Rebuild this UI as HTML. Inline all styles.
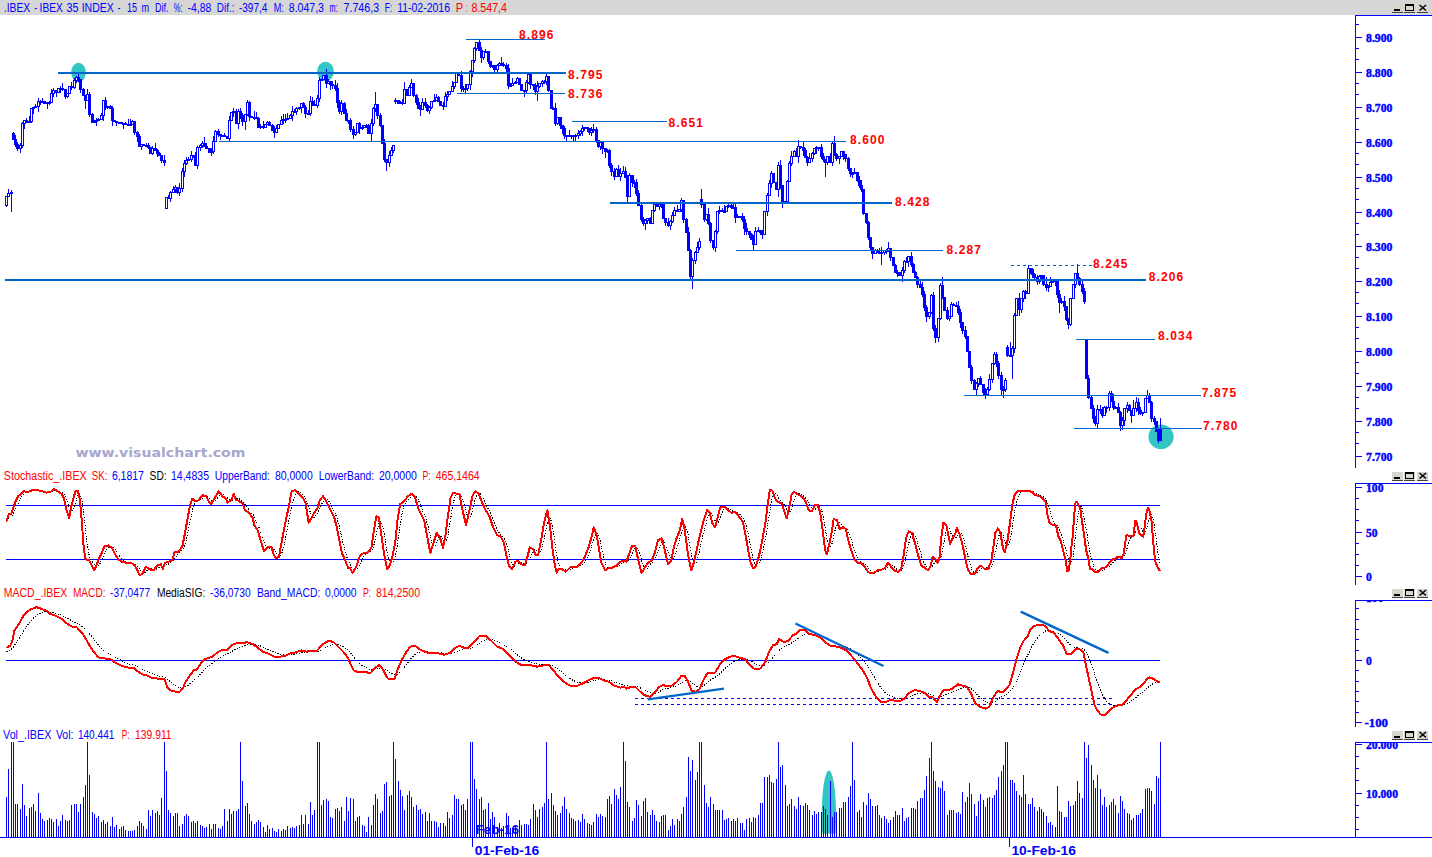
<!DOCTYPE html>
<html><head><meta charset="utf-8"><title>IBEX 35 chart</title><style>html,body{margin:0;padding:0;background:#fff;overflow:hidden}svg{display:block}</style></head><body>
<svg width="1432" height="857" viewBox="0 0 1432 857" shape-rendering="crispEdges">
<rect x="0" y="0" width="1432" height="857" fill="#ffffff"/>
<rect x="0" y="0" width="1432" height="15" fill="#d6d6d6"/>
<g shape-rendering="auto">
<ellipse cx="78.5" cy="72.5" rx="7.3" ry="9.8" fill="#33c4c4"/>
<ellipse cx="325.5" cy="71.5" rx="8.3" ry="9.8" fill="#33c4c4"/>
<ellipse cx="1161" cy="436.8" rx="12.6" ry="12.4" fill="#33c4c4"/>
<clipPath id="ce"><rect x="820" y="760" width="20" height="73.5"/></clipPath><ellipse cx="828.9" cy="815.7" rx="7.2" ry="45.2" fill="#33c4c4" clip-path="url(#ce)"/>
</g>
<rect x="6" y="196" width="1" height="11" fill="#0000ff"/>
<rect x="5" y="196" width="3" height="10" fill="#0000ff"/>
<rect x="6" y="197" width="1" height="8" fill="#fff"/>
<rect x="8" y="189" width="1" height="8" fill="#0000ff"/>
<rect x="7" y="193" width="3" height="4" fill="#0000ff"/>
<rect x="8" y="194" width="1" height="2" fill="#fff"/>
<rect x="11" y="190" width="1" height="22" fill="#0000ff"/>
<rect x="10" y="192" width="3" height="2" fill="#0000ff"/>
<rect x="13" y="132" width="1" height="8" fill="#0000ff"/>
<rect x="12" y="133" width="3" height="7" fill="#0000ff"/>
<rect x="15" y="135" width="1" height="12" fill="#0000ff"/>
<rect x="14" y="139" width="3" height="6" fill="#0000ff"/>
<rect x="17" y="142" width="1" height="9" fill="#0000ff"/>
<rect x="16" y="144" width="3" height="5" fill="#0000ff"/>
<rect x="20" y="143" width="1" height="10" fill="#0000ff"/>
<rect x="19" y="145" width="3" height="4" fill="#0000ff"/>
<rect x="20" y="146" width="1" height="2" fill="#fff"/>
<rect x="22" y="122" width="1" height="26" fill="#0000ff"/>
<rect x="21" y="123" width="3" height="23" fill="#0000ff"/>
<rect x="22" y="124" width="1" height="21" fill="#fff"/>
<rect x="24" y="120" width="1" height="9" fill="#0000ff"/>
<rect x="23" y="120" width="3" height="4" fill="#0000ff"/>
<rect x="24" y="121" width="1" height="2" fill="#fff"/>
<rect x="26" y="118" width="1" height="5" fill="#0000ff"/>
<rect x="25" y="120" width="3" height="3" fill="#0000ff"/>
<rect x="29" y="116" width="1" height="7" fill="#0000ff"/>
<rect x="28" y="121" width="3" height="2" fill="#0000ff"/>
<rect x="31" y="108" width="1" height="15" fill="#0000ff"/>
<rect x="30" y="108" width="3" height="14" fill="#0000ff"/>
<rect x="31" y="109" width="1" height="12" fill="#fff"/>
<rect x="33" y="107" width="1" height="7" fill="#0000ff"/>
<rect x="32" y="107" width="3" height="2" fill="#0000ff"/>
<rect x="35" y="104" width="1" height="4" fill="#0000ff"/>
<rect x="34" y="106" width="3" height="2" fill="#0000ff"/>
<rect x="38" y="98" width="1" height="14" fill="#0000ff"/>
<rect x="37" y="101" width="3" height="6" fill="#0000ff"/>
<rect x="38" y="102" width="1" height="4" fill="#fff"/>
<rect x="40" y="100" width="1" height="5" fill="#0000ff"/>
<rect x="39" y="101" width="3" height="2" fill="#0000ff"/>
<rect x="42" y="98" width="1" height="5" fill="#0000ff"/>
<rect x="41" y="101" width="3" height="2" fill="#0000ff"/>
<rect x="44" y="101" width="1" height="3" fill="#0000ff"/>
<rect x="43" y="101" width="3" height="3" fill="#0000ff"/>
<rect x="47" y="102" width="1" height="7" fill="#0000ff"/>
<rect x="46" y="102" width="3" height="2" fill="#0000ff"/>
<rect x="49" y="101" width="1" height="4" fill="#0000ff"/>
<rect x="48" y="102" width="3" height="2" fill="#0000ff"/>
<rect x="51" y="89" width="1" height="14" fill="#0000ff"/>
<rect x="50" y="93" width="3" height="10" fill="#0000ff"/>
<rect x="51" y="94" width="1" height="8" fill="#fff"/>
<rect x="53" y="88" width="1" height="9" fill="#0000ff"/>
<rect x="52" y="90" width="3" height="4" fill="#0000ff"/>
<rect x="53" y="91" width="1" height="2" fill="#fff"/>
<rect x="56" y="90" width="1" height="7" fill="#0000ff"/>
<rect x="55" y="90" width="3" height="3" fill="#0000ff"/>
<rect x="58" y="88" width="1" height="5" fill="#0000ff"/>
<rect x="57" y="88" width="3" height="5" fill="#0000ff"/>
<rect x="58" y="89" width="1" height="3" fill="#fff"/>
<rect x="60" y="86" width="1" height="7" fill="#0000ff"/>
<rect x="59" y="88" width="3" height="2" fill="#0000ff"/>
<rect x="62" y="83" width="1" height="8" fill="#0000ff"/>
<rect x="61" y="88" width="3" height="2" fill="#0000ff"/>
<rect x="65" y="89" width="1" height="10" fill="#0000ff"/>
<rect x="64" y="89" width="3" height="8" fill="#0000ff"/>
<rect x="67" y="93" width="1" height="5" fill="#0000ff"/>
<rect x="66" y="93" width="3" height="4" fill="#0000ff"/>
<rect x="67" y="94" width="1" height="2" fill="#fff"/>
<rect x="69" y="86" width="1" height="8" fill="#0000ff"/>
<rect x="68" y="86" width="3" height="8" fill="#0000ff"/>
<rect x="69" y="87" width="1" height="6" fill="#fff"/>
<rect x="71" y="82" width="1" height="8" fill="#0000ff"/>
<rect x="70" y="86" width="3" height="2" fill="#0000ff"/>
<rect x="74" y="78" width="1" height="11" fill="#0000ff"/>
<rect x="73" y="80" width="3" height="8" fill="#0000ff"/>
<rect x="74" y="81" width="1" height="6" fill="#fff"/>
<rect x="76" y="76" width="1" height="7" fill="#0000ff"/>
<rect x="75" y="77" width="3" height="4" fill="#0000ff"/>
<rect x="76" y="78" width="1" height="2" fill="#fff"/>
<rect x="78" y="72" width="1" height="10" fill="#0000ff"/>
<rect x="77" y="77" width="3" height="3" fill="#0000ff"/>
<rect x="80" y="79" width="1" height="14" fill="#0000ff"/>
<rect x="79" y="79" width="3" height="11" fill="#0000ff"/>
<rect x="83" y="88" width="1" height="8" fill="#0000ff"/>
<rect x="82" y="89" width="3" height="7" fill="#0000ff"/>
<rect x="85" y="95" width="1" height="14" fill="#0000ff"/>
<rect x="84" y="95" width="3" height="6" fill="#0000ff"/>
<rect x="87" y="89" width="1" height="12" fill="#0000ff"/>
<rect x="86" y="94" width="3" height="7" fill="#0000ff"/>
<rect x="87" y="95" width="1" height="5" fill="#fff"/>
<rect x="89" y="92" width="1" height="25" fill="#0000ff"/>
<rect x="88" y="94" width="3" height="21" fill="#0000ff"/>
<rect x="92" y="113" width="1" height="10" fill="#0000ff"/>
<rect x="91" y="114" width="3" height="9" fill="#0000ff"/>
<rect x="94" y="120" width="1" height="3" fill="#0000ff"/>
<rect x="93" y="121" width="3" height="2" fill="#0000ff"/>
<rect x="96" y="118" width="1" height="8" fill="#0000ff"/>
<rect x="95" y="120" width="3" height="2" fill="#0000ff"/>
<rect x="98" y="118" width="1" height="3" fill="#0000ff"/>
<rect x="97" y="119" width="3" height="2" fill="#0000ff"/>
<rect x="101" y="113" width="1" height="7" fill="#0000ff"/>
<rect x="100" y="115" width="3" height="5" fill="#0000ff"/>
<rect x="101" y="116" width="1" height="3" fill="#fff"/>
<rect x="103" y="100" width="1" height="21" fill="#0000ff"/>
<rect x="102" y="100" width="3" height="16" fill="#0000ff"/>
<rect x="103" y="101" width="1" height="14" fill="#fff"/>
<rect x="105" y="97" width="1" height="13" fill="#0000ff"/>
<rect x="104" y="100" width="3" height="8" fill="#0000ff"/>
<rect x="107" y="106" width="1" height="3" fill="#0000ff"/>
<rect x="106" y="106" width="3" height="2" fill="#0000ff"/>
<rect x="110" y="105" width="1" height="4" fill="#0000ff"/>
<rect x="109" y="106" width="3" height="3" fill="#0000ff"/>
<rect x="112" y="106" width="1" height="20" fill="#0000ff"/>
<rect x="111" y="108" width="3" height="13" fill="#0000ff"/>
<rect x="114" y="120" width="1" height="2" fill="#0000ff"/>
<rect x="113" y="120" width="3" height="2" fill="#0000ff"/>
<rect x="116" y="121" width="1" height="5" fill="#0000ff"/>
<rect x="115" y="121" width="3" height="2" fill="#0000ff"/>
<rect x="118" y="122" width="3" height="2" fill="#0000ff"/>
<rect x="121" y="122" width="1" height="2" fill="#0000ff"/>
<rect x="120" y="122" width="3" height="2" fill="#0000ff"/>
<rect x="123" y="123" width="1" height="6" fill="#0000ff"/>
<rect x="122" y="123" width="3" height="2" fill="#0000ff"/>
<rect x="125" y="122" width="1" height="3" fill="#0000ff"/>
<rect x="124" y="123" width="3" height="2" fill="#0000ff"/>
<rect x="128" y="119" width="1" height="6" fill="#0000ff"/>
<rect x="127" y="124" width="3" height="2" fill="#0000ff"/>
<rect x="130" y="119" width="1" height="6" fill="#0000ff"/>
<rect x="129" y="124" width="3" height="2" fill="#0000ff"/>
<rect x="132" y="120" width="1" height="5" fill="#0000ff"/>
<rect x="131" y="121" width="3" height="4" fill="#0000ff"/>
<rect x="132" y="122" width="1" height="2" fill="#fff"/>
<rect x="134" y="121" width="1" height="14" fill="#0000ff"/>
<rect x="133" y="121" width="3" height="12" fill="#0000ff"/>
<rect x="137" y="131" width="1" height="11" fill="#0000ff"/>
<rect x="136" y="132" width="3" height="5" fill="#0000ff"/>
<rect x="139" y="134" width="1" height="13" fill="#0000ff"/>
<rect x="138" y="136" width="3" height="11" fill="#0000ff"/>
<rect x="141" y="144" width="1" height="6" fill="#0000ff"/>
<rect x="140" y="144" width="3" height="3" fill="#0000ff"/>
<rect x="141" y="145" width="1" height="1" fill="#fff"/>
<rect x="143" y="144" width="1" height="2" fill="#0000ff"/>
<rect x="142" y="144" width="3" height="2" fill="#0000ff"/>
<rect x="146" y="143" width="1" height="3" fill="#0000ff"/>
<rect x="145" y="145" width="3" height="2" fill="#0000ff"/>
<rect x="148" y="143" width="1" height="6" fill="#0000ff"/>
<rect x="147" y="145" width="3" height="3" fill="#0000ff"/>
<rect x="150" y="147" width="1" height="7" fill="#0000ff"/>
<rect x="149" y="147" width="3" height="7" fill="#0000ff"/>
<rect x="152" y="146" width="1" height="9" fill="#0000ff"/>
<rect x="151" y="148" width="3" height="6" fill="#0000ff"/>
<rect x="152" y="149" width="1" height="4" fill="#fff"/>
<rect x="155" y="143" width="1" height="8" fill="#0000ff"/>
<rect x="154" y="148" width="3" height="3" fill="#0000ff"/>
<rect x="157" y="149" width="1" height="8" fill="#0000ff"/>
<rect x="156" y="150" width="3" height="4" fill="#0000ff"/>
<rect x="159" y="152" width="1" height="4" fill="#0000ff"/>
<rect x="158" y="153" width="3" height="3" fill="#0000ff"/>
<rect x="161" y="155" width="1" height="8" fill="#0000ff"/>
<rect x="160" y="155" width="3" height="6" fill="#0000ff"/>
<rect x="164" y="155" width="1" height="11" fill="#0000ff"/>
<rect x="163" y="160" width="3" height="3" fill="#0000ff"/>
<rect x="166" y="197" width="1" height="12" fill="#0000ff"/>
<rect x="165" y="197" width="3" height="12" fill="#0000ff"/>
<rect x="166" y="198" width="1" height="10" fill="#fff"/>
<rect x="168" y="195" width="1" height="4" fill="#0000ff"/>
<rect x="167" y="197" width="3" height="2" fill="#0000ff"/>
<rect x="170" y="191" width="1" height="11" fill="#0000ff"/>
<rect x="169" y="192" width="3" height="7" fill="#0000ff"/>
<rect x="170" y="193" width="1" height="5" fill="#fff"/>
<rect x="173" y="186" width="1" height="7" fill="#0000ff"/>
<rect x="172" y="189" width="3" height="4" fill="#0000ff"/>
<rect x="173" y="190" width="1" height="2" fill="#fff"/>
<rect x="175" y="185" width="1" height="8" fill="#0000ff"/>
<rect x="174" y="187" width="3" height="3" fill="#0000ff"/>
<rect x="175" y="188" width="1" height="1" fill="#fff"/>
<rect x="177" y="187" width="1" height="7" fill="#0000ff"/>
<rect x="176" y="187" width="3" height="6" fill="#0000ff"/>
<rect x="179" y="183" width="1" height="13" fill="#0000ff"/>
<rect x="178" y="188" width="3" height="5" fill="#0000ff"/>
<rect x="179" y="189" width="1" height="3" fill="#fff"/>
<rect x="182" y="168" width="1" height="24" fill="#0000ff"/>
<rect x="181" y="171" width="3" height="18" fill="#0000ff"/>
<rect x="182" y="172" width="1" height="16" fill="#fff"/>
<rect x="184" y="160" width="1" height="17" fill="#0000ff"/>
<rect x="183" y="163" width="3" height="9" fill="#0000ff"/>
<rect x="184" y="164" width="1" height="7" fill="#fff"/>
<rect x="186" y="157" width="1" height="8" fill="#0000ff"/>
<rect x="185" y="160" width="3" height="4" fill="#0000ff"/>
<rect x="186" y="161" width="1" height="2" fill="#fff"/>
<rect x="188" y="157" width="1" height="4" fill="#0000ff"/>
<rect x="187" y="159" width="3" height="2" fill="#0000ff"/>
<rect x="191" y="151" width="1" height="11" fill="#0000ff"/>
<rect x="190" y="155" width="3" height="5" fill="#0000ff"/>
<rect x="191" y="156" width="1" height="3" fill="#fff"/>
<rect x="193" y="155" width="1" height="3" fill="#0000ff"/>
<rect x="192" y="155" width="3" height="3" fill="#0000ff"/>
<rect x="195" y="152" width="1" height="14" fill="#0000ff"/>
<rect x="194" y="157" width="3" height="9" fill="#0000ff"/>
<rect x="197" y="146" width="1" height="23" fill="#0000ff"/>
<rect x="196" y="147" width="3" height="19" fill="#0000ff"/>
<rect x="197" y="148" width="1" height="17" fill="#fff"/>
<rect x="200" y="144" width="1" height="7" fill="#0000ff"/>
<rect x="199" y="145" width="3" height="3" fill="#0000ff"/>
<rect x="200" y="146" width="1" height="1" fill="#fff"/>
<rect x="202" y="141" width="1" height="7" fill="#0000ff"/>
<rect x="201" y="143" width="3" height="3" fill="#0000ff"/>
<rect x="202" y="144" width="1" height="1" fill="#fff"/>
<rect x="204" y="137" width="1" height="10" fill="#0000ff"/>
<rect x="203" y="143" width="3" height="4" fill="#0000ff"/>
<rect x="206" y="143" width="1" height="6" fill="#0000ff"/>
<rect x="205" y="146" width="3" height="3" fill="#0000ff"/>
<rect x="209" y="148" width="1" height="5" fill="#0000ff"/>
<rect x="208" y="148" width="3" height="5" fill="#0000ff"/>
<rect x="211" y="148" width="1" height="8" fill="#0000ff"/>
<rect x="210" y="151" width="3" height="2" fill="#0000ff"/>
<rect x="213" y="136" width="1" height="18" fill="#0000ff"/>
<rect x="212" y="141" width="3" height="11" fill="#0000ff"/>
<rect x="213" y="142" width="1" height="9" fill="#fff"/>
<rect x="215" y="130" width="1" height="12" fill="#0000ff"/>
<rect x="214" y="131" width="3" height="11" fill="#0000ff"/>
<rect x="215" y="132" width="1" height="9" fill="#fff"/>
<rect x="218" y="129" width="1" height="8" fill="#0000ff"/>
<rect x="217" y="131" width="3" height="4" fill="#0000ff"/>
<rect x="220" y="134" width="1" height="6" fill="#0000ff"/>
<rect x="219" y="134" width="3" height="2" fill="#0000ff"/>
<rect x="222" y="135" width="1" height="2" fill="#0000ff"/>
<rect x="221" y="135" width="3" height="2" fill="#0000ff"/>
<rect x="224" y="133" width="1" height="4" fill="#0000ff"/>
<rect x="223" y="135" width="3" height="2" fill="#0000ff"/>
<rect x="227" y="136" width="1" height="3" fill="#0000ff"/>
<rect x="226" y="136" width="3" height="3" fill="#0000ff"/>
<rect x="229" y="116" width="1" height="25" fill="#0000ff"/>
<rect x="228" y="120" width="3" height="19" fill="#0000ff"/>
<rect x="229" y="121" width="1" height="17" fill="#fff"/>
<rect x="231" y="112" width="1" height="9" fill="#0000ff"/>
<rect x="230" y="112" width="3" height="9" fill="#0000ff"/>
<rect x="231" y="113" width="1" height="7" fill="#fff"/>
<rect x="233" y="108" width="1" height="9" fill="#0000ff"/>
<rect x="232" y="111" width="3" height="2" fill="#0000ff"/>
<rect x="236" y="109" width="1" height="15" fill="#0000ff"/>
<rect x="235" y="111" width="3" height="13" fill="#0000ff"/>
<rect x="238" y="109" width="1" height="20" fill="#0000ff"/>
<rect x="237" y="111" width="3" height="13" fill="#0000ff"/>
<rect x="238" y="112" width="1" height="11" fill="#fff"/>
<rect x="240" y="108" width="1" height="11" fill="#0000ff"/>
<rect x="239" y="111" width="3" height="5" fill="#0000ff"/>
<rect x="242" y="113" width="1" height="13" fill="#0000ff"/>
<rect x="241" y="115" width="3" height="7" fill="#0000ff"/>
<rect x="245" y="114" width="1" height="16" fill="#0000ff"/>
<rect x="244" y="114" width="3" height="8" fill="#0000ff"/>
<rect x="245" y="115" width="1" height="6" fill="#fff"/>
<rect x="247" y="100" width="1" height="16" fill="#0000ff"/>
<rect x="246" y="102" width="3" height="13" fill="#0000ff"/>
<rect x="247" y="103" width="1" height="11" fill="#fff"/>
<rect x="249" y="101" width="1" height="20" fill="#0000ff"/>
<rect x="248" y="102" width="3" height="15" fill="#0000ff"/>
<rect x="251" y="116" width="1" height="2" fill="#0000ff"/>
<rect x="250" y="116" width="3" height="2" fill="#0000ff"/>
<rect x="254" y="111" width="1" height="9" fill="#0000ff"/>
<rect x="253" y="117" width="3" height="2" fill="#0000ff"/>
<rect x="256" y="112" width="1" height="7" fill="#0000ff"/>
<rect x="255" y="117" width="3" height="2" fill="#0000ff"/>
<rect x="258" y="117" width="1" height="11" fill="#0000ff"/>
<rect x="257" y="118" width="3" height="10" fill="#0000ff"/>
<rect x="260" y="124" width="1" height="5" fill="#0000ff"/>
<rect x="259" y="126" width="3" height="2" fill="#0000ff"/>
<rect x="263" y="121" width="1" height="8" fill="#0000ff"/>
<rect x="262" y="126" width="3" height="2" fill="#0000ff"/>
<rect x="265" y="124" width="1" height="4" fill="#0000ff"/>
<rect x="264" y="124" width="3" height="4" fill="#0000ff"/>
<rect x="265" y="125" width="1" height="2" fill="#fff"/>
<rect x="267" y="121" width="1" height="4" fill="#0000ff"/>
<rect x="266" y="122" width="3" height="3" fill="#0000ff"/>
<rect x="267" y="123" width="1" height="1" fill="#fff"/>
<rect x="269" y="121" width="1" height="5" fill="#0000ff"/>
<rect x="268" y="122" width="3" height="4" fill="#0000ff"/>
<rect x="272" y="124" width="1" height="7" fill="#0000ff"/>
<rect x="271" y="125" width="3" height="6" fill="#0000ff"/>
<rect x="274" y="126" width="1" height="12" fill="#0000ff"/>
<rect x="273" y="130" width="3" height="3" fill="#0000ff"/>
<rect x="276" y="125" width="1" height="8" fill="#0000ff"/>
<rect x="275" y="128" width="3" height="5" fill="#0000ff"/>
<rect x="276" y="129" width="1" height="3" fill="#fff"/>
<rect x="278" y="124" width="1" height="5" fill="#0000ff"/>
<rect x="277" y="124" width="3" height="5" fill="#0000ff"/>
<rect x="278" y="125" width="1" height="3" fill="#fff"/>
<rect x="281" y="116" width="1" height="9" fill="#0000ff"/>
<rect x="280" y="120" width="3" height="5" fill="#0000ff"/>
<rect x="281" y="121" width="1" height="3" fill="#fff"/>
<rect x="283" y="114" width="1" height="10" fill="#0000ff"/>
<rect x="282" y="119" width="3" height="2" fill="#0000ff"/>
<rect x="285" y="114" width="1" height="9" fill="#0000ff"/>
<rect x="284" y="119" width="3" height="2" fill="#0000ff"/>
<rect x="287" y="113" width="1" height="7" fill="#0000ff"/>
<rect x="286" y="118" width="3" height="2" fill="#0000ff"/>
<rect x="290" y="114" width="1" height="5" fill="#0000ff"/>
<rect x="289" y="115" width="3" height="4" fill="#0000ff"/>
<rect x="290" y="116" width="1" height="2" fill="#fff"/>
<rect x="292" y="106" width="1" height="15" fill="#0000ff"/>
<rect x="291" y="111" width="3" height="5" fill="#0000ff"/>
<rect x="292" y="112" width="1" height="3" fill="#fff"/>
<rect x="294" y="109" width="1" height="3" fill="#0000ff"/>
<rect x="293" y="111" width="3" height="2" fill="#0000ff"/>
<rect x="296" y="107" width="1" height="8" fill="#0000ff"/>
<rect x="295" y="108" width="3" height="4" fill="#0000ff"/>
<rect x="296" y="109" width="1" height="2" fill="#fff"/>
<rect x="299" y="107" width="1" height="3" fill="#0000ff"/>
<rect x="298" y="107" width="3" height="2" fill="#0000ff"/>
<rect x="301" y="103" width="1" height="10" fill="#0000ff"/>
<rect x="300" y="103" width="3" height="5" fill="#0000ff"/>
<rect x="301" y="104" width="1" height="3" fill="#fff"/>
<rect x="303" y="102" width="1" height="6" fill="#0000ff"/>
<rect x="302" y="103" width="3" height="5" fill="#0000ff"/>
<rect x="305" y="105" width="1" height="13" fill="#0000ff"/>
<rect x="304" y="107" width="3" height="7" fill="#0000ff"/>
<rect x="308" y="110" width="1" height="4" fill="#0000ff"/>
<rect x="307" y="113" width="3" height="2" fill="#0000ff"/>
<rect x="310" y="96" width="1" height="20" fill="#0000ff"/>
<rect x="309" y="101" width="3" height="13" fill="#0000ff"/>
<rect x="310" y="102" width="1" height="11" fill="#fff"/>
<rect x="312" y="97" width="1" height="9" fill="#0000ff"/>
<rect x="311" y="101" width="3" height="4" fill="#0000ff"/>
<rect x="314" y="100" width="1" height="6" fill="#0000ff"/>
<rect x="313" y="104" width="3" height="2" fill="#0000ff"/>
<rect x="317" y="95" width="1" height="13" fill="#0000ff"/>
<rect x="316" y="98" width="3" height="8" fill="#0000ff"/>
<rect x="317" y="99" width="1" height="6" fill="#fff"/>
<rect x="319" y="77" width="1" height="25" fill="#0000ff"/>
<rect x="318" y="80" width="3" height="19" fill="#0000ff"/>
<rect x="319" y="81" width="1" height="17" fill="#fff"/>
<rect x="321" y="79" width="1" height="2" fill="#0000ff"/>
<rect x="320" y="79" width="3" height="2" fill="#0000ff"/>
<rect x="323" y="75" width="1" height="5" fill="#0000ff"/>
<rect x="322" y="75" width="3" height="5" fill="#0000ff"/>
<rect x="323" y="76" width="1" height="3" fill="#fff"/>
<rect x="326" y="69" width="1" height="19" fill="#0000ff"/>
<rect x="325" y="75" width="3" height="9" fill="#0000ff"/>
<rect x="328" y="79" width="1" height="5" fill="#0000ff"/>
<rect x="327" y="81" width="3" height="3" fill="#0000ff"/>
<rect x="328" y="82" width="1" height="1" fill="#fff"/>
<rect x="330" y="81" width="1" height="9" fill="#0000ff"/>
<rect x="329" y="81" width="3" height="4" fill="#0000ff"/>
<rect x="332" y="81" width="1" height="8" fill="#0000ff"/>
<rect x="331" y="84" width="3" height="2" fill="#0000ff"/>
<rect x="335" y="80" width="1" height="11" fill="#0000ff"/>
<rect x="334" y="85" width="3" height="4" fill="#0000ff"/>
<rect x="337" y="83" width="1" height="25" fill="#0000ff"/>
<rect x="336" y="88" width="3" height="15" fill="#0000ff"/>
<rect x="339" y="100" width="1" height="14" fill="#0000ff"/>
<rect x="338" y="102" width="3" height="10" fill="#0000ff"/>
<rect x="341" y="100" width="1" height="15" fill="#0000ff"/>
<rect x="340" y="103" width="3" height="9" fill="#0000ff"/>
<rect x="341" y="104" width="1" height="7" fill="#fff"/>
<rect x="344" y="102" width="1" height="12" fill="#0000ff"/>
<rect x="343" y="103" width="3" height="11" fill="#0000ff"/>
<rect x="346" y="109" width="1" height="12" fill="#0000ff"/>
<rect x="345" y="113" width="3" height="8" fill="#0000ff"/>
<rect x="348" y="120" width="1" height="4" fill="#0000ff"/>
<rect x="347" y="120" width="3" height="2" fill="#0000ff"/>
<rect x="350" y="118" width="1" height="14" fill="#0000ff"/>
<rect x="349" y="120" width="3" height="10" fill="#0000ff"/>
<rect x="353" y="126" width="1" height="13" fill="#0000ff"/>
<rect x="352" y="129" width="3" height="6" fill="#0000ff"/>
<rect x="355" y="132" width="1" height="4" fill="#0000ff"/>
<rect x="354" y="132" width="3" height="3" fill="#0000ff"/>
<rect x="355" y="133" width="1" height="1" fill="#fff"/>
<rect x="357" y="123" width="1" height="10" fill="#0000ff"/>
<rect x="356" y="123" width="3" height="10" fill="#0000ff"/>
<rect x="357" y="124" width="1" height="8" fill="#fff"/>
<rect x="359" y="122" width="1" height="12" fill="#0000ff"/>
<rect x="358" y="123" width="3" height="6" fill="#0000ff"/>
<rect x="362" y="125" width="1" height="5" fill="#0000ff"/>
<rect x="361" y="127" width="3" height="2" fill="#0000ff"/>
<rect x="364" y="125" width="1" height="3" fill="#0000ff"/>
<rect x="363" y="125" width="3" height="3" fill="#0000ff"/>
<rect x="364" y="126" width="1" height="1" fill="#fff"/>
<rect x="366" y="124" width="1" height="4" fill="#0000ff"/>
<rect x="365" y="125" width="3" height="2" fill="#0000ff"/>
<rect x="368" y="124" width="1" height="10" fill="#0000ff"/>
<rect x="367" y="125" width="3" height="9" fill="#0000ff"/>
<rect x="371" y="119" width="1" height="22" fill="#0000ff"/>
<rect x="370" y="123" width="3" height="11" fill="#0000ff"/>
<rect x="371" y="124" width="1" height="9" fill="#fff"/>
<rect x="373" y="107" width="1" height="19" fill="#0000ff"/>
<rect x="372" y="108" width="3" height="16" fill="#0000ff"/>
<rect x="373" y="109" width="1" height="14" fill="#fff"/>
<rect x="375" y="92" width="1" height="20" fill="#0000ff"/>
<rect x="374" y="104" width="3" height="5" fill="#0000ff"/>
<rect x="375" y="105" width="1" height="3" fill="#fff"/>
<rect x="377" y="104" width="1" height="15" fill="#0000ff"/>
<rect x="376" y="104" width="3" height="12" fill="#0000ff"/>
<rect x="380" y="113" width="1" height="14" fill="#0000ff"/>
<rect x="379" y="115" width="3" height="11" fill="#0000ff"/>
<rect x="382" y="125" width="1" height="19" fill="#0000ff"/>
<rect x="381" y="125" width="3" height="19" fill="#0000ff"/>
<rect x="384" y="139" width="1" height="23" fill="#0000ff"/>
<rect x="383" y="143" width="3" height="17" fill="#0000ff"/>
<rect x="386" y="159" width="1" height="12" fill="#0000ff"/>
<rect x="385" y="159" width="3" height="4" fill="#0000ff"/>
<rect x="389" y="151" width="1" height="16" fill="#0000ff"/>
<rect x="388" y="155" width="3" height="8" fill="#0000ff"/>
<rect x="389" y="156" width="1" height="6" fill="#fff"/>
<rect x="391" y="147" width="1" height="9" fill="#0000ff"/>
<rect x="390" y="150" width="3" height="6" fill="#0000ff"/>
<rect x="391" y="151" width="1" height="4" fill="#fff"/>
<rect x="393" y="145" width="1" height="8" fill="#0000ff"/>
<rect x="392" y="145" width="3" height="6" fill="#0000ff"/>
<rect x="393" y="146" width="1" height="4" fill="#fff"/>
<rect x="395" y="98" width="1" height="6" fill="#0000ff"/>
<rect x="394" y="100" width="3" height="2" fill="#0000ff"/>
<rect x="398" y="100" width="1" height="4" fill="#0000ff"/>
<rect x="397" y="100" width="3" height="4" fill="#0000ff"/>
<rect x="400" y="101" width="1" height="3" fill="#0000ff"/>
<rect x="399" y="102" width="3" height="2" fill="#0000ff"/>
<rect x="402" y="99" width="1" height="6" fill="#0000ff"/>
<rect x="401" y="102" width="3" height="2" fill="#0000ff"/>
<rect x="404" y="82" width="1" height="22" fill="#0000ff"/>
<rect x="403" y="89" width="3" height="15" fill="#0000ff"/>
<rect x="404" y="90" width="1" height="13" fill="#fff"/>
<rect x="407" y="89" width="1" height="7" fill="#0000ff"/>
<rect x="406" y="89" width="3" height="7" fill="#0000ff"/>
<rect x="409" y="85" width="1" height="11" fill="#0000ff"/>
<rect x="408" y="87" width="3" height="9" fill="#0000ff"/>
<rect x="409" y="88" width="1" height="7" fill="#fff"/>
<rect x="411" y="79" width="1" height="9" fill="#0000ff"/>
<rect x="410" y="83" width="3" height="5" fill="#0000ff"/>
<rect x="411" y="84" width="1" height="3" fill="#fff"/>
<rect x="413" y="83" width="1" height="14" fill="#0000ff"/>
<rect x="412" y="83" width="3" height="13" fill="#0000ff"/>
<rect x="416" y="94" width="1" height="11" fill="#0000ff"/>
<rect x="415" y="95" width="3" height="8" fill="#0000ff"/>
<rect x="418" y="98" width="1" height="11" fill="#0000ff"/>
<rect x="417" y="102" width="3" height="7" fill="#0000ff"/>
<rect x="420" y="105" width="1" height="11" fill="#0000ff"/>
<rect x="419" y="108" width="3" height="2" fill="#0000ff"/>
<rect x="422" y="98" width="1" height="12" fill="#0000ff"/>
<rect x="421" y="102" width="3" height="8" fill="#0000ff"/>
<rect x="422" y="103" width="1" height="6" fill="#fff"/>
<rect x="425" y="98" width="1" height="10" fill="#0000ff"/>
<rect x="424" y="102" width="3" height="4" fill="#0000ff"/>
<rect x="427" y="104" width="1" height="8" fill="#0000ff"/>
<rect x="426" y="105" width="3" height="6" fill="#0000ff"/>
<rect x="429" y="106" width="1" height="8" fill="#0000ff"/>
<rect x="428" y="107" width="3" height="4" fill="#0000ff"/>
<rect x="429" y="108" width="1" height="2" fill="#fff"/>
<rect x="431" y="101" width="1" height="8" fill="#0000ff"/>
<rect x="430" y="101" width="3" height="7" fill="#0000ff"/>
<rect x="431" y="102" width="1" height="5" fill="#fff"/>
<rect x="434" y="94" width="1" height="8" fill="#0000ff"/>
<rect x="433" y="100" width="3" height="2" fill="#0000ff"/>
<rect x="436" y="94" width="1" height="7" fill="#0000ff"/>
<rect x="435" y="97" width="3" height="4" fill="#0000ff"/>
<rect x="436" y="98" width="1" height="2" fill="#fff"/>
<rect x="438" y="96" width="1" height="6" fill="#0000ff"/>
<rect x="437" y="97" width="3" height="5" fill="#0000ff"/>
<rect x="440" y="101" width="1" height="5" fill="#0000ff"/>
<rect x="439" y="101" width="3" height="5" fill="#0000ff"/>
<rect x="443" y="102" width="1" height="8" fill="#0000ff"/>
<rect x="442" y="105" width="3" height="2" fill="#0000ff"/>
<rect x="445" y="92" width="1" height="15" fill="#0000ff"/>
<rect x="444" y="96" width="3" height="11" fill="#0000ff"/>
<rect x="445" y="97" width="1" height="9" fill="#fff"/>
<rect x="447" y="91" width="1" height="10" fill="#0000ff"/>
<rect x="446" y="94" width="3" height="3" fill="#0000ff"/>
<rect x="447" y="95" width="1" height="1" fill="#fff"/>
<rect x="449" y="91" width="1" height="4" fill="#0000ff"/>
<rect x="448" y="91" width="3" height="4" fill="#0000ff"/>
<rect x="449" y="92" width="1" height="2" fill="#fff"/>
<rect x="452" y="81" width="1" height="11" fill="#0000ff"/>
<rect x="451" y="86" width="3" height="6" fill="#0000ff"/>
<rect x="452" y="87" width="1" height="4" fill="#fff"/>
<rect x="454" y="82" width="1" height="7" fill="#0000ff"/>
<rect x="453" y="82" width="3" height="5" fill="#0000ff"/>
<rect x="454" y="83" width="1" height="3" fill="#fff"/>
<rect x="456" y="73" width="1" height="10" fill="#0000ff"/>
<rect x="455" y="73" width="3" height="10" fill="#0000ff"/>
<rect x="456" y="74" width="1" height="8" fill="#fff"/>
<rect x="458" y="73" width="1" height="3" fill="#0000ff"/>
<rect x="457" y="73" width="3" height="3" fill="#0000ff"/>
<rect x="461" y="71" width="1" height="21" fill="#0000ff"/>
<rect x="460" y="75" width="3" height="14" fill="#0000ff"/>
<rect x="463" y="86" width="1" height="6" fill="#0000ff"/>
<rect x="462" y="88" width="3" height="2" fill="#0000ff"/>
<rect x="465" y="84" width="1" height="9" fill="#0000ff"/>
<rect x="464" y="88" width="3" height="2" fill="#0000ff"/>
<rect x="467" y="84" width="1" height="7" fill="#0000ff"/>
<rect x="466" y="84" width="3" height="5" fill="#0000ff"/>
<rect x="467" y="85" width="1" height="3" fill="#fff"/>
<rect x="470" y="70" width="1" height="20" fill="#0000ff"/>
<rect x="469" y="71" width="3" height="14" fill="#0000ff"/>
<rect x="470" y="72" width="1" height="12" fill="#fff"/>
<rect x="472" y="60" width="1" height="17" fill="#0000ff"/>
<rect x="471" y="60" width="3" height="12" fill="#0000ff"/>
<rect x="472" y="61" width="1" height="10" fill="#fff"/>
<rect x="474" y="47" width="1" height="16" fill="#0000ff"/>
<rect x="473" y="48" width="3" height="13" fill="#0000ff"/>
<rect x="474" y="49" width="1" height="11" fill="#fff"/>
<rect x="476" y="42" width="1" height="9" fill="#0000ff"/>
<rect x="475" y="42" width="3" height="7" fill="#0000ff"/>
<rect x="476" y="43" width="1" height="5" fill="#fff"/>
<rect x="479" y="39" width="1" height="12" fill="#0000ff"/>
<rect x="478" y="42" width="3" height="9" fill="#0000ff"/>
<rect x="481" y="47" width="1" height="16" fill="#0000ff"/>
<rect x="480" y="50" width="3" height="8" fill="#0000ff"/>
<rect x="483" y="51" width="1" height="9" fill="#0000ff"/>
<rect x="482" y="51" width="3" height="7" fill="#0000ff"/>
<rect x="483" y="52" width="1" height="5" fill="#fff"/>
<rect x="485" y="49" width="1" height="3" fill="#0000ff"/>
<rect x="484" y="51" width="3" height="2" fill="#0000ff"/>
<rect x="488" y="51" width="1" height="13" fill="#0000ff"/>
<rect x="487" y="51" width="3" height="11" fill="#0000ff"/>
<rect x="490" y="61" width="1" height="7" fill="#0000ff"/>
<rect x="489" y="61" width="3" height="6" fill="#0000ff"/>
<rect x="492" y="65" width="1" height="3" fill="#0000ff"/>
<rect x="491" y="65" width="3" height="2" fill="#0000ff"/>
<rect x="494" y="65" width="1" height="8" fill="#0000ff"/>
<rect x="493" y="65" width="3" height="5" fill="#0000ff"/>
<rect x="497" y="64" width="1" height="9" fill="#0000ff"/>
<rect x="496" y="65" width="3" height="5" fill="#0000ff"/>
<rect x="497" y="66" width="1" height="3" fill="#fff"/>
<rect x="499" y="62" width="1" height="4" fill="#0000ff"/>
<rect x="498" y="63" width="3" height="3" fill="#0000ff"/>
<rect x="499" y="64" width="1" height="1" fill="#fff"/>
<rect x="501" y="57" width="1" height="9" fill="#0000ff"/>
<rect x="500" y="63" width="3" height="2" fill="#0000ff"/>
<rect x="503" y="62" width="1" height="5" fill="#0000ff"/>
<rect x="502" y="64" width="3" height="2" fill="#0000ff"/>
<rect x="506" y="63" width="1" height="9" fill="#0000ff"/>
<rect x="505" y="65" width="3" height="4" fill="#0000ff"/>
<rect x="508" y="64" width="1" height="25" fill="#0000ff"/>
<rect x="507" y="68" width="3" height="18" fill="#0000ff"/>
<rect x="510" y="83" width="1" height="4" fill="#0000ff"/>
<rect x="509" y="85" width="3" height="2" fill="#0000ff"/>
<rect x="512" y="78" width="1" height="8" fill="#0000ff"/>
<rect x="511" y="83" width="3" height="3" fill="#0000ff"/>
<rect x="512" y="84" width="1" height="1" fill="#fff"/>
<rect x="515" y="81" width="1" height="3" fill="#0000ff"/>
<rect x="514" y="82" width="3" height="2" fill="#0000ff"/>
<rect x="517" y="77" width="1" height="6" fill="#0000ff"/>
<rect x="516" y="78" width="3" height="5" fill="#0000ff"/>
<rect x="517" y="79" width="1" height="3" fill="#fff"/>
<rect x="519" y="78" width="1" height="7" fill="#0000ff"/>
<rect x="518" y="78" width="3" height="7" fill="#0000ff"/>
<rect x="521" y="84" width="1" height="7" fill="#0000ff"/>
<rect x="520" y="84" width="3" height="7" fill="#0000ff"/>
<rect x="524" y="90" width="1" height="7" fill="#0000ff"/>
<rect x="523" y="90" width="3" height="2" fill="#0000ff"/>
<rect x="526" y="80" width="1" height="13" fill="#0000ff"/>
<rect x="525" y="82" width="3" height="9" fill="#0000ff"/>
<rect x="526" y="83" width="1" height="7" fill="#fff"/>
<rect x="528" y="72" width="1" height="12" fill="#0000ff"/>
<rect x="527" y="74" width="3" height="9" fill="#0000ff"/>
<rect x="528" y="75" width="1" height="7" fill="#fff"/>
<rect x="530" y="74" width="1" height="15" fill="#0000ff"/>
<rect x="529" y="74" width="3" height="11" fill="#0000ff"/>
<rect x="533" y="84" width="1" height="6" fill="#0000ff"/>
<rect x="532" y="84" width="3" height="2" fill="#0000ff"/>
<rect x="535" y="83" width="1" height="12" fill="#0000ff"/>
<rect x="534" y="85" width="3" height="7" fill="#0000ff"/>
<rect x="537" y="81" width="1" height="20" fill="#0000ff"/>
<rect x="536" y="86" width="3" height="6" fill="#0000ff"/>
<rect x="537" y="87" width="1" height="4" fill="#fff"/>
<rect x="539" y="83" width="1" height="5" fill="#0000ff"/>
<rect x="538" y="83" width="3" height="4" fill="#0000ff"/>
<rect x="539" y="84" width="1" height="2" fill="#fff"/>
<rect x="542" y="80" width="1" height="7" fill="#0000ff"/>
<rect x="541" y="81" width="3" height="3" fill="#0000ff"/>
<rect x="542" y="82" width="1" height="1" fill="#fff"/>
<rect x="544" y="80" width="1" height="4" fill="#0000ff"/>
<rect x="543" y="81" width="3" height="2" fill="#0000ff"/>
<rect x="546" y="74" width="1" height="11" fill="#0000ff"/>
<rect x="545" y="76" width="3" height="6" fill="#0000ff"/>
<rect x="546" y="77" width="1" height="4" fill="#fff"/>
<rect x="548" y="76" width="1" height="16" fill="#0000ff"/>
<rect x="547" y="76" width="3" height="15" fill="#0000ff"/>
<rect x="551" y="90" width="1" height="19" fill="#0000ff"/>
<rect x="550" y="90" width="3" height="19" fill="#0000ff"/>
<rect x="553" y="107" width="1" height="2" fill="#0000ff"/>
<rect x="552" y="108" width="3" height="2" fill="#0000ff"/>
<rect x="555" y="103" width="1" height="23" fill="#0000ff"/>
<rect x="554" y="108" width="3" height="16" fill="#0000ff"/>
<rect x="557" y="117" width="1" height="8" fill="#0000ff"/>
<rect x="556" y="117" width="3" height="7" fill="#0000ff"/>
<rect x="557" y="118" width="1" height="5" fill="#fff"/>
<rect x="560" y="117" width="1" height="12" fill="#0000ff"/>
<rect x="559" y="117" width="3" height="9" fill="#0000ff"/>
<rect x="562" y="125" width="1" height="9" fill="#0000ff"/>
<rect x="561" y="125" width="3" height="4" fill="#0000ff"/>
<rect x="564" y="126" width="1" height="13" fill="#0000ff"/>
<rect x="563" y="128" width="3" height="8" fill="#0000ff"/>
<rect x="566" y="135" width="1" height="7" fill="#0000ff"/>
<rect x="565" y="135" width="3" height="2" fill="#0000ff"/>
<rect x="569" y="130" width="1" height="7" fill="#0000ff"/>
<rect x="568" y="135" width="3" height="2" fill="#0000ff"/>
<rect x="571" y="135" width="1" height="4" fill="#0000ff"/>
<rect x="570" y="135" width="3" height="2" fill="#0000ff"/>
<rect x="573" y="135" width="1" height="7" fill="#0000ff"/>
<rect x="572" y="135" width="3" height="2" fill="#0000ff"/>
<rect x="575" y="134" width="1" height="7" fill="#0000ff"/>
<rect x="574" y="135" width="3" height="2" fill="#0000ff"/>
<rect x="578" y="130" width="1" height="9" fill="#0000ff"/>
<rect x="577" y="133" width="3" height="3" fill="#0000ff"/>
<rect x="578" y="134" width="1" height="1" fill="#fff"/>
<rect x="580" y="130" width="1" height="6" fill="#0000ff"/>
<rect x="579" y="131" width="3" height="3" fill="#0000ff"/>
<rect x="580" y="132" width="1" height="1" fill="#fff"/>
<rect x="582" y="125" width="1" height="11" fill="#0000ff"/>
<rect x="581" y="128" width="3" height="4" fill="#0000ff"/>
<rect x="582" y="129" width="1" height="2" fill="#fff"/>
<rect x="584" y="127" width="1" height="4" fill="#0000ff"/>
<rect x="583" y="127" width="3" height="2" fill="#0000ff"/>
<rect x="587" y="127" width="1" height="5" fill="#0000ff"/>
<rect x="586" y="127" width="3" height="2" fill="#0000ff"/>
<rect x="589" y="128" width="1" height="7" fill="#0000ff"/>
<rect x="588" y="128" width="3" height="5" fill="#0000ff"/>
<rect x="591" y="127" width="1" height="9" fill="#0000ff"/>
<rect x="590" y="130" width="3" height="3" fill="#0000ff"/>
<rect x="591" y="131" width="1" height="1" fill="#fff"/>
<rect x="593" y="124" width="1" height="9" fill="#0000ff"/>
<rect x="592" y="129" width="3" height="2" fill="#0000ff"/>
<rect x="596" y="127" width="1" height="16" fill="#0000ff"/>
<rect x="595" y="129" width="3" height="12" fill="#0000ff"/>
<rect x="598" y="140" width="1" height="8" fill="#0000ff"/>
<rect x="597" y="140" width="3" height="7" fill="#0000ff"/>
<rect x="600" y="142" width="1" height="8" fill="#0000ff"/>
<rect x="599" y="142" width="3" height="5" fill="#0000ff"/>
<rect x="600" y="143" width="1" height="3" fill="#fff"/>
<rect x="602" y="142" width="1" height="12" fill="#0000ff"/>
<rect x="601" y="142" width="3" height="7" fill="#0000ff"/>
<rect x="605" y="148" width="1" height="10" fill="#0000ff"/>
<rect x="604" y="148" width="3" height="4" fill="#0000ff"/>
<rect x="607" y="149" width="1" height="4" fill="#0000ff"/>
<rect x="606" y="150" width="3" height="2" fill="#0000ff"/>
<rect x="609" y="149" width="1" height="19" fill="#0000ff"/>
<rect x="608" y="150" width="3" height="16" fill="#0000ff"/>
<rect x="611" y="163" width="1" height="13" fill="#0000ff"/>
<rect x="610" y="165" width="3" height="7" fill="#0000ff"/>
<rect x="614" y="168" width="1" height="12" fill="#0000ff"/>
<rect x="613" y="171" width="3" height="6" fill="#0000ff"/>
<rect x="616" y="168" width="1" height="9" fill="#0000ff"/>
<rect x="615" y="169" width="3" height="8" fill="#0000ff"/>
<rect x="616" y="170" width="1" height="6" fill="#fff"/>
<rect x="618" y="165" width="1" height="12" fill="#0000ff"/>
<rect x="617" y="169" width="3" height="8" fill="#0000ff"/>
<rect x="620" y="168" width="1" height="13" fill="#0000ff"/>
<rect x="619" y="173" width="3" height="4" fill="#0000ff"/>
<rect x="620" y="174" width="1" height="2" fill="#fff"/>
<rect x="623" y="166" width="1" height="8" fill="#0000ff"/>
<rect x="622" y="171" width="3" height="3" fill="#0000ff"/>
<rect x="623" y="172" width="1" height="1" fill="#fff"/>
<rect x="625" y="167" width="1" height="11" fill="#0000ff"/>
<rect x="624" y="171" width="3" height="7" fill="#0000ff"/>
<rect x="627" y="175" width="1" height="27" fill="#0000ff"/>
<rect x="626" y="177" width="3" height="20" fill="#0000ff"/>
<rect x="629" y="173" width="1" height="24" fill="#0000ff"/>
<rect x="628" y="175" width="3" height="22" fill="#0000ff"/>
<rect x="629" y="176" width="1" height="20" fill="#fff"/>
<rect x="632" y="175" width="1" height="12" fill="#0000ff"/>
<rect x="631" y="175" width="3" height="8" fill="#0000ff"/>
<rect x="634" y="180" width="1" height="8" fill="#0000ff"/>
<rect x="633" y="182" width="3" height="2" fill="#0000ff"/>
<rect x="636" y="179" width="1" height="17" fill="#0000ff"/>
<rect x="635" y="182" width="3" height="12" fill="#0000ff"/>
<rect x="638" y="190" width="1" height="16" fill="#0000ff"/>
<rect x="637" y="193" width="3" height="13" fill="#0000ff"/>
<rect x="641" y="203" width="1" height="19" fill="#0000ff"/>
<rect x="640" y="205" width="3" height="15" fill="#0000ff"/>
<rect x="643" y="217" width="1" height="9" fill="#0000ff"/>
<rect x="642" y="219" width="3" height="5" fill="#0000ff"/>
<rect x="645" y="219" width="1" height="11" fill="#0000ff"/>
<rect x="644" y="220" width="3" height="4" fill="#0000ff"/>
<rect x="645" y="221" width="1" height="2" fill="#fff"/>
<rect x="647" y="218" width="1" height="6" fill="#0000ff"/>
<rect x="646" y="218" width="3" height="3" fill="#0000ff"/>
<rect x="647" y="219" width="1" height="1" fill="#fff"/>
<rect x="650" y="217" width="1" height="7" fill="#0000ff"/>
<rect x="649" y="218" width="3" height="6" fill="#0000ff"/>
<rect x="652" y="210" width="1" height="14" fill="#0000ff"/>
<rect x="651" y="210" width="3" height="14" fill="#0000ff"/>
<rect x="652" y="211" width="1" height="12" fill="#fff"/>
<rect x="654" y="203" width="1" height="9" fill="#0000ff"/>
<rect x="653" y="204" width="3" height="7" fill="#0000ff"/>
<rect x="654" y="205" width="1" height="5" fill="#fff"/>
<rect x="656" y="204" width="1" height="3" fill="#0000ff"/>
<rect x="655" y="204" width="3" height="3" fill="#0000ff"/>
<rect x="659" y="202" width="1" height="8" fill="#0000ff"/>
<rect x="658" y="204" width="3" height="3" fill="#0000ff"/>
<rect x="659" y="205" width="1" height="1" fill="#fff"/>
<rect x="661" y="202" width="1" height="6" fill="#0000ff"/>
<rect x="660" y="203" width="3" height="2" fill="#0000ff"/>
<rect x="663" y="202" width="1" height="17" fill="#0000ff"/>
<rect x="662" y="203" width="3" height="16" fill="#0000ff"/>
<rect x="665" y="218" width="1" height="8" fill="#0000ff"/>
<rect x="664" y="218" width="3" height="5" fill="#0000ff"/>
<rect x="668" y="218" width="1" height="9" fill="#0000ff"/>
<rect x="667" y="222" width="3" height="4" fill="#0000ff"/>
<rect x="670" y="220" width="1" height="10" fill="#0000ff"/>
<rect x="669" y="221" width="3" height="5" fill="#0000ff"/>
<rect x="670" y="222" width="1" height="3" fill="#fff"/>
<rect x="672" y="212" width="1" height="11" fill="#0000ff"/>
<rect x="671" y="215" width="3" height="7" fill="#0000ff"/>
<rect x="672" y="216" width="1" height="5" fill="#fff"/>
<rect x="674" y="207" width="1" height="9" fill="#0000ff"/>
<rect x="673" y="210" width="3" height="6" fill="#0000ff"/>
<rect x="674" y="211" width="1" height="4" fill="#fff"/>
<rect x="677" y="205" width="1" height="7" fill="#0000ff"/>
<rect x="676" y="210" width="3" height="2" fill="#0000ff"/>
<rect x="679" y="209" width="1" height="3" fill="#0000ff"/>
<rect x="678" y="209" width="3" height="3" fill="#0000ff"/>
<rect x="679" y="210" width="1" height="1" fill="#fff"/>
<rect x="681" y="198" width="1" height="14" fill="#0000ff"/>
<rect x="680" y="200" width="3" height="10" fill="#0000ff"/>
<rect x="681" y="201" width="1" height="8" fill="#fff"/>
<rect x="683" y="200" width="1" height="23" fill="#0000ff"/>
<rect x="682" y="200" width="3" height="20" fill="#0000ff"/>
<rect x="686" y="218" width="1" height="15" fill="#0000ff"/>
<rect x="685" y="219" width="3" height="14" fill="#0000ff"/>
<rect x="688" y="227" width="1" height="24" fill="#0000ff"/>
<rect x="687" y="232" width="3" height="19" fill="#0000ff"/>
<rect x="690" y="249" width="1" height="31" fill="#0000ff"/>
<rect x="689" y="250" width="3" height="27" fill="#0000ff"/>
<rect x="692" y="258" width="1" height="31" fill="#0000ff"/>
<rect x="691" y="260" width="3" height="17" fill="#0000ff"/>
<rect x="692" y="261" width="1" height="15" fill="#fff"/>
<rect x="695" y="251" width="1" height="13" fill="#0000ff"/>
<rect x="694" y="252" width="3" height="9" fill="#0000ff"/>
<rect x="695" y="253" width="1" height="7" fill="#fff"/>
<rect x="697" y="242" width="1" height="11" fill="#0000ff"/>
<rect x="696" y="247" width="3" height="6" fill="#0000ff"/>
<rect x="697" y="248" width="1" height="4" fill="#fff"/>
<rect x="699" y="238" width="1" height="12" fill="#0000ff"/>
<rect x="698" y="241" width="3" height="7" fill="#0000ff"/>
<rect x="699" y="242" width="1" height="5" fill="#fff"/>
<rect x="701" y="189" width="1" height="19" fill="#0000ff"/>
<rect x="700" y="199" width="3" height="6" fill="#0000ff"/>
<rect x="704" y="204" width="1" height="18" fill="#0000ff"/>
<rect x="703" y="204" width="3" height="16" fill="#0000ff"/>
<rect x="706" y="214" width="1" height="7" fill="#0000ff"/>
<rect x="705" y="214" width="3" height="6" fill="#0000ff"/>
<rect x="706" y="215" width="1" height="4" fill="#fff"/>
<rect x="708" y="208" width="1" height="17" fill="#0000ff"/>
<rect x="707" y="214" width="3" height="10" fill="#0000ff"/>
<rect x="710" y="222" width="1" height="21" fill="#0000ff"/>
<rect x="709" y="223" width="3" height="18" fill="#0000ff"/>
<rect x="713" y="240" width="1" height="10" fill="#0000ff"/>
<rect x="712" y="240" width="3" height="8" fill="#0000ff"/>
<rect x="715" y="230" width="1" height="22" fill="#0000ff"/>
<rect x="714" y="231" width="3" height="17" fill="#0000ff"/>
<rect x="715" y="232" width="1" height="15" fill="#fff"/>
<rect x="717" y="211" width="1" height="23" fill="#0000ff"/>
<rect x="716" y="211" width="3" height="21" fill="#0000ff"/>
<rect x="717" y="212" width="1" height="19" fill="#fff"/>
<rect x="719" y="206" width="1" height="8" fill="#0000ff"/>
<rect x="718" y="210" width="3" height="2" fill="#0000ff"/>
<rect x="722" y="208" width="1" height="4" fill="#0000ff"/>
<rect x="721" y="210" width="3" height="2" fill="#0000ff"/>
<rect x="724" y="205" width="1" height="7" fill="#0000ff"/>
<rect x="723" y="211" width="3" height="2" fill="#0000ff"/>
<rect x="726" y="206" width="1" height="6" fill="#0000ff"/>
<rect x="725" y="206" width="3" height="6" fill="#0000ff"/>
<rect x="726" y="207" width="1" height="4" fill="#fff"/>
<rect x="728" y="203" width="1" height="5" fill="#0000ff"/>
<rect x="727" y="205" width="3" height="2" fill="#0000ff"/>
<rect x="731" y="204" width="1" height="5" fill="#0000ff"/>
<rect x="730" y="205" width="3" height="3" fill="#0000ff"/>
<rect x="733" y="203" width="1" height="5" fill="#0000ff"/>
<rect x="732" y="207" width="3" height="2" fill="#0000ff"/>
<rect x="735" y="202" width="1" height="21" fill="#0000ff"/>
<rect x="734" y="207" width="3" height="11" fill="#0000ff"/>
<rect x="737" y="214" width="1" height="4" fill="#0000ff"/>
<rect x="736" y="216" width="3" height="2" fill="#0000ff"/>
<rect x="739" y="216" width="3" height="2" fill="#0000ff"/>
<rect x="742" y="213" width="1" height="9" fill="#0000ff"/>
<rect x="741" y="216" width="3" height="4" fill="#0000ff"/>
<rect x="744" y="216" width="1" height="19" fill="#0000ff"/>
<rect x="743" y="219" width="3" height="10" fill="#0000ff"/>
<rect x="746" y="223" width="1" height="12" fill="#0000ff"/>
<rect x="745" y="228" width="3" height="4" fill="#0000ff"/>
<rect x="749" y="231" width="1" height="7" fill="#0000ff"/>
<rect x="748" y="231" width="3" height="4" fill="#0000ff"/>
<rect x="751" y="233" width="1" height="7" fill="#0000ff"/>
<rect x="750" y="234" width="3" height="6" fill="#0000ff"/>
<rect x="753" y="235" width="1" height="16" fill="#0000ff"/>
<rect x="752" y="239" width="3" height="6" fill="#0000ff"/>
<rect x="755" y="227" width="1" height="18" fill="#0000ff"/>
<rect x="754" y="231" width="3" height="14" fill="#0000ff"/>
<rect x="755" y="232" width="1" height="12" fill="#fff"/>
<rect x="758" y="227" width="1" height="5" fill="#0000ff"/>
<rect x="757" y="230" width="3" height="2" fill="#0000ff"/>
<rect x="760" y="230" width="1" height="5" fill="#0000ff"/>
<rect x="759" y="230" width="3" height="3" fill="#0000ff"/>
<rect x="762" y="230" width="1" height="9" fill="#0000ff"/>
<rect x="761" y="232" width="3" height="3" fill="#0000ff"/>
<rect x="764" y="211" width="1" height="24" fill="#0000ff"/>
<rect x="763" y="211" width="3" height="24" fill="#0000ff"/>
<rect x="764" y="212" width="1" height="22" fill="#fff"/>
<rect x="767" y="193" width="1" height="23" fill="#0000ff"/>
<rect x="766" y="195" width="3" height="17" fill="#0000ff"/>
<rect x="767" y="196" width="1" height="15" fill="#fff"/>
<rect x="769" y="180" width="1" height="16" fill="#0000ff"/>
<rect x="768" y="183" width="3" height="13" fill="#0000ff"/>
<rect x="769" y="184" width="1" height="11" fill="#fff"/>
<rect x="771" y="171" width="1" height="17" fill="#0000ff"/>
<rect x="770" y="173" width="3" height="11" fill="#0000ff"/>
<rect x="771" y="174" width="1" height="9" fill="#fff"/>
<rect x="773" y="173" width="1" height="10" fill="#0000ff"/>
<rect x="772" y="173" width="3" height="10" fill="#0000ff"/>
<rect x="776" y="182" width="1" height="8" fill="#0000ff"/>
<rect x="775" y="182" width="3" height="8" fill="#0000ff"/>
<rect x="778" y="162" width="1" height="35" fill="#0000ff"/>
<rect x="777" y="165" width="3" height="25" fill="#0000ff"/>
<rect x="778" y="166" width="1" height="23" fill="#fff"/>
<rect x="780" y="160" width="1" height="29" fill="#0000ff"/>
<rect x="779" y="165" width="3" height="21" fill="#0000ff"/>
<rect x="782" y="185" width="1" height="23" fill="#0000ff"/>
<rect x="781" y="185" width="3" height="18" fill="#0000ff"/>
<rect x="785" y="201" width="1" height="2" fill="#0000ff"/>
<rect x="784" y="201" width="3" height="2" fill="#0000ff"/>
<rect x="787" y="180" width="1" height="23" fill="#0000ff"/>
<rect x="786" y="181" width="3" height="21" fill="#0000ff"/>
<rect x="787" y="182" width="1" height="19" fill="#fff"/>
<rect x="789" y="161" width="1" height="21" fill="#0000ff"/>
<rect x="788" y="163" width="3" height="19" fill="#0000ff"/>
<rect x="789" y="164" width="1" height="17" fill="#fff"/>
<rect x="791" y="151" width="1" height="15" fill="#0000ff"/>
<rect x="790" y="156" width="3" height="8" fill="#0000ff"/>
<rect x="791" y="157" width="1" height="6" fill="#fff"/>
<rect x="794" y="150" width="1" height="7" fill="#0000ff"/>
<rect x="793" y="151" width="3" height="6" fill="#0000ff"/>
<rect x="794" y="152" width="1" height="4" fill="#fff"/>
<rect x="796" y="148" width="1" height="9" fill="#0000ff"/>
<rect x="795" y="151" width="3" height="6" fill="#0000ff"/>
<rect x="798" y="140" width="1" height="23" fill="#0000ff"/>
<rect x="797" y="146" width="3" height="11" fill="#0000ff"/>
<rect x="798" y="147" width="1" height="9" fill="#fff"/>
<rect x="800" y="146" width="1" height="3" fill="#0000ff"/>
<rect x="799" y="146" width="3" height="2" fill="#0000ff"/>
<rect x="803" y="142" width="1" height="14" fill="#0000ff"/>
<rect x="802" y="147" width="3" height="4" fill="#0000ff"/>
<rect x="805" y="148" width="1" height="10" fill="#0000ff"/>
<rect x="804" y="150" width="3" height="8" fill="#0000ff"/>
<rect x="807" y="156" width="1" height="10" fill="#0000ff"/>
<rect x="806" y="157" width="3" height="6" fill="#0000ff"/>
<rect x="809" y="153" width="1" height="10" fill="#0000ff"/>
<rect x="808" y="158" width="3" height="5" fill="#0000ff"/>
<rect x="809" y="159" width="1" height="3" fill="#fff"/>
<rect x="812" y="152" width="1" height="10" fill="#0000ff"/>
<rect x="811" y="153" width="3" height="6" fill="#0000ff"/>
<rect x="812" y="154" width="1" height="4" fill="#fff"/>
<rect x="814" y="148" width="1" height="7" fill="#0000ff"/>
<rect x="813" y="148" width="3" height="6" fill="#0000ff"/>
<rect x="814" y="149" width="1" height="4" fill="#fff"/>
<rect x="816" y="146" width="1" height="8" fill="#0000ff"/>
<rect x="815" y="147" width="3" height="2" fill="#0000ff"/>
<rect x="818" y="147" width="1" height="4" fill="#0000ff"/>
<rect x="817" y="147" width="3" height="2" fill="#0000ff"/>
<rect x="821" y="144" width="1" height="15" fill="#0000ff"/>
<rect x="820" y="147" width="3" height="10" fill="#0000ff"/>
<rect x="823" y="153" width="1" height="9" fill="#0000ff"/>
<rect x="822" y="156" width="3" height="4" fill="#0000ff"/>
<rect x="825" y="159" width="1" height="18" fill="#0000ff"/>
<rect x="824" y="159" width="3" height="4" fill="#0000ff"/>
<rect x="827" y="156" width="1" height="9" fill="#0000ff"/>
<rect x="826" y="156" width="3" height="7" fill="#0000ff"/>
<rect x="827" y="157" width="1" height="5" fill="#fff"/>
<rect x="830" y="153" width="1" height="10" fill="#0000ff"/>
<rect x="829" y="156" width="3" height="7" fill="#0000ff"/>
<rect x="832" y="142" width="1" height="24" fill="#0000ff"/>
<rect x="831" y="143" width="3" height="20" fill="#0000ff"/>
<rect x="832" y="144" width="1" height="18" fill="#fff"/>
<rect x="834" y="136" width="1" height="20" fill="#0000ff"/>
<rect x="833" y="143" width="3" height="12" fill="#0000ff"/>
<rect x="836" y="153" width="1" height="8" fill="#0000ff"/>
<rect x="835" y="154" width="3" height="5" fill="#0000ff"/>
<rect x="839" y="156" width="1" height="8" fill="#0000ff"/>
<rect x="838" y="156" width="3" height="3" fill="#0000ff"/>
<rect x="839" y="157" width="1" height="1" fill="#fff"/>
<rect x="841" y="151" width="1" height="6" fill="#0000ff"/>
<rect x="840" y="151" width="3" height="6" fill="#0000ff"/>
<rect x="841" y="152" width="1" height="4" fill="#fff"/>
<rect x="843" y="151" width="1" height="9" fill="#0000ff"/>
<rect x="842" y="151" width="3" height="4" fill="#0000ff"/>
<rect x="845" y="154" width="1" height="8" fill="#0000ff"/>
<rect x="844" y="154" width="3" height="5" fill="#0000ff"/>
<rect x="848" y="157" width="1" height="14" fill="#0000ff"/>
<rect x="847" y="158" width="3" height="11" fill="#0000ff"/>
<rect x="850" y="168" width="1" height="9" fill="#0000ff"/>
<rect x="849" y="168" width="3" height="6" fill="#0000ff"/>
<rect x="852" y="172" width="1" height="6" fill="#0000ff"/>
<rect x="851" y="173" width="3" height="2" fill="#0000ff"/>
<rect x="854" y="168" width="1" height="6" fill="#0000ff"/>
<rect x="853" y="172" width="3" height="2" fill="#0000ff"/>
<rect x="857" y="172" width="1" height="10" fill="#0000ff"/>
<rect x="856" y="172" width="3" height="9" fill="#0000ff"/>
<rect x="859" y="176" width="1" height="12" fill="#0000ff"/>
<rect x="858" y="180" width="3" height="6" fill="#0000ff"/>
<rect x="861" y="180" width="1" height="12" fill="#0000ff"/>
<rect x="860" y="185" width="3" height="5" fill="#0000ff"/>
<rect x="863" y="189" width="1" height="26" fill="#0000ff"/>
<rect x="862" y="189" width="3" height="25" fill="#0000ff"/>
<rect x="866" y="213" width="1" height="11" fill="#0000ff"/>
<rect x="865" y="213" width="3" height="10" fill="#0000ff"/>
<rect x="868" y="221" width="1" height="19" fill="#0000ff"/>
<rect x="867" y="222" width="3" height="16" fill="#0000ff"/>
<rect x="870" y="237" width="1" height="13" fill="#0000ff"/>
<rect x="869" y="237" width="3" height="11" fill="#0000ff"/>
<rect x="872" y="247" width="1" height="12" fill="#0000ff"/>
<rect x="871" y="247" width="3" height="7" fill="#0000ff"/>
<rect x="875" y="249" width="1" height="5" fill="#0000ff"/>
<rect x="874" y="250" width="3" height="4" fill="#0000ff"/>
<rect x="875" y="251" width="1" height="2" fill="#fff"/>
<rect x="877" y="249" width="1" height="4" fill="#0000ff"/>
<rect x="876" y="250" width="3" height="3" fill="#0000ff"/>
<rect x="879" y="248" width="1" height="5" fill="#0000ff"/>
<rect x="878" y="252" width="3" height="2" fill="#0000ff"/>
<rect x="881" y="247" width="1" height="18" fill="#0000ff"/>
<rect x="880" y="252" width="3" height="2" fill="#0000ff"/>
<rect x="884" y="250" width="1" height="5" fill="#0000ff"/>
<rect x="883" y="250" width="3" height="3" fill="#0000ff"/>
<rect x="884" y="251" width="1" height="1" fill="#fff"/>
<rect x="886" y="249" width="1" height="5" fill="#0000ff"/>
<rect x="885" y="250" width="3" height="2" fill="#0000ff"/>
<rect x="888" y="242" width="1" height="10" fill="#0000ff"/>
<rect x="887" y="248" width="3" height="4" fill="#0000ff"/>
<rect x="888" y="249" width="1" height="2" fill="#fff"/>
<rect x="890" y="248" width="1" height="13" fill="#0000ff"/>
<rect x="889" y="248" width="3" height="10" fill="#0000ff"/>
<rect x="893" y="257" width="1" height="9" fill="#0000ff"/>
<rect x="892" y="257" width="3" height="9" fill="#0000ff"/>
<rect x="895" y="264" width="1" height="9" fill="#0000ff"/>
<rect x="894" y="265" width="3" height="8" fill="#0000ff"/>
<rect x="897" y="270" width="1" height="7" fill="#0000ff"/>
<rect x="896" y="272" width="3" height="2" fill="#0000ff"/>
<rect x="899" y="272" width="1" height="4" fill="#0000ff"/>
<rect x="898" y="272" width="3" height="4" fill="#0000ff"/>
<rect x="902" y="267" width="1" height="15" fill="#0000ff"/>
<rect x="901" y="270" width="3" height="6" fill="#0000ff"/>
<rect x="902" y="271" width="1" height="4" fill="#fff"/>
<rect x="904" y="260" width="1" height="13" fill="#0000ff"/>
<rect x="903" y="261" width="3" height="10" fill="#0000ff"/>
<rect x="904" y="262" width="1" height="8" fill="#fff"/>
<rect x="906" y="257" width="1" height="5" fill="#0000ff"/>
<rect x="905" y="261" width="3" height="2" fill="#0000ff"/>
<rect x="908" y="256" width="1" height="11" fill="#0000ff"/>
<rect x="907" y="256" width="3" height="6" fill="#0000ff"/>
<rect x="908" y="257" width="1" height="4" fill="#fff"/>
<rect x="911" y="252" width="1" height="15" fill="#0000ff"/>
<rect x="910" y="256" width="3" height="9" fill="#0000ff"/>
<rect x="913" y="263" width="1" height="10" fill="#0000ff"/>
<rect x="912" y="264" width="3" height="9" fill="#0000ff"/>
<rect x="915" y="271" width="1" height="7" fill="#0000ff"/>
<rect x="914" y="272" width="3" height="6" fill="#0000ff"/>
<rect x="917" y="276" width="1" height="12" fill="#0000ff"/>
<rect x="916" y="277" width="3" height="8" fill="#0000ff"/>
<rect x="920" y="281" width="1" height="7" fill="#0000ff"/>
<rect x="919" y="284" width="3" height="4" fill="#0000ff"/>
<rect x="922" y="282" width="1" height="15" fill="#0000ff"/>
<rect x="921" y="287" width="3" height="8" fill="#0000ff"/>
<rect x="924" y="291" width="1" height="20" fill="#0000ff"/>
<rect x="923" y="294" width="3" height="14" fill="#0000ff"/>
<rect x="926" y="305" width="1" height="17" fill="#0000ff"/>
<rect x="925" y="307" width="3" height="10" fill="#0000ff"/>
<rect x="929" y="312" width="1" height="7" fill="#0000ff"/>
<rect x="928" y="312" width="3" height="5" fill="#0000ff"/>
<rect x="929" y="313" width="1" height="3" fill="#fff"/>
<rect x="931" y="294" width="1" height="20" fill="#0000ff"/>
<rect x="930" y="295" width="3" height="18" fill="#0000ff"/>
<rect x="931" y="296" width="1" height="16" fill="#fff"/>
<rect x="933" y="292" width="1" height="39" fill="#0000ff"/>
<rect x="932" y="295" width="3" height="34" fill="#0000ff"/>
<rect x="935" y="325" width="1" height="18" fill="#0000ff"/>
<rect x="934" y="328" width="3" height="10" fill="#0000ff"/>
<rect x="938" y="318" width="1" height="24" fill="#0000ff"/>
<rect x="937" y="318" width="3" height="20" fill="#0000ff"/>
<rect x="938" y="319" width="1" height="18" fill="#fff"/>
<rect x="940" y="283" width="1" height="37" fill="#0000ff"/>
<rect x="939" y="285" width="3" height="34" fill="#0000ff"/>
<rect x="940" y="286" width="1" height="32" fill="#fff"/>
<rect x="942" y="277" width="1" height="22" fill="#0000ff"/>
<rect x="941" y="285" width="3" height="13" fill="#0000ff"/>
<rect x="944" y="297" width="1" height="14" fill="#0000ff"/>
<rect x="943" y="297" width="3" height="14" fill="#0000ff"/>
<rect x="947" y="307" width="1" height="13" fill="#0000ff"/>
<rect x="946" y="310" width="3" height="9" fill="#0000ff"/>
<rect x="949" y="316" width="1" height="5" fill="#0000ff"/>
<rect x="948" y="316" width="3" height="3" fill="#0000ff"/>
<rect x="949" y="317" width="1" height="1" fill="#fff"/>
<rect x="951" y="302" width="1" height="15" fill="#0000ff"/>
<rect x="950" y="304" width="3" height="13" fill="#0000ff"/>
<rect x="951" y="305" width="1" height="11" fill="#fff"/>
<rect x="953" y="303" width="1" height="3" fill="#0000ff"/>
<rect x="952" y="304" width="3" height="2" fill="#0000ff"/>
<rect x="956" y="302" width="1" height="5" fill="#0000ff"/>
<rect x="955" y="305" width="3" height="2" fill="#0000ff"/>
<rect x="958" y="301" width="1" height="14" fill="#0000ff"/>
<rect x="957" y="306" width="3" height="7" fill="#0000ff"/>
<rect x="960" y="309" width="1" height="19" fill="#0000ff"/>
<rect x="959" y="312" width="3" height="11" fill="#0000ff"/>
<rect x="962" y="322" width="1" height="12" fill="#0000ff"/>
<rect x="961" y="322" width="3" height="9" fill="#0000ff"/>
<rect x="965" y="326" width="1" height="13" fill="#0000ff"/>
<rect x="964" y="330" width="3" height="7" fill="#0000ff"/>
<rect x="967" y="336" width="1" height="16" fill="#0000ff"/>
<rect x="966" y="336" width="3" height="16" fill="#0000ff"/>
<rect x="969" y="351" width="1" height="17" fill="#0000ff"/>
<rect x="968" y="351" width="3" height="17" fill="#0000ff"/>
<rect x="971" y="365" width="1" height="19" fill="#0000ff"/>
<rect x="970" y="367" width="3" height="14" fill="#0000ff"/>
<rect x="974" y="379" width="1" height="11" fill="#0000ff"/>
<rect x="973" y="380" width="3" height="10" fill="#0000ff"/>
<rect x="976" y="382" width="1" height="13" fill="#0000ff"/>
<rect x="975" y="383" width="3" height="7" fill="#0000ff"/>
<rect x="976" y="384" width="1" height="5" fill="#fff"/>
<rect x="978" y="378" width="1" height="9" fill="#0000ff"/>
<rect x="977" y="378" width="3" height="6" fill="#0000ff"/>
<rect x="978" y="379" width="1" height="4" fill="#fff"/>
<rect x="980" y="376" width="1" height="9" fill="#0000ff"/>
<rect x="979" y="378" width="3" height="7" fill="#0000ff"/>
<rect x="983" y="384" width="1" height="11" fill="#0000ff"/>
<rect x="982" y="384" width="3" height="9" fill="#0000ff"/>
<rect x="985" y="388" width="1" height="11" fill="#0000ff"/>
<rect x="984" y="392" width="3" height="3" fill="#0000ff"/>
<rect x="987" y="387" width="1" height="9" fill="#0000ff"/>
<rect x="986" y="389" width="3" height="6" fill="#0000ff"/>
<rect x="987" y="390" width="1" height="4" fill="#fff"/>
<rect x="989" y="374" width="1" height="17" fill="#0000ff"/>
<rect x="988" y="379" width="3" height="11" fill="#0000ff"/>
<rect x="989" y="380" width="1" height="9" fill="#fff"/>
<rect x="992" y="363" width="1" height="20" fill="#0000ff"/>
<rect x="991" y="363" width="3" height="17" fill="#0000ff"/>
<rect x="992" y="364" width="1" height="15" fill="#fff"/>
<rect x="994" y="352" width="1" height="13" fill="#0000ff"/>
<rect x="993" y="354" width="3" height="10" fill="#0000ff"/>
<rect x="994" y="355" width="1" height="8" fill="#fff"/>
<rect x="996" y="352" width="1" height="15" fill="#0000ff"/>
<rect x="995" y="354" width="3" height="10" fill="#0000ff"/>
<rect x="998" y="361" width="1" height="18" fill="#0000ff"/>
<rect x="997" y="363" width="3" height="13" fill="#0000ff"/>
<rect x="1001" y="372" width="1" height="23" fill="#0000ff"/>
<rect x="1000" y="375" width="3" height="15" fill="#0000ff"/>
<rect x="1003" y="386" width="1" height="12" fill="#0000ff"/>
<rect x="1002" y="389" width="3" height="2" fill="#0000ff"/>
<rect x="1005" y="378" width="1" height="14" fill="#0000ff"/>
<rect x="1004" y="380" width="3" height="10" fill="#0000ff"/>
<rect x="1005" y="381" width="1" height="8" fill="#fff"/>
<rect x="1007" y="345" width="1" height="12" fill="#0000ff"/>
<rect x="1006" y="347" width="3" height="9" fill="#0000ff"/>
<rect x="1010" y="342" width="1" height="14" fill="#0000ff"/>
<rect x="1009" y="355" width="3" height="2" fill="#0000ff"/>
<rect x="1012" y="346" width="1" height="33" fill="#0000ff"/>
<rect x="1011" y="348" width="3" height="8" fill="#0000ff"/>
<rect x="1012" y="349" width="1" height="6" fill="#fff"/>
<rect x="1014" y="313" width="1" height="40" fill="#0000ff"/>
<rect x="1013" y="315" width="3" height="34" fill="#0000ff"/>
<rect x="1014" y="316" width="1" height="32" fill="#fff"/>
<rect x="1016" y="298" width="1" height="18" fill="#0000ff"/>
<rect x="1015" y="298" width="3" height="18" fill="#0000ff"/>
<rect x="1016" y="299" width="1" height="16" fill="#fff"/>
<rect x="1019" y="293" width="1" height="23" fill="#0000ff"/>
<rect x="1018" y="298" width="3" height="12" fill="#0000ff"/>
<rect x="1021" y="298" width="1" height="15" fill="#0000ff"/>
<rect x="1020" y="298" width="3" height="12" fill="#0000ff"/>
<rect x="1021" y="299" width="1" height="10" fill="#fff"/>
<rect x="1023" y="290" width="1" height="12" fill="#0000ff"/>
<rect x="1022" y="291" width="3" height="8" fill="#0000ff"/>
<rect x="1023" y="292" width="1" height="6" fill="#fff"/>
<rect x="1025" y="290" width="1" height="9" fill="#0000ff"/>
<rect x="1024" y="291" width="3" height="3" fill="#0000ff"/>
<rect x="1028" y="265" width="1" height="29" fill="#0000ff"/>
<rect x="1027" y="268" width="3" height="26" fill="#0000ff"/>
<rect x="1028" y="269" width="1" height="24" fill="#fff"/>
<rect x="1030" y="268" width="1" height="6" fill="#0000ff"/>
<rect x="1029" y="268" width="3" height="2" fill="#0000ff"/>
<rect x="1032" y="268" width="1" height="10" fill="#0000ff"/>
<rect x="1031" y="269" width="3" height="6" fill="#0000ff"/>
<rect x="1034" y="273" width="1" height="7" fill="#0000ff"/>
<rect x="1033" y="274" width="3" height="4" fill="#0000ff"/>
<rect x="1037" y="275" width="1" height="10" fill="#0000ff"/>
<rect x="1036" y="277" width="3" height="5" fill="#0000ff"/>
<rect x="1039" y="275" width="1" height="9" fill="#0000ff"/>
<rect x="1038" y="276" width="3" height="6" fill="#0000ff"/>
<rect x="1039" y="277" width="1" height="4" fill="#fff"/>
<rect x="1041" y="275" width="1" height="4" fill="#0000ff"/>
<rect x="1040" y="275" width="3" height="2" fill="#0000ff"/>
<rect x="1043" y="275" width="1" height="11" fill="#0000ff"/>
<rect x="1042" y="275" width="3" height="10" fill="#0000ff"/>
<rect x="1046" y="277" width="1" height="14" fill="#0000ff"/>
<rect x="1045" y="284" width="3" height="4" fill="#0000ff"/>
<rect x="1048" y="285" width="1" height="7" fill="#0000ff"/>
<rect x="1047" y="286" width="3" height="2" fill="#0000ff"/>
<rect x="1050" y="277" width="1" height="10" fill="#0000ff"/>
<rect x="1049" y="282" width="3" height="5" fill="#0000ff"/>
<rect x="1050" y="283" width="1" height="3" fill="#fff"/>
<rect x="1052" y="280" width="1" height="3" fill="#0000ff"/>
<rect x="1051" y="281" width="3" height="2" fill="#0000ff"/>
<rect x="1055" y="280" width="1" height="6" fill="#0000ff"/>
<rect x="1054" y="280" width="3" height="2" fill="#0000ff"/>
<rect x="1057" y="280" width="1" height="18" fill="#0000ff"/>
<rect x="1056" y="280" width="3" height="15" fill="#0000ff"/>
<rect x="1059" y="290" width="1" height="23" fill="#0000ff"/>
<rect x="1058" y="294" width="3" height="9" fill="#0000ff"/>
<rect x="1061" y="298" width="1" height="6" fill="#0000ff"/>
<rect x="1060" y="301" width="3" height="2" fill="#0000ff"/>
<rect x="1064" y="296" width="1" height="15" fill="#0000ff"/>
<rect x="1063" y="301" width="3" height="6" fill="#0000ff"/>
<rect x="1066" y="306" width="1" height="15" fill="#0000ff"/>
<rect x="1065" y="306" width="3" height="14" fill="#0000ff"/>
<rect x="1068" y="318" width="1" height="11" fill="#0000ff"/>
<rect x="1067" y="319" width="3" height="6" fill="#0000ff"/>
<rect x="1070" y="298" width="1" height="28" fill="#0000ff"/>
<rect x="1069" y="298" width="3" height="27" fill="#0000ff"/>
<rect x="1070" y="299" width="1" height="25" fill="#fff"/>
<rect x="1073" y="284" width="1" height="15" fill="#0000ff"/>
<rect x="1072" y="284" width="3" height="15" fill="#0000ff"/>
<rect x="1073" y="285" width="1" height="13" fill="#fff"/>
<rect x="1075" y="273" width="1" height="15" fill="#0000ff"/>
<rect x="1074" y="273" width="3" height="12" fill="#0000ff"/>
<rect x="1075" y="274" width="1" height="10" fill="#fff"/>
<rect x="1077" y="264" width="1" height="15" fill="#0000ff"/>
<rect x="1076" y="273" width="3" height="6" fill="#0000ff"/>
<rect x="1079" y="277" width="1" height="9" fill="#0000ff"/>
<rect x="1078" y="278" width="3" height="7" fill="#0000ff"/>
<rect x="1082" y="281" width="1" height="13" fill="#0000ff"/>
<rect x="1081" y="284" width="3" height="8" fill="#0000ff"/>
<rect x="1084" y="288" width="1" height="16" fill="#0000ff"/>
<rect x="1083" y="291" width="3" height="11" fill="#0000ff"/>
<rect x="1086" y="340" width="1" height="39" fill="#0000ff"/>
<rect x="1085" y="340" width="3" height="39" fill="#0000ff"/>
<rect x="1088" y="375" width="1" height="24" fill="#0000ff"/>
<rect x="1087" y="378" width="3" height="20" fill="#0000ff"/>
<rect x="1091" y="395" width="1" height="14" fill="#0000ff"/>
<rect x="1090" y="397" width="3" height="12" fill="#0000ff"/>
<rect x="1093" y="405" width="1" height="18" fill="#0000ff"/>
<rect x="1092" y="408" width="3" height="11" fill="#0000ff"/>
<rect x="1095" y="416" width="1" height="10" fill="#0000ff"/>
<rect x="1094" y="418" width="3" height="6" fill="#0000ff"/>
<rect x="1097" y="405" width="1" height="24" fill="#0000ff"/>
<rect x="1096" y="409" width="3" height="15" fill="#0000ff"/>
<rect x="1097" y="410" width="1" height="13" fill="#fff"/>
<rect x="1100" y="405" width="1" height="9" fill="#0000ff"/>
<rect x="1099" y="409" width="3" height="2" fill="#0000ff"/>
<rect x="1102" y="407" width="1" height="11" fill="#0000ff"/>
<rect x="1101" y="410" width="3" height="6" fill="#0000ff"/>
<rect x="1104" y="406" width="1" height="10" fill="#0000ff"/>
<rect x="1103" y="407" width="3" height="9" fill="#0000ff"/>
<rect x="1104" y="408" width="1" height="7" fill="#fff"/>
<rect x="1106" y="406" width="1" height="7" fill="#0000ff"/>
<rect x="1105" y="407" width="3" height="2" fill="#0000ff"/>
<rect x="1109" y="391" width="1" height="20" fill="#0000ff"/>
<rect x="1108" y="393" width="3" height="15" fill="#0000ff"/>
<rect x="1109" y="394" width="1" height="13" fill="#fff"/>
<rect x="1111" y="391" width="1" height="11" fill="#0000ff"/>
<rect x="1110" y="393" width="3" height="9" fill="#0000ff"/>
<rect x="1113" y="394" width="1" height="16" fill="#0000ff"/>
<rect x="1112" y="401" width="3" height="7" fill="#0000ff"/>
<rect x="1115" y="406" width="1" height="3" fill="#0000ff"/>
<rect x="1114" y="407" width="3" height="2" fill="#0000ff"/>
<rect x="1118" y="403" width="1" height="10" fill="#0000ff"/>
<rect x="1117" y="407" width="3" height="6" fill="#0000ff"/>
<rect x="1120" y="411" width="1" height="20" fill="#0000ff"/>
<rect x="1119" y="412" width="3" height="14" fill="#0000ff"/>
<rect x="1122" y="417" width="1" height="13" fill="#0000ff"/>
<rect x="1121" y="420" width="3" height="6" fill="#0000ff"/>
<rect x="1122" y="421" width="1" height="4" fill="#fff"/>
<rect x="1124" y="408" width="1" height="18" fill="#0000ff"/>
<rect x="1123" y="408" width="3" height="13" fill="#0000ff"/>
<rect x="1124" y="409" width="1" height="11" fill="#fff"/>
<rect x="1127" y="402" width="1" height="11" fill="#0000ff"/>
<rect x="1126" y="405" width="3" height="4" fill="#0000ff"/>
<rect x="1127" y="406" width="1" height="2" fill="#fff"/>
<rect x="1129" y="404" width="1" height="7" fill="#0000ff"/>
<rect x="1128" y="405" width="3" height="6" fill="#0000ff"/>
<rect x="1131" y="410" width="1" height="13" fill="#0000ff"/>
<rect x="1130" y="410" width="3" height="6" fill="#0000ff"/>
<rect x="1133" y="400" width="1" height="16" fill="#0000ff"/>
<rect x="1132" y="408" width="3" height="8" fill="#0000ff"/>
<rect x="1133" y="409" width="1" height="6" fill="#fff"/>
<rect x="1136" y="397" width="1" height="15" fill="#0000ff"/>
<rect x="1135" y="402" width="3" height="7" fill="#0000ff"/>
<rect x="1136" y="403" width="1" height="5" fill="#fff"/>
<rect x="1138" y="398" width="1" height="17" fill="#0000ff"/>
<rect x="1137" y="402" width="3" height="9" fill="#0000ff"/>
<rect x="1140" y="407" width="1" height="8" fill="#0000ff"/>
<rect x="1139" y="410" width="3" height="4" fill="#0000ff"/>
<rect x="1142" y="412" width="1" height="4" fill="#0000ff"/>
<rect x="1141" y="412" width="3" height="2" fill="#0000ff"/>
<rect x="1145" y="398" width="1" height="15" fill="#0000ff"/>
<rect x="1144" y="398" width="3" height="15" fill="#0000ff"/>
<rect x="1145" y="399" width="1" height="13" fill="#fff"/>
<rect x="1147" y="390" width="1" height="9" fill="#0000ff"/>
<rect x="1146" y="395" width="3" height="4" fill="#0000ff"/>
<rect x="1147" y="396" width="1" height="2" fill="#fff"/>
<rect x="1149" y="393" width="1" height="10" fill="#0000ff"/>
<rect x="1148" y="395" width="3" height="8" fill="#0000ff"/>
<rect x="1151" y="401" width="1" height="21" fill="#0000ff"/>
<rect x="1150" y="402" width="3" height="17" fill="#0000ff"/>
<rect x="1154" y="416" width="1" height="9" fill="#0000ff"/>
<rect x="1153" y="418" width="3" height="4" fill="#0000ff"/>
<rect x="1156" y="421" width="1" height="11" fill="#0000ff"/>
<rect x="1155" y="421" width="3" height="11" fill="#0000ff"/>
<rect x="1158" y="429" width="1" height="14" fill="#0000ff"/>
<rect x="1157" y="431" width="3" height="10" fill="#0000ff"/>
<rect x="1160" y="418" width="1" height="23" fill="#0000ff"/>
<rect x="1159" y="428" width="3" height="13" fill="#0000ff"/>
<rect x="466" y="39" width="79" height="1" fill="#0066cc"/>
<rect x="58" y="72" width="508" height="2" fill="#0066cc"/>
<rect x="457" y="93" width="108" height="1" fill="#0066cc"/>
<rect x="572" y="121" width="95" height="1" fill="#0066cc"/>
<rect x="219" y="141" width="627" height="1" fill="#0066cc"/>
<rect x="610" y="202" width="282" height="2" fill="#0066cc"/>
<rect x="736" y="250" width="207" height="1" fill="#0066cc"/>
<rect x="1011" y="265" width="3" height="1" fill="#0066cc"/>
<rect x="1017" y="265" width="3" height="1" fill="#0066cc"/>
<rect x="1023" y="265" width="3" height="1" fill="#0066cc"/>
<rect x="1029" y="265" width="3" height="1" fill="#0066cc"/>
<rect x="1035" y="265" width="3" height="1" fill="#0066cc"/>
<rect x="1041" y="265" width="3" height="1" fill="#0066cc"/>
<rect x="1047" y="265" width="3" height="1" fill="#0066cc"/>
<rect x="1053" y="265" width="3" height="1" fill="#0066cc"/>
<rect x="1059" y="265" width="3" height="1" fill="#0066cc"/>
<rect x="1065" y="265" width="3" height="1" fill="#0066cc"/>
<rect x="1071" y="265" width="3" height="1" fill="#0066cc"/>
<rect x="1077" y="265" width="3" height="1" fill="#0066cc"/>
<rect x="1083" y="265" width="3" height="1" fill="#0066cc"/>
<rect x="1089" y="265" width="3" height="1" fill="#0066cc"/>
<rect x="5" y="279" width="1141" height="2" fill="#0066cc"/>
<rect x="1076" y="339" width="79" height="1" fill="#0066cc"/>
<rect x="964" y="395" width="237" height="1" fill="#0066cc"/>
<rect x="1074" y="428" width="128" height="1" fill="#0066cc"/>
<text x="519" y="39" font-family="Liberation Sans, Arial, sans-serif" font-weight="bold" font-size="12" fill="#ff0000" textLength="34.4" lengthAdjust="spacing">8.896</text>
<text x="568" y="79" font-family="Liberation Sans, Arial, sans-serif" font-weight="bold" font-size="12" fill="#ff0000" textLength="34.4" lengthAdjust="spacing">8.795</text>
<text x="568" y="98" font-family="Liberation Sans, Arial, sans-serif" font-weight="bold" font-size="12" fill="#ff0000" textLength="34.4" lengthAdjust="spacing">8.736</text>
<text x="668.6" y="127" font-family="Liberation Sans, Arial, sans-serif" font-weight="bold" font-size="12" fill="#ff0000" textLength="34.4" lengthAdjust="spacing">8.651</text>
<text x="850" y="144" font-family="Liberation Sans, Arial, sans-serif" font-weight="bold" font-size="12" fill="#ff0000" textLength="34.4" lengthAdjust="spacing">8.600</text>
<text x="895" y="206" font-family="Liberation Sans, Arial, sans-serif" font-weight="bold" font-size="12" fill="#ff0000" textLength="34.4" lengthAdjust="spacing">8.428</text>
<text x="946.6" y="254" font-family="Liberation Sans, Arial, sans-serif" font-weight="bold" font-size="12" fill="#ff0000" textLength="34.4" lengthAdjust="spacing">8.287</text>
<text x="1093" y="267.5" font-family="Liberation Sans, Arial, sans-serif" font-weight="bold" font-size="12" fill="#ff0000" textLength="34.4" lengthAdjust="spacing">8.245</text>
<text x="1148.7" y="281" font-family="Liberation Sans, Arial, sans-serif" font-weight="bold" font-size="12" fill="#ff0000" textLength="34.4" lengthAdjust="spacing">8.206</text>
<text x="1158" y="340.3" font-family="Liberation Sans, Arial, sans-serif" font-weight="bold" font-size="12" fill="#ff0000" textLength="34.4" lengthAdjust="spacing">8.034</text>
<text x="1201.7" y="397" font-family="Liberation Sans, Arial, sans-serif" font-weight="bold" font-size="12" fill="#ff0000" textLength="34.4" lengthAdjust="spacing">7.875</text>
<text x="1203" y="430" font-family="Liberation Sans, Arial, sans-serif" font-weight="bold" font-size="12" fill="#ff0000" textLength="34.4" lengthAdjust="spacing">7.780</text>
<text x="75.5" y="456.5" font-family="DejaVu Sans, Verdana, sans-serif" font-weight="bold" font-size="13" fill="#a6a6cf" textLength="170" lengthAdjust="spacingAndGlyphs">www.visualchart.com</text>
<defs><clipPath id="c1"><rect x="1356" y="484" width="76" height="110"/></clipPath><clipPath id="c2"><rect x="1356" y="601" width="76" height="130"/></clipPath><clipPath id="c3"><rect x="1356" y="743" width="76" height="94"/></clipPath></defs>
<rect x="1355" y="15" width="77" height="1" fill="#0000ff"/>
<rect x="1355" y="15" width="1" height="453" fill="#0000ff"/>
<rect x="1356" y="37" width="6" height="1" fill="#0000ff"/>
<text x="1366" y="41.6" font-family="Liberation Serif, Times New Roman, serif" font-weight="bold" font-size="13.4" stroke="#0000ff" stroke-width="0.45" fill="#0000ff" textLength="26.5" lengthAdjust="spacingAndGlyphs">8.900</text>
<rect x="1356" y="48" width="3" height="1" fill="#0000ff"/>
<rect x="1356" y="59" width="3" height="1" fill="#0000ff"/>
<rect x="1356" y="72" width="6" height="1" fill="#0000ff"/>
<text x="1366" y="76.6" font-family="Liberation Serif, Times New Roman, serif" font-weight="bold" font-size="13.4" stroke="#0000ff" stroke-width="0.45" fill="#0000ff" textLength="26.5" lengthAdjust="spacingAndGlyphs">8.800</text>
<rect x="1356" y="83" width="3" height="1" fill="#0000ff"/>
<rect x="1356" y="94" width="3" height="1" fill="#0000ff"/>
<rect x="1356" y="107" width="6" height="1" fill="#0000ff"/>
<text x="1366" y="111.6" font-family="Liberation Serif, Times New Roman, serif" font-weight="bold" font-size="13.4" stroke="#0000ff" stroke-width="0.45" fill="#0000ff" textLength="26.5" lengthAdjust="spacingAndGlyphs">8.700</text>
<rect x="1356" y="118" width="3" height="1" fill="#0000ff"/>
<rect x="1356" y="129" width="3" height="1" fill="#0000ff"/>
<rect x="1356" y="142" width="6" height="1" fill="#0000ff"/>
<text x="1366" y="146.6" font-family="Liberation Serif, Times New Roman, serif" font-weight="bold" font-size="13.4" stroke="#0000ff" stroke-width="0.45" fill="#0000ff" textLength="26.5" lengthAdjust="spacingAndGlyphs">8.600</text>
<rect x="1356" y="153" width="3" height="1" fill="#0000ff"/>
<rect x="1356" y="164" width="3" height="1" fill="#0000ff"/>
<rect x="1356" y="177" width="6" height="1" fill="#0000ff"/>
<text x="1366" y="181.6" font-family="Liberation Serif, Times New Roman, serif" font-weight="bold" font-size="13.4" stroke="#0000ff" stroke-width="0.45" fill="#0000ff" textLength="26.5" lengthAdjust="spacingAndGlyphs">8.500</text>
<rect x="1356" y="188" width="3" height="1" fill="#0000ff"/>
<rect x="1356" y="199" width="3" height="1" fill="#0000ff"/>
<rect x="1356" y="212" width="6" height="1" fill="#0000ff"/>
<text x="1366" y="216.6" font-family="Liberation Serif, Times New Roman, serif" font-weight="bold" font-size="13.4" stroke="#0000ff" stroke-width="0.45" fill="#0000ff" textLength="26.5" lengthAdjust="spacingAndGlyphs">8.400</text>
<rect x="1356" y="223" width="3" height="1" fill="#0000ff"/>
<rect x="1356" y="234" width="3" height="1" fill="#0000ff"/>
<rect x="1356" y="246" width="6" height="1" fill="#0000ff"/>
<text x="1366" y="250.6" font-family="Liberation Serif, Times New Roman, serif" font-weight="bold" font-size="13.4" stroke="#0000ff" stroke-width="0.45" fill="#0000ff" textLength="26.5" lengthAdjust="spacingAndGlyphs">8.300</text>
<rect x="1356" y="257" width="3" height="1" fill="#0000ff"/>
<rect x="1356" y="268" width="3" height="1" fill="#0000ff"/>
<rect x="1356" y="281" width="6" height="1" fill="#0000ff"/>
<text x="1366" y="285.6" font-family="Liberation Serif, Times New Roman, serif" font-weight="bold" font-size="13.4" stroke="#0000ff" stroke-width="0.45" fill="#0000ff" textLength="26.5" lengthAdjust="spacingAndGlyphs">8.200</text>
<rect x="1356" y="292" width="3" height="1" fill="#0000ff"/>
<rect x="1356" y="303" width="3" height="1" fill="#0000ff"/>
<rect x="1356" y="316" width="6" height="1" fill="#0000ff"/>
<text x="1366" y="320.6" font-family="Liberation Serif, Times New Roman, serif" font-weight="bold" font-size="13.4" stroke="#0000ff" stroke-width="0.45" fill="#0000ff" textLength="26.5" lengthAdjust="spacingAndGlyphs">8.100</text>
<rect x="1356" y="327" width="3" height="1" fill="#0000ff"/>
<rect x="1356" y="338" width="3" height="1" fill="#0000ff"/>
<rect x="1356" y="351" width="6" height="1" fill="#0000ff"/>
<text x="1366" y="355.6" font-family="Liberation Serif, Times New Roman, serif" font-weight="bold" font-size="13.4" stroke="#0000ff" stroke-width="0.45" fill="#0000ff" textLength="26.5" lengthAdjust="spacingAndGlyphs">8.000</text>
<rect x="1356" y="362" width="3" height="1" fill="#0000ff"/>
<rect x="1356" y="373" width="3" height="1" fill="#0000ff"/>
<rect x="1356" y="386" width="6" height="1" fill="#0000ff"/>
<text x="1366" y="390.6" font-family="Liberation Serif, Times New Roman, serif" font-weight="bold" font-size="13.4" stroke="#0000ff" stroke-width="0.45" fill="#0000ff" textLength="26.5" lengthAdjust="spacingAndGlyphs">7.900</text>
<rect x="1356" y="397" width="3" height="1" fill="#0000ff"/>
<rect x="1356" y="408" width="3" height="1" fill="#0000ff"/>
<rect x="1356" y="421" width="6" height="1" fill="#0000ff"/>
<text x="1366" y="425.6" font-family="Liberation Serif, Times New Roman, serif" font-weight="bold" font-size="13.4" stroke="#0000ff" stroke-width="0.45" fill="#0000ff" textLength="26.5" lengthAdjust="spacingAndGlyphs">7.800</text>
<rect x="1356" y="432" width="3" height="1" fill="#0000ff"/>
<rect x="1356" y="443" width="3" height="1" fill="#0000ff"/>
<rect x="1356" y="456" width="6" height="1" fill="#0000ff"/>
<text x="1366" y="460.6" font-family="Liberation Serif, Times New Roman, serif" font-weight="bold" font-size="13.4" stroke="#0000ff" stroke-width="0.45" fill="#0000ff" textLength="26.5" lengthAdjust="spacingAndGlyphs">7.700</text>
<rect x="1356" y="24" width="3" height="1" fill="#0000ff"/>
<rect x="1355" y="483" width="77" height="1" fill="#0000ff"/>
<rect x="1355" y="483" width="1" height="102" fill="#0000ff"/>
<rect x="1356" y="487" width="6" height="1" fill="#0000ff"/>
<rect x="1356" y="532" width="6" height="1" fill="#0000ff"/>
<rect x="1356" y="576" width="6" height="1" fill="#0000ff"/>
<rect x="1356" y="498" width="3" height="1" fill="#0000ff"/>
<rect x="1356" y="509" width="3" height="1" fill="#0000ff"/>
<rect x="1356" y="520" width="3" height="1" fill="#0000ff"/>
<rect x="1356" y="543" width="3" height="1" fill="#0000ff"/>
<rect x="1356" y="554" width="3" height="1" fill="#0000ff"/>
<rect x="1356" y="565" width="3" height="1" fill="#0000ff"/>
<text x="1366" y="491.6" font-family="Liberation Serif, Times New Roman, serif" font-weight="bold" font-size="13.4" stroke="#0000ff" stroke-width="0.45" fill="#0000ff" textLength="17.5" lengthAdjust="spacingAndGlyphs" clip-path="url(#c1)">100</text>
<text x="1366" y="536.6" font-family="Liberation Serif, Times New Roman, serif" font-weight="bold" font-size="13.4" stroke="#0000ff" stroke-width="0.45" fill="#0000ff" textLength="11.5" lengthAdjust="spacingAndGlyphs">50</text>
<text x="1366" y="580.6" font-family="Liberation Serif, Times New Roman, serif" font-weight="bold" font-size="13.4" stroke="#0000ff" stroke-width="0.45" fill="#0000ff" textLength="5.8" lengthAdjust="spacingAndGlyphs">0</text>
<rect x="1355" y="600" width="77" height="1" fill="#0000ff"/>
<rect x="1355" y="600" width="1" height="127" fill="#0000ff"/>
<rect x="1356" y="660" width="6" height="1" fill="#0000ff"/>
<rect x="1356" y="722" width="6" height="1" fill="#0000ff"/>
<rect x="1356" y="650" width="3" height="1" fill="#0000ff"/>
<rect x="1356" y="670" width="3" height="1" fill="#0000ff"/>
<rect x="1356" y="639" width="3" height="1" fill="#0000ff"/>
<rect x="1356" y="681" width="3" height="1" fill="#0000ff"/>
<rect x="1356" y="629" width="3" height="1" fill="#0000ff"/>
<rect x="1356" y="691" width="3" height="1" fill="#0000ff"/>
<rect x="1356" y="619" width="3" height="1" fill="#0000ff"/>
<rect x="1356" y="701" width="3" height="1" fill="#0000ff"/>
<rect x="1356" y="608" width="3" height="1" fill="#0000ff"/>
<rect x="1356" y="712" width="3" height="1" fill="#0000ff"/>
<text x="1366" y="601.6" font-family="Liberation Serif, Times New Roman, serif" font-weight="bold" font-size="13.4" stroke="#0000ff" stroke-width="0.45" fill="#0000ff" textLength="17.5" lengthAdjust="spacingAndGlyphs" clip-path="url(#c2)">100</text>
<text x="1366" y="664.6" font-family="Liberation Serif, Times New Roman, serif" font-weight="bold" font-size="13.4" stroke="#0000ff" stroke-width="0.45" fill="#0000ff" textLength="5.8" lengthAdjust="spacingAndGlyphs">0</text>
<text x="1364.5" y="726.6" font-family="Liberation Serif, Times New Roman, serif" font-weight="bold" font-size="13.4" stroke="#0000ff" stroke-width="0.45" fill="#0000ff" textLength="23.5" lengthAdjust="spacingAndGlyphs">-100</text>
<rect x="1355" y="742" width="77" height="1" fill="#0000ff"/>
<rect x="1355" y="742" width="1" height="95" fill="#0000ff"/>
<rect x="0" y="837" width="1432" height="1" fill="#0000ff"/>
<rect x="1356" y="744" width="6" height="1" fill="#0000ff"/>
<rect x="1356" y="793" width="6" height="1" fill="#0000ff"/>
<rect x="1356" y="756" width="3" height="1" fill="#0000ff"/>
<rect x="1356" y="768" width="3" height="1" fill="#0000ff"/>
<rect x="1356" y="780" width="3" height="1" fill="#0000ff"/>
<rect x="1356" y="805" width="3" height="1" fill="#0000ff"/>
<rect x="1356" y="817" width="3" height="1" fill="#0000ff"/>
<rect x="1356" y="829" width="3" height="1" fill="#0000ff"/>
<text x="1366" y="748.6" font-family="Liberation Serif, Times New Roman, serif" font-weight="bold" font-size="13.4" stroke="#0000ff" stroke-width="0.45" fill="#0000ff" textLength="32" lengthAdjust="spacingAndGlyphs" clip-path="url(#c3)">20.000</text>
<text x="1366" y="797.6" font-family="Liberation Serif, Times New Roman, serif" font-weight="bold" font-size="13.4" stroke="#0000ff" stroke-width="0.45" fill="#0000ff" textLength="32" lengthAdjust="spacingAndGlyphs">10.000</text>
<rect x="1392" y="3" width="11" height="1" fill="#d6d6ce"/><rect x="1404" y="3" width="11" height="1" fill="#d6d6ce"/><rect x="1417" y="3" width="11" height="1" fill="#d6d6ce"/>
<rect x="1392" y="4" width="11" height="9" fill="#d6d6ce"/>
<rect x="1392" y="12" width="11" height="1" fill="#404040"/>
<rect x="1404" y="4" width="11" height="9" fill="#d6d6ce"/>
<rect x="1404" y="12" width="11" height="1" fill="#404040"/>
<rect x="1417" y="4" width="11" height="9" fill="#d6d6ce"/>
<rect x="1417" y="12" width="11" height="1" fill="#404040"/>
<rect x="1394" y="9" width="6" height="2" fill="#000"/>
<rect x="1405" y="4" width="9" height="2" fill="#000"/>
<rect x="1405" y="4" width="1" height="7" fill="#000"/>
<rect x="1413" y="4" width="1" height="7" fill="#000"/>
<rect x="1405" y="10" width="9" height="1" fill="#000"/>
<path d="M1419.5 5 L1426 10.5 M1426 5 L1419.5 10.5" stroke="#000" stroke-width="1.5" fill="none" shape-rendering="auto"/>
<rect x="1392" y="472" width="11" height="9" fill="#d6d6ce"/>
<rect x="1392" y="480" width="11" height="1" fill="#404040"/>
<rect x="1404" y="472" width="11" height="9" fill="#d6d6ce"/>
<rect x="1404" y="480" width="11" height="1" fill="#404040"/>
<rect x="1417" y="472" width="11" height="9" fill="#d6d6ce"/>
<rect x="1417" y="480" width="11" height="1" fill="#404040"/>
<rect x="1394" y="477" width="6" height="2" fill="#000"/>
<rect x="1405" y="472" width="9" height="2" fill="#000"/>
<rect x="1405" y="472" width="1" height="7" fill="#000"/>
<rect x="1413" y="472" width="1" height="7" fill="#000"/>
<rect x="1405" y="478" width="9" height="1" fill="#000"/>
<path d="M1419.5 473 L1426 478.5 M1426 473 L1419.5 478.5" stroke="#000" stroke-width="1.5" fill="none" shape-rendering="auto"/>
<rect x="1392" y="589" width="11" height="9" fill="#d6d6ce"/>
<rect x="1392" y="597" width="11" height="1" fill="#404040"/>
<rect x="1404" y="589" width="11" height="9" fill="#d6d6ce"/>
<rect x="1404" y="597" width="11" height="1" fill="#404040"/>
<rect x="1417" y="589" width="11" height="9" fill="#d6d6ce"/>
<rect x="1417" y="597" width="11" height="1" fill="#404040"/>
<rect x="1394" y="594" width="6" height="2" fill="#000"/>
<rect x="1405" y="589" width="9" height="2" fill="#000"/>
<rect x="1405" y="589" width="1" height="7" fill="#000"/>
<rect x="1413" y="589" width="1" height="7" fill="#000"/>
<rect x="1405" y="595" width="9" height="1" fill="#000"/>
<path d="M1419.5 590 L1426 595.5 M1426 590 L1419.5 595.5" stroke="#000" stroke-width="1.5" fill="none" shape-rendering="auto"/>
<rect x="1392" y="731" width="11" height="9" fill="#d6d6ce"/>
<rect x="1392" y="739" width="11" height="1" fill="#404040"/>
<rect x="1404" y="731" width="11" height="9" fill="#d6d6ce"/>
<rect x="1404" y="739" width="11" height="1" fill="#404040"/>
<rect x="1417" y="731" width="11" height="9" fill="#d6d6ce"/>
<rect x="1417" y="739" width="11" height="1" fill="#404040"/>
<rect x="1394" y="736" width="6" height="2" fill="#000"/>
<rect x="1405" y="731" width="9" height="2" fill="#000"/>
<rect x="1405" y="731" width="1" height="7" fill="#000"/>
<rect x="1413" y="731" width="1" height="7" fill="#000"/>
<rect x="1405" y="737" width="9" height="1" fill="#000"/>
<path d="M1419.5 732 L1426 737.5 M1426 732 L1419.5 737.5" stroke="#000" stroke-width="1.5" fill="none" shape-rendering="auto"/>
<rect x="6" y="505" width="1154" height="1" fill="#0000ff"/>
<rect x="6" y="559" width="1154" height="1" fill="#0000ff"/>
<polyline points="6.3,521.5 7.3,520.0 8.3,518.5 9.3,517.3 10.3,516.7 11.3,516.2 12.3,515.5 13.3,513.5 14.3,511.6 15.3,509.7 16.3,507.8 17.3,505.5 18.3,502.9 19.3,500.7 20.3,498.8 21.3,497.1 22.3,495.8 23.3,494.6 24.3,493.6 25.3,493.0 26.3,492.5 27.3,492.1 28.3,491.9 29.3,491.7 30.3,491.6 31.3,491.5 32.3,491.3 33.3,491.0 34.3,490.8 35.3,490.5 36.3,490.4 37.3,490.3 38.3,490.3 39.3,490.3 40.3,490.4 41.3,490.5 42.3,490.6 43.3,490.8 44.3,491.0 45.3,491.3 46.3,491.5 47.3,491.8 48.3,492.0 49.3,492.2 50.3,492.2 51.3,492.1 52.3,491.9 53.3,491.4 54.3,490.9 55.3,490.5 56.3,490.3 57.3,490.1 58.3,490.2 59.3,490.5 60.3,491.0 61.3,491.6 62.3,492.4 63.3,493.4 64.3,494.7 65.3,496.5 66.3,498.8 67.3,501.5 68.3,504.6 69.3,507.7 70.3,509.8 71.3,510.9 72.3,510.7 73.3,509.3 74.3,506.9 75.3,503.6 76.3,499.9 77.3,496.8 78.3,494.7 79.3,493.9 80.3,494.6 81.3,497.5 82.3,502.7 83.3,510.0 84.3,518.7 85.3,528.1 86.3,537.0 87.3,544.9 88.3,551.3 89.3,555.9 90.3,558.9 91.3,560.7 92.3,561.9 93.3,563.2 94.3,564.7 95.3,565.9 96.3,566.6 97.3,566.6 98.3,566.0 99.3,564.8 100.3,563.0 101.3,560.7 102.3,558.3 103.3,556.0 104.3,553.7 105.3,551.7 106.3,550.0 107.3,548.5 108.3,547.3 109.3,546.5 110.3,546.2 111.3,546.3 112.3,546.6 113.3,547.3 114.3,548.3 115.3,549.6 116.3,551.0 117.3,552.6 118.3,554.2 119.3,555.8 120.3,557.3 121.3,558.5 122.3,559.5 123.3,560.4 124.3,561.0 125.3,561.5 126.3,561.9 127.3,562.2 128.3,562.4 129.3,562.6 130.3,562.6 131.3,562.7 132.3,562.9 133.3,563.1 134.3,563.5 135.3,564.0 136.3,564.8 137.3,565.9 138.3,567.2 139.3,568.7 140.3,570.2 141.3,571.5 142.3,572.5 143.3,573.1 144.3,573.0 145.3,572.4 146.3,571.3 147.3,570.3 148.3,569.5 149.3,568.8 150.3,568.5 151.3,568.5 152.3,568.8 153.3,569.3 154.3,569.5 155.3,569.4 156.3,569.1 157.3,568.5 158.3,567.8 159.3,567.1 160.3,566.2 161.3,565.6 162.3,565.6 163.3,565.8 164.3,565.6 165.3,565.3 166.3,564.9 167.3,564.6 168.3,564.1 169.3,563.2 170.3,562.3 171.3,561.7 172.3,561.4 173.3,560.5 174.3,559.3 175.3,557.8 176.3,556.4 177.3,555.1 178.3,553.8 179.3,552.4 180.3,551.4 181.3,550.6 182.3,549.9 183.3,548.4 184.3,546.2 185.3,543.3 186.3,539.8 187.3,535.6 188.3,530.9 189.3,525.6 190.3,520.3 191.3,515.4 192.3,510.8 193.3,507.1 194.3,504.2 195.3,502.2 196.3,501.1 197.3,500.5 198.3,500.2 199.3,500.3 200.3,500.0 201.3,499.5 202.3,498.7 203.3,497.9 204.3,497.2 205.3,496.6 206.3,496.2 207.3,496.3 208.3,496.9 209.3,497.9 210.3,499.0 211.3,500.1 212.3,500.9 213.3,501.5 214.3,501.5 215.3,501.0 216.3,500.0 217.3,498.7 218.3,497.0 219.3,495.6 220.3,494.6 221.3,494.0 222.3,493.9 223.3,494.1 224.3,494.7 225.3,495.6 226.3,496.6 227.3,497.8 228.3,498.8 229.3,499.6 230.3,500.1 231.3,500.5 232.3,500.4 233.3,499.9 234.3,498.9 235.3,498.4 236.3,498.2 237.3,498.2 238.3,498.2 239.3,498.7 240.3,499.7 241.3,500.8 242.3,501.5 243.3,502.3 244.3,503.4 245.3,504.8 246.3,506.2 247.3,507.6 248.3,508.9 249.3,510.3 250.3,511.6 251.3,512.7 252.3,513.7 253.3,515.0 254.3,516.9 255.3,519.0 256.3,521.1 257.3,523.3 258.3,525.6 259.3,528.2 260.3,530.9 261.3,533.4 262.3,536.1 263.3,539.2 264.3,542.2 265.3,544.8 266.3,546.7 267.3,548.0 268.3,548.7 269.3,548.9 270.3,548.6 271.3,548.1 272.3,548.0 273.3,548.6 274.3,549.7 275.3,551.1 276.3,552.7 277.3,554.2 278.3,555.6 279.3,556.3 280.3,555.9 281.3,554.2 282.3,551.7 283.3,548.1 284.3,543.9 285.3,539.0 286.3,533.7 287.3,528.5 288.3,523.5 289.3,518.5 290.3,513.5 291.3,508.5 292.3,503.9 293.3,500.0 294.3,496.7 295.3,494.0 296.3,492.1 297.3,491.2 298.3,491.2 299.3,491.6 300.3,492.2 301.3,493.0 302.3,494.0 303.3,495.0 304.3,496.2 305.3,497.6 306.3,499.5 307.3,502.3 308.3,505.7 309.3,509.3 310.3,512.4 311.3,515.0 312.3,517.0 313.3,517.9 314.3,517.7 315.3,516.5 316.3,514.8 317.3,513.2 318.3,511.3 319.3,509.2 320.3,507.1 321.3,505.0 322.3,503.0 323.3,501.1 324.3,499.6 325.3,498.8 326.3,498.8 327.3,499.3 328.3,500.4 329.3,501.9 330.3,503.7 331.3,505.5 332.3,507.5 333.3,509.5 334.3,511.5 335.3,513.8 336.3,516.3 337.3,519.3 338.3,522.6 339.3,526.4 340.3,530.6 341.3,535.2 342.3,539.8 343.3,544.2 344.3,548.3 345.3,552.0 346.3,555.4 347.3,558.3 348.3,560.9 349.3,562.9 350.3,564.7 351.3,566.4 352.3,568.1 353.3,569.3 354.3,569.9 355.3,570.0 356.3,569.8 357.3,569.1 358.3,567.7 359.3,565.6 360.3,563.2 361.3,561.0 362.3,559.0 363.3,557.0 364.3,555.5 365.3,554.4 366.3,553.7 367.3,553.3 368.3,553.0 369.3,552.5 370.3,551.9 371.3,551.2 372.3,549.6 373.3,547.0 374.3,543.4 375.3,539.2 376.3,534.4 377.3,529.8 378.3,525.4 379.3,522.4 380.3,521.4 381.3,522.3 382.3,525.0 383.3,529.4 384.3,534.8 385.3,540.9 386.3,547.2 387.3,553.2 388.3,557.9 389.3,561.4 390.3,563.6 391.3,564.4 392.3,564.0 393.3,562.3 394.3,559.3 395.3,555.7 396.3,550.9 397.3,545.0 398.3,538.5 399.3,531.7 400.3,524.7 401.3,518.4 402.3,512.7 403.3,508.3 404.3,505.2 405.3,503.1 406.3,501.5 407.3,500.5 408.3,499.5 409.3,498.5 410.3,497.5 411.3,496.5 412.3,495.7 413.3,495.2 414.3,495.1 415.3,495.3 416.3,496.3 417.3,497.8 418.3,499.8 419.3,502.2 420.3,504.6 421.3,507.3 422.3,509.9 423.3,512.3 424.3,514.5 425.3,517.1 426.3,520.1 427.3,523.6 428.3,527.6 429.3,531.9 430.3,536.8 431.3,540.9 432.3,543.8 433.3,545.5 434.3,546.0 435.3,545.3 436.3,543.4 437.3,540.8 438.3,538.7 439.3,537.2 440.3,536.6 441.3,536.8 442.3,538.0 443.3,539.8 444.3,540.9 445.3,541.1 446.3,540.0 447.3,537.5 448.3,533.4 449.3,527.8 450.3,521.1 451.3,514.6 452.3,508.6 453.3,503.4 454.3,499.3 455.3,496.4 456.3,494.6 457.3,493.8 458.3,493.5 459.3,493.4 460.3,494.3 461.3,496.0 462.3,498.3 463.3,501.1 464.3,504.5 465.3,508.5 466.3,512.9 467.3,515.9 468.3,517.4 469.3,517.6 470.3,516.6 471.3,514.3 472.3,510.7 473.3,506.4 474.3,502.6 475.3,499.2 476.3,496.5 477.3,494.6 478.3,493.4 479.3,493.2 480.3,493.8 481.3,494.9 482.3,496.5 483.3,498.4 484.3,500.5 485.3,502.7 486.3,505.0 487.3,507.1 488.3,509.0 489.3,510.9 490.3,512.8 491.3,514.9 492.3,517.1 493.3,519.5 494.3,521.9 495.3,524.4 496.3,526.9 497.3,529.3 498.3,531.3 499.3,532.9 500.3,534.1 501.3,535.2 502.3,536.3 503.3,537.5 504.3,538.9 505.3,540.9 506.3,543.6 507.3,546.9 508.3,550.5 509.3,554.3 510.3,557.9 511.3,561.2 512.3,563.9 513.3,565.6 514.3,566.3 515.3,566.2 516.3,565.5 517.3,564.7 518.3,563.6 519.3,562.7 520.3,562.2 521.3,562.2 522.3,562.6 523.3,563.1 524.3,563.7 525.3,564.1 526.3,563.9 527.3,563.1 528.3,561.5 529.3,559.3 530.3,556.8 531.3,554.4 532.3,552.3 533.3,550.7 534.3,549.8 535.3,549.9 536.3,550.8 537.3,551.9 538.3,552.7 539.3,552.8 540.3,552.0 541.3,550.2 542.3,547.2 543.3,543.2 544.3,538.4 545.3,533.2 546.3,528.2 547.3,523.4 548.3,520.1 549.3,518.5 550.3,518.8 551.3,521.1 552.3,525.3 553.3,531.0 554.3,538.3 555.3,545.6 556.3,552.6 557.3,558.7 558.3,563.2 559.3,566.2 560.3,568.3 561.3,569.4 562.3,569.7 563.3,569.5 564.3,569.4 565.3,569.6 566.3,570.0 567.3,570.2 568.3,570.2 569.3,570.1 570.3,569.7 571.3,569.2 572.3,568.6 573.3,568.0 574.3,567.5 575.3,567.2 576.3,566.9 577.3,566.9 578.3,566.7 579.3,566.4 580.3,566.0 581.3,565.4 582.3,564.6 583.3,563.6 584.3,562.4 585.3,561.0 586.3,559.3 587.3,557.4 588.3,555.3 589.3,552.9 590.3,550.4 591.3,547.5 592.3,544.3 593.3,540.9 594.3,537.8 595.3,535.3 596.3,533.8 597.3,533.4 598.3,534.4 599.3,536.8 600.3,540.6 601.3,545.4 602.3,550.2 603.3,554.9 604.3,559.1 605.3,562.8 606.3,565.6 607.3,567.4 608.3,568.3 609.3,568.7 610.3,568.9 611.3,568.7 612.3,568.3 613.3,567.9 614.3,567.6 615.3,567.3 616.3,566.9 617.3,566.5 618.3,565.9 619.3,565.2 620.3,564.4 621.3,563.7 622.3,562.9 623.3,562.2 624.3,561.7 625.3,561.3 626.3,561.1 627.3,560.8 628.3,560.1 629.3,559.0 630.3,557.6 631.3,555.8 632.3,553.6 633.3,551.4 634.3,549.5 635.3,547.9 636.3,547.5 637.3,548.2 638.3,549.9 639.3,552.4 640.3,555.5 641.3,559.2 642.3,562.9 643.3,565.8 644.3,567.7 645.3,568.7 646.3,568.9 647.3,568.4 648.3,567.1 649.3,565.7 650.3,564.4 651.3,563.3 652.3,562.1 653.3,560.8 654.3,559.4 655.3,557.7 656.3,555.5 657.3,552.9 658.3,549.9 659.3,547.2 660.3,544.7 661.3,542.5 662.3,541.1 663.3,540.7 664.3,541.5 665.3,543.2 666.3,545.7 667.3,548.8 668.3,552.4 669.3,555.6 670.3,558.1 671.3,559.8 672.3,560.3 673.3,559.3 674.3,557.1 675.3,554.0 676.3,550.7 677.3,547.1 678.3,543.4 679.3,540.0 680.3,536.8 681.3,533.7 682.3,530.4 683.3,528.1 684.3,526.8 685.3,526.8 686.3,528.2 687.3,531.1 688.3,535.8 689.3,541.7 690.3,547.8 691.3,553.8 692.3,558.6 693.3,561.9 694.3,563.6 695.3,563.6 696.3,562.3 697.3,559.6 698.3,555.7 699.3,551.5 700.3,547.2 701.3,542.8 702.3,538.5 703.3,534.3 704.3,530.3 705.3,526.4 706.3,522.8 707.3,519.4 708.3,516.7 709.3,514.7 710.3,513.8 711.3,513.9 712.3,515.0 713.3,516.7 714.3,519.0 715.3,521.1 716.3,522.6 717.3,523.1 718.3,522.4 719.3,520.7 720.3,518.2 721.3,515.5 722.3,512.8 723.3,510.5 724.3,508.7 725.3,507.7 726.3,507.3 727.3,507.6 728.3,508.0 729.3,508.6 730.3,509.3 731.3,510.1 732.3,510.8 733.3,511.4 734.3,511.8 735.3,512.1 736.3,512.5 737.3,512.9 738.3,513.3 739.3,513.9 740.3,514.8 741.3,515.8 742.3,517.0 743.3,518.5 744.3,520.5 745.3,523.0 746.3,526.1 747.3,530.0 748.3,534.4 749.3,539.5 750.3,544.9 751.3,550.0 752.3,554.7 753.3,558.9 754.3,562.2 755.3,564.5 756.3,565.8 757.3,565.7 758.3,564.9 759.3,563.2 760.3,560.6 761.3,557.3 762.3,553.6 763.3,549.2 764.3,544.6 765.3,539.6 766.3,534.0 767.3,527.9 768.3,521.5 769.3,514.7 770.3,508.3 771.3,502.7 772.3,498.1 773.3,494.9 774.3,493.3 775.3,493.1 776.3,494.0 777.3,495.7 778.3,497.4 779.3,499.1 780.3,500.5 781.3,501.5 782.3,502.4 783.3,503.6 784.3,505.1 785.3,506.8 786.3,508.9 787.3,510.7 788.3,512.0 789.3,512.3 790.3,511.4 791.3,509.2 792.3,506.2 793.3,502.8 794.3,499.4 795.3,496.7 796.3,494.7 797.3,493.6 798.3,493.3 799.3,493.6 800.3,494.0 801.3,494.5 802.3,495.1 803.3,495.8 804.3,496.6 805.3,497.5 806.3,498.7 807.3,500.2 808.3,502.1 809.3,504.1 810.3,505.8 811.3,507.5 812.3,508.9 813.3,509.6 814.3,509.7 815.3,509.1 816.3,508.3 817.3,507.4 818.3,506.8 819.3,506.7 820.3,507.4 821.3,509.3 822.3,512.5 823.3,516.9 824.3,522.4 825.3,528.6 826.3,534.8 827.3,540.3 828.3,544.3 829.3,546.6 830.3,547.1 831.3,545.7 832.3,542.6 833.3,538.2 834.3,533.4 835.3,529.3 836.3,525.9 837.3,523.4 838.3,522.1 839.3,522.1 840.3,523.1 841.3,524.3 842.3,525.5 843.3,526.6 844.3,527.5 845.3,528.1 846.3,528.5 847.3,529.6 848.3,531.3 849.3,533.6 850.3,536.4 851.3,539.6 852.3,543.1 853.3,546.7 854.3,550.0 855.3,552.8 856.3,555.3 857.3,557.5 858.3,559.2 859.3,560.6 860.3,561.5 861.3,562.2 862.3,562.8 863.3,563.4 864.3,564.0 865.3,564.7 866.3,565.6 867.3,566.7 868.3,568.0 869.3,569.1 870.3,570.2 871.3,571.3 872.3,572.0 873.3,572.6 874.3,572.8 875.3,572.8 876.3,572.6 877.3,572.3 878.3,571.8 879.3,571.4 880.3,571.0 881.3,570.6 882.3,570.2 883.3,569.9 884.3,569.5 885.3,569.1 886.3,568.4 887.3,567.6 888.3,566.6 889.3,566.0 890.3,565.5 891.3,565.4 892.3,565.5 893.3,566.0 894.3,566.9 895.3,568.0 896.3,569.0 897.3,569.8 898.3,570.5 899.3,570.9 900.3,571.0 901.3,570.7 902.3,569.5 903.3,567.5 904.3,564.6 905.3,560.6 906.3,555.8 907.3,550.7 908.3,545.6 909.3,541.2 910.3,537.6 911.3,535.0 912.3,533.7 913.3,533.8 914.3,534.6 915.3,536.3 916.3,538.6 917.3,541.4 918.3,544.7 919.3,548.2 920.3,551.7 921.3,555.2 922.3,558.4 923.3,561.1 924.3,563.3 925.3,565.1 926.3,566.5 927.3,567.6 928.3,568.3 929.3,568.6 930.3,568.5 931.3,567.9 932.3,566.4 933.3,564.7 934.3,563.0 935.3,561.4 936.3,560.2 937.3,559.6 938.3,559.4 939.3,559.7 940.3,558.5 941.3,555.7 942.3,551.7 943.3,546.4 944.3,540.9 945.3,535.6 946.3,530.6 947.3,527.9 948.3,527.4 949.3,528.7 950.3,531.6 951.3,534.2 952.3,536.2 953.3,537.9 954.3,538.7 955.3,538.5 956.3,537.1 957.3,534.9 958.3,533.5 959.3,532.8 960.3,532.8 961.3,533.5 962.3,535.0 963.3,537.6 964.3,541.1 965.3,545.0 966.3,549.2 967.3,553.5 968.3,557.7 969.3,561.7 970.3,565.2 971.3,568.2 972.3,570.5 973.3,572.1 974.3,573.1 975.3,573.5 976.3,573.4 977.3,572.8 978.3,571.9 979.3,570.8 980.3,569.6 981.3,568.4 982.3,567.5 983.3,567.1 984.3,567.0 985.3,567.2 986.3,567.5 987.3,567.9 988.3,568.3 989.3,568.2 990.3,567.6 991.3,566.4 992.3,564.3 993.3,561.3 994.3,557.2 995.3,552.2 996.3,547.3 997.3,542.4 998.3,537.9 999.3,534.5 1000.3,532.4 1001.3,532.1 1002.3,533.6 1003.3,536.1 1004.3,539.2 1005.3,542.3 1006.3,544.5 1007.3,545.8 1008.3,545.4 1009.3,543.2 1010.3,539.1 1011.3,533.6 1012.3,527.1 1013.3,520.6 1014.3,514.1 1015.3,508.2 1016.3,503.2 1017.3,499.1 1018.3,496.0 1019.3,494.1 1020.3,492.7 1021.3,491.9 1022.3,491.4 1023.3,491.1 1024.3,490.9 1025.3,490.8 1026.3,490.7 1027.3,490.6 1028.3,490.6 1029.3,490.6 1030.3,490.8 1031.3,491.0 1032.3,491.2 1033.3,491.6 1034.3,492.1 1035.3,492.7 1036.3,493.3 1037.3,493.9 1038.3,494.5 1039.3,495.0 1040.3,495.5 1041.3,496.0 1042.3,496.4 1043.3,496.9 1044.3,497.6 1045.3,498.5 1046.3,500.0 1047.3,502.4 1048.3,505.4 1049.3,508.8 1050.3,512.4 1051.3,515.7 1052.3,519.0 1053.3,521.5 1054.3,523.1 1055.3,524.1 1056.3,524.8 1057.3,526.0 1058.3,527.7 1059.3,529.6 1060.3,531.8 1061.3,534.3 1062.3,537.4 1063.3,540.9 1064.3,544.2 1065.3,547.5 1066.3,551.2 1067.3,555.6 1068.3,559.6 1069.3,562.4 1070.3,563.7 1071.3,562.8 1072.3,560.1 1073.3,555.1 1074.3,547.0 1075.3,537.7 1076.3,528.4 1077.3,520.3 1078.3,514.1 1079.3,509.3 1080.3,506.4 1081.3,506.6 1082.3,509.2 1083.3,513.1 1084.3,518.0 1085.3,523.5 1086.3,529.7 1087.3,536.4 1088.3,542.5 1089.3,548.4 1090.3,554.0 1091.3,558.6 1092.3,562.3 1093.3,565.1 1094.3,567.4 1095.3,569.3 1096.3,570.3 1097.3,570.8 1098.3,571.2 1099.3,571.4 1100.3,571.4 1101.3,571.0 1102.3,570.5 1103.3,569.9 1104.3,569.4 1105.3,568.7 1106.3,568.0 1107.3,567.4 1108.3,566.8 1109.3,566.1 1110.3,565.2 1111.3,564.2 1112.3,563.1 1113.3,562.1 1114.3,561.1 1115.3,560.3 1116.3,559.5 1117.3,558.8 1118.3,558.3 1119.3,557.9 1120.3,557.7 1121.3,557.5 1122.3,557.3 1123.3,556.8 1124.3,555.8 1125.3,553.8 1126.3,550.7 1127.3,547.6 1128.3,544.3 1129.3,541.3 1130.3,538.7 1131.3,536.8 1132.3,535.8 1133.3,535.8 1134.3,535.0 1135.3,533.0 1136.3,530.9 1137.3,529.4 1138.3,528.4 1139.3,528.0 1140.3,527.8 1141.3,528.6 1142.3,530.7 1143.3,532.7 1144.3,533.3 1145.3,532.2 1146.3,529.6 1147.3,526.1 1148.3,522.2 1149.3,518.6 1150.3,515.6 1151.3,514.2 1152.3,515.2 1153.3,519.2 1154.3,525.3 1155.3,532.9 1156.3,540.5 1157.3,547.9 1158.3,554.8 1159.3,560.6 1160.3,564.6" fill="none" stroke="#000" stroke-width="1" stroke-linejoin="round" stroke-dasharray="1.2 1.5"/>
<polyline points="6.3,521.5 8.8,513.9 11.3,513.9 15.1,502.6 18.1,496.3 23.9,491.3 27.7,492.1 32.7,490.1 40.2,490.6 46.5,492.6 50.3,492.1 54.0,488.8 57.8,491.3 61.6,493.8 64.1,498.9 66.6,510.2 69.1,517.7 71.6,505.1 75.4,491.3 77.9,490.6 79.9,500.1 81.7,520.2 83.7,547.9 85.5,559.2 89.2,560.4 91.8,565.5 94.3,570.5 96.8,564.2 99.3,557.9 101.8,552.9 104.3,546.6 108.1,545.4 111.9,547.9 114.4,552.9 118.1,559.2 121.9,561.7 126.9,563.0 130.7,562.5 134.5,565.5 137.0,569.2 139.5,575.0 142.0,574.3 145.8,566.7 149.6,569.2 153.3,570.5 157.1,565.5 160.9,564.2 162.9,569.2 164.7,563.0 168.4,561.7 172.2,560.4 174.7,551.6 178.5,551.6 182.3,546.6 184.8,534.0 187.3,520.2 189.8,506.4 192.3,498.9 196.1,501.4 198.6,500.1 202.4,495.1 206.1,496.3 208.6,501.4 211.2,503.9 214.9,497.6 218.7,491.3 222.5,496.3 226.2,498.9 227.5,502.6 231.3,500.1 233.8,493.8 235.8,500.1 238.8,500.6 242.6,503.9 245.1,510.2 248.9,512.7 252.6,517.7 254.4,525.2 257.7,530.3 261.4,542.8 264.0,551.6 267.7,547.4 271.5,547.4 274.0,555.4 276.5,558.4 279.0,556.7 281.5,542.8 285.3,522.7 289.1,505.1 291.6,491.3 295.4,490.1 299.1,493.8 302.9,497.6 305.4,502.6 308.7,522.7 311.7,517.7 314.2,512.7 317.2,508.9 319.8,500.1 323.0,496.3 325.5,500.1 328.1,505.1 331.3,511.4 334.3,517.7 336.9,527.8 339.4,540.3 341.9,552.9 345.7,561.7 348.2,568.0 350.0,568.0 352.5,573.0 356.3,566.7 360.1,555.4 363.8,552.9 367.6,552.9 371.4,547.9 373.9,530.3 376.4,516.5 378.9,517.7 381.4,535.3 383.9,552.9 387.2,569.2 389.7,565.5 392.7,555.4 395.2,542.8 397.8,517.7 400.3,503.9 404.0,501.4 407.8,496.3 411.6,493.8 414.9,496.3 417.9,507.7 421.6,515.2 424.2,520.2 427.4,537.8 430.4,552.9 433.5,542.8 436.7,532.8 440.0,537.8 443.0,547.9 445.5,535.3 448.0,515.2 450.6,497.6 453.1,492.6 456.8,493.8 459.4,493.8 461.9,507.7 466.1,525.2 469.4,510.2 472.7,495.1 475.7,491.3 478.7,493.8 482.0,502.6 485.7,510.2 489.5,516.5 493.3,527.8 497.1,535.3 500.8,536.6 503.8,542.8 506.4,555.4 508.9,565.5 512.1,569.2 515.4,561.7 518.4,560.9 520.9,564.2 524.7,565.5 527.2,557.9 529.7,547.4 533.0,549.1 536.0,555.4 538.0,555.4 541.1,540.3 544.1,522.7 547.3,510.2 549.8,525.2 552.4,547.9 554.9,565.5 556.6,572.5 559.2,568.5 562.4,569.2 565.7,571.8 570.0,567.5 573.7,566.7 577.5,566.7 581.3,563.0 585.0,556.7 588.8,546.6 591.3,537.8 593.8,527.3 596.4,534.0 598.9,547.9 601.4,563.0 605.2,570.5 608.9,568.0 612.7,567.5 616.5,565.5 620.2,561.7 624.0,560.4 626.5,561.7 629.0,554.2 632.1,545.9 635.3,545.9 637.8,557.9 641.6,573.0 644.6,568.0 647.9,563.0 651.7,560.4 654.7,552.9 657.9,540.3 661.7,538.3 664.2,547.9 668.0,564.2 671.3,560.4 674.3,545.4 676.8,537.8 679.8,530.3 682.3,519.0 684.8,530.3 688.1,555.4 691.4,570.5 694.4,560.4 698.2,542.8 700.0,535.3 703.8,520.2 707.0,510.2 709.6,512.7 712.1,522.7 715.1,527.3 717.6,517.7 720.1,507.7 723.9,506.4 727.7,509.7 731.4,512.7 735.2,512.2 739.0,516.5 742.7,521.5 745.2,532.8 747.8,547.9 750.3,561.7 753.3,568.5 755.8,566.7 759.1,555.4 762.3,540.3 765.4,522.7 767.9,502.6 769.9,489.6 772.4,490.6 774.9,498.1 777.9,502.1 781.7,503.1 784.2,511.4 786.7,518.2 789.2,507.7 791.8,493.8 794.3,492.1 798.0,494.6 801.8,496.3 805.6,501.4 808.6,510.2 811.9,511.4 815.1,505.1 817.6,504.6 820.2,512.7 822.7,530.3 825.2,550.4 826.9,554.2 829.5,542.8 832.0,530.3 833.7,519.0 837.0,520.2 839.5,529.0 842.8,527.3 845.8,529.0 848.3,540.3 850.8,549.1 853.8,557.9 857.1,562.5 860.9,563.0 864.7,566.7 867.9,571.8 870.9,573.5 874.7,572.5 877.2,570.5 881.0,570.0 884.8,568.0 888.0,563.0 891.1,566.7 894.8,571.0 898.6,571.8 901.1,569.2 903.6,555.4 906.1,537.8 908.6,531.5 911.7,532.8 914.9,542.8 918.2,555.4 921.2,565.5 925.0,568.0 928.3,570.5 930.8,565.5 932.5,556.7 935.0,558.4 937.6,562.5 939.3,559.9 941.3,537.8 943.3,522.7 946.4,525.2 948.4,535.3 950.1,544.1 952.6,537.8 955.2,534.0 956.9,527.8 959.4,534.0 962.7,545.4 965.2,557.9 967.7,569.2 971.0,574.3 974.5,574.3 977.8,568.0 981.0,565.5 984.1,568.5 987.8,569.2 991.1,561.7 993.6,545.4 995.4,532.8 997.9,528.3 1000.4,532.8 1002.9,547.9 1004.7,552.4 1007.2,542.8 1009.7,525.2 1012.2,505.1 1014.7,494.6 1018.0,491.3 1023.0,490.6 1028.1,490.6 1031.8,492.1 1035.6,495.1 1040.0,496.5 1042.8,498.2 1045.6,502.3 1047.7,516.3 1049.8,523.3 1052.6,524.7 1056.1,525.4 1058.2,535.9 1060.9,541.5 1063.7,552.6 1065.8,561.0 1067.2,570.8 1068.6,570.8 1070.0,562.4 1071.4,547.0 1072.8,535.9 1074.2,514.9 1075.6,502.3 1077.0,501.6 1078.4,505.8 1080.2,507.9 1081.9,520.5 1084.0,534.5 1086.1,549.8 1088.2,558.2 1090.0,568.7 1092.4,569.4 1095.2,571.9 1098.7,571.9 1101.5,568.3 1104.2,568.0 1107.0,565.9 1109.8,562.4 1112.6,559.3 1115.4,558.5 1117.5,556.8 1119.6,557.1 1121.7,558.2 1123.8,553.3 1125.2,543.5 1126.3,535.2 1128.7,535.6 1131.5,536.6 1133.9,535.2 1135.0,521.2 1136.4,521.2 1137.8,527.5 1139.2,533.1 1141.3,535.2 1143.1,536.6 1144.1,531.7 1145.4,520.5 1146.8,510.7 1148.2,507.9 1149.6,511.4 1151.7,521.9 1153.4,544.2 1155.2,561.0 1157.3,566.6 1159.4,570.1 1160.8,570.8" fill="none" stroke="#ff0000" stroke-width="2" stroke-linejoin="round"/>
<rect x="6" y="660" width="1154" height="1" fill="#0000ff"/>
<rect x="635" y="698" width="3" height="1" fill="#0000ff"/>
<rect x="641" y="698" width="3" height="1" fill="#0000ff"/>
<rect x="647" y="698" width="3" height="1" fill="#0000ff"/>
<rect x="653" y="698" width="3" height="1" fill="#0000ff"/>
<rect x="659" y="698" width="3" height="1" fill="#0000ff"/>
<rect x="665" y="698" width="3" height="1" fill="#0000ff"/>
<rect x="671" y="698" width="3" height="1" fill="#0000ff"/>
<rect x="677" y="698" width="3" height="1" fill="#0000ff"/>
<rect x="683" y="698" width="3" height="1" fill="#0000ff"/>
<rect x="689" y="698" width="3" height="1" fill="#0000ff"/>
<rect x="695" y="698" width="3" height="1" fill="#0000ff"/>
<rect x="701" y="698" width="3" height="1" fill="#0000ff"/>
<rect x="707" y="698" width="3" height="1" fill="#0000ff"/>
<rect x="713" y="698" width="3" height="1" fill="#0000ff"/>
<rect x="719" y="698" width="3" height="1" fill="#0000ff"/>
<rect x="725" y="698" width="3" height="1" fill="#0000ff"/>
<rect x="731" y="698" width="3" height="1" fill="#0000ff"/>
<rect x="737" y="698" width="3" height="1" fill="#0000ff"/>
<rect x="743" y="698" width="3" height="1" fill="#0000ff"/>
<rect x="749" y="698" width="3" height="1" fill="#0000ff"/>
<rect x="755" y="698" width="3" height="1" fill="#0000ff"/>
<rect x="761" y="698" width="3" height="1" fill="#0000ff"/>
<rect x="767" y="698" width="3" height="1" fill="#0000ff"/>
<rect x="773" y="698" width="3" height="1" fill="#0000ff"/>
<rect x="779" y="698" width="3" height="1" fill="#0000ff"/>
<rect x="785" y="698" width="3" height="1" fill="#0000ff"/>
<rect x="791" y="698" width="3" height="1" fill="#0000ff"/>
<rect x="797" y="698" width="3" height="1" fill="#0000ff"/>
<rect x="803" y="698" width="3" height="1" fill="#0000ff"/>
<rect x="809" y="698" width="3" height="1" fill="#0000ff"/>
<rect x="815" y="698" width="3" height="1" fill="#0000ff"/>
<rect x="821" y="698" width="3" height="1" fill="#0000ff"/>
<rect x="827" y="698" width="3" height="1" fill="#0000ff"/>
<rect x="833" y="698" width="3" height="1" fill="#0000ff"/>
<rect x="839" y="698" width="3" height="1" fill="#0000ff"/>
<rect x="845" y="698" width="3" height="1" fill="#0000ff"/>
<rect x="851" y="698" width="3" height="1" fill="#0000ff"/>
<rect x="857" y="698" width="3" height="1" fill="#0000ff"/>
<rect x="863" y="698" width="3" height="1" fill="#0000ff"/>
<rect x="869" y="698" width="3" height="1" fill="#0000ff"/>
<rect x="875" y="698" width="3" height="1" fill="#0000ff"/>
<rect x="881" y="698" width="3" height="1" fill="#0000ff"/>
<rect x="887" y="698" width="3" height="1" fill="#0000ff"/>
<rect x="893" y="698" width="3" height="1" fill="#0000ff"/>
<rect x="899" y="698" width="3" height="1" fill="#0000ff"/>
<rect x="905" y="698" width="3" height="1" fill="#0000ff"/>
<rect x="911" y="698" width="3" height="1" fill="#0000ff"/>
<rect x="917" y="698" width="3" height="1" fill="#0000ff"/>
<rect x="923" y="698" width="3" height="1" fill="#0000ff"/>
<rect x="929" y="698" width="3" height="1" fill="#0000ff"/>
<rect x="935" y="698" width="3" height="1" fill="#0000ff"/>
<rect x="941" y="698" width="3" height="1" fill="#0000ff"/>
<rect x="947" y="698" width="3" height="1" fill="#0000ff"/>
<rect x="953" y="698" width="3" height="1" fill="#0000ff"/>
<rect x="959" y="698" width="3" height="1" fill="#0000ff"/>
<rect x="965" y="698" width="3" height="1" fill="#0000ff"/>
<rect x="971" y="698" width="3" height="1" fill="#0000ff"/>
<rect x="977" y="698" width="3" height="1" fill="#0000ff"/>
<rect x="983" y="698" width="3" height="1" fill="#0000ff"/>
<rect x="989" y="698" width="3" height="1" fill="#0000ff"/>
<rect x="995" y="698" width="3" height="1" fill="#0000ff"/>
<rect x="1001" y="698" width="3" height="1" fill="#0000ff"/>
<rect x="1007" y="698" width="3" height="1" fill="#0000ff"/>
<rect x="1013" y="698" width="3" height="1" fill="#0000ff"/>
<rect x="1019" y="698" width="3" height="1" fill="#0000ff"/>
<rect x="1025" y="698" width="3" height="1" fill="#0000ff"/>
<rect x="1031" y="698" width="3" height="1" fill="#0000ff"/>
<rect x="1037" y="698" width="3" height="1" fill="#0000ff"/>
<rect x="1043" y="698" width="3" height="1" fill="#0000ff"/>
<rect x="1049" y="698" width="3" height="1" fill="#0000ff"/>
<rect x="1055" y="698" width="3" height="1" fill="#0000ff"/>
<rect x="1061" y="698" width="3" height="1" fill="#0000ff"/>
<rect x="1067" y="698" width="3" height="1" fill="#0000ff"/>
<rect x="1073" y="698" width="3" height="1" fill="#0000ff"/>
<rect x="1079" y="698" width="3" height="1" fill="#0000ff"/>
<rect x="1085" y="698" width="3" height="1" fill="#0000ff"/>
<rect x="1091" y="698" width="3" height="1" fill="#0000ff"/>
<rect x="1097" y="698" width="3" height="1" fill="#0000ff"/>
<rect x="1103" y="698" width="3" height="1" fill="#0000ff"/>
<rect x="1109" y="698" width="3" height="1" fill="#0000ff"/>
<rect x="635" y="704" width="3" height="1" fill="#0000ff"/>
<rect x="641" y="704" width="3" height="1" fill="#0000ff"/>
<rect x="647" y="704" width="3" height="1" fill="#0000ff"/>
<rect x="653" y="704" width="3" height="1" fill="#0000ff"/>
<rect x="659" y="704" width="3" height="1" fill="#0000ff"/>
<rect x="665" y="704" width="3" height="1" fill="#0000ff"/>
<rect x="671" y="704" width="3" height="1" fill="#0000ff"/>
<rect x="677" y="704" width="3" height="1" fill="#0000ff"/>
<rect x="683" y="704" width="3" height="1" fill="#0000ff"/>
<rect x="689" y="704" width="3" height="1" fill="#0000ff"/>
<rect x="695" y="704" width="3" height="1" fill="#0000ff"/>
<rect x="701" y="704" width="3" height="1" fill="#0000ff"/>
<rect x="707" y="704" width="3" height="1" fill="#0000ff"/>
<rect x="713" y="704" width="3" height="1" fill="#0000ff"/>
<rect x="719" y="704" width="3" height="1" fill="#0000ff"/>
<rect x="725" y="704" width="3" height="1" fill="#0000ff"/>
<rect x="731" y="704" width="3" height="1" fill="#0000ff"/>
<rect x="737" y="704" width="3" height="1" fill="#0000ff"/>
<rect x="743" y="704" width="3" height="1" fill="#0000ff"/>
<rect x="749" y="704" width="3" height="1" fill="#0000ff"/>
<rect x="755" y="704" width="3" height="1" fill="#0000ff"/>
<rect x="761" y="704" width="3" height="1" fill="#0000ff"/>
<rect x="767" y="704" width="3" height="1" fill="#0000ff"/>
<rect x="773" y="704" width="3" height="1" fill="#0000ff"/>
<rect x="779" y="704" width="3" height="1" fill="#0000ff"/>
<rect x="785" y="704" width="3" height="1" fill="#0000ff"/>
<rect x="791" y="704" width="3" height="1" fill="#0000ff"/>
<rect x="797" y="704" width="3" height="1" fill="#0000ff"/>
<rect x="803" y="704" width="3" height="1" fill="#0000ff"/>
<rect x="809" y="704" width="3" height="1" fill="#0000ff"/>
<rect x="815" y="704" width="3" height="1" fill="#0000ff"/>
<rect x="821" y="704" width="3" height="1" fill="#0000ff"/>
<rect x="827" y="704" width="3" height="1" fill="#0000ff"/>
<rect x="833" y="704" width="3" height="1" fill="#0000ff"/>
<rect x="839" y="704" width="3" height="1" fill="#0000ff"/>
<rect x="845" y="704" width="3" height="1" fill="#0000ff"/>
<rect x="851" y="704" width="3" height="1" fill="#0000ff"/>
<rect x="857" y="704" width="3" height="1" fill="#0000ff"/>
<rect x="863" y="704" width="3" height="1" fill="#0000ff"/>
<rect x="869" y="704" width="3" height="1" fill="#0000ff"/>
<rect x="875" y="704" width="3" height="1" fill="#0000ff"/>
<rect x="881" y="704" width="3" height="1" fill="#0000ff"/>
<rect x="887" y="704" width="3" height="1" fill="#0000ff"/>
<rect x="893" y="704" width="3" height="1" fill="#0000ff"/>
<rect x="899" y="704" width="3" height="1" fill="#0000ff"/>
<rect x="905" y="704" width="3" height="1" fill="#0000ff"/>
<rect x="911" y="704" width="3" height="1" fill="#0000ff"/>
<rect x="917" y="704" width="3" height="1" fill="#0000ff"/>
<rect x="923" y="704" width="3" height="1" fill="#0000ff"/>
<rect x="929" y="704" width="3" height="1" fill="#0000ff"/>
<rect x="935" y="704" width="3" height="1" fill="#0000ff"/>
<rect x="941" y="704" width="3" height="1" fill="#0000ff"/>
<rect x="947" y="704" width="3" height="1" fill="#0000ff"/>
<rect x="953" y="704" width="3" height="1" fill="#0000ff"/>
<rect x="959" y="704" width="3" height="1" fill="#0000ff"/>
<rect x="965" y="704" width="3" height="1" fill="#0000ff"/>
<rect x="971" y="704" width="3" height="1" fill="#0000ff"/>
<rect x="977" y="704" width="3" height="1" fill="#0000ff"/>
<rect x="983" y="704" width="3" height="1" fill="#0000ff"/>
<rect x="989" y="704" width="3" height="1" fill="#0000ff"/>
<rect x="995" y="704" width="3" height="1" fill="#0000ff"/>
<rect x="1001" y="704" width="3" height="1" fill="#0000ff"/>
<rect x="1007" y="704" width="3" height="1" fill="#0000ff"/>
<rect x="1013" y="704" width="3" height="1" fill="#0000ff"/>
<rect x="1019" y="704" width="3" height="1" fill="#0000ff"/>
<rect x="1025" y="704" width="3" height="1" fill="#0000ff"/>
<rect x="1031" y="704" width="3" height="1" fill="#0000ff"/>
<rect x="1037" y="704" width="3" height="1" fill="#0000ff"/>
<rect x="1043" y="704" width="3" height="1" fill="#0000ff"/>
<rect x="1049" y="704" width="3" height="1" fill="#0000ff"/>
<rect x="1055" y="704" width="3" height="1" fill="#0000ff"/>
<rect x="1061" y="704" width="3" height="1" fill="#0000ff"/>
<rect x="1067" y="704" width="3" height="1" fill="#0000ff"/>
<rect x="1073" y="704" width="3" height="1" fill="#0000ff"/>
<rect x="1079" y="704" width="3" height="1" fill="#0000ff"/>
<rect x="1085" y="704" width="3" height="1" fill="#0000ff"/>
<rect x="1091" y="704" width="3" height="1" fill="#0000ff"/>
<rect x="1097" y="704" width="3" height="1" fill="#0000ff"/>
<rect x="1103" y="704" width="3" height="1" fill="#0000ff"/>
<rect x="1109" y="704" width="3" height="1" fill="#0000ff"/>
<polyline points="6.3,651.5 7.3,651.1 8.3,650.7 9.3,650.3 10.3,649.8 11.3,649.2 12.3,648.4 13.3,647.2 14.3,645.7 15.3,644.2 16.3,642.6 17.3,641.1 18.3,639.6 19.3,638.0 20.3,636.4 21.3,634.8 22.3,633.2 23.3,631.6 24.3,630.0 25.3,628.4 26.3,626.9 27.3,625.5 28.3,624.2 29.3,622.9 30.3,621.6 31.3,620.5 32.3,619.4 33.3,618.3 34.3,617.3 35.3,616.4 36.3,615.6 37.3,614.8 38.3,614.1 39.3,613.6 40.3,613.1 41.3,612.7 42.3,612.4 43.3,612.1 44.3,611.9 45.3,611.7 46.3,611.6 47.3,611.6 48.3,611.6 49.3,611.8 50.3,612.0 51.3,612.2 52.3,612.4 53.3,612.7 54.3,612.9 55.3,613.2 56.3,613.4 57.3,613.8 58.3,614.1 59.3,614.4 60.3,614.8 61.3,615.2 62.3,615.6 63.3,616.0 64.3,616.5 65.3,617.0 66.3,617.6 67.3,618.2 68.3,618.7 69.3,619.3 70.3,619.9 71.3,620.5 72.3,621.1 73.3,621.6 74.3,622.1 75.3,622.6 76.3,623.0 77.3,623.5 78.3,624.0 79.3,624.6 80.3,625.2 81.3,625.8 82.3,626.5 83.3,627.3 84.3,628.1 85.3,629.1 86.3,630.1 87.3,631.2 88.3,632.3 89.3,633.5 90.3,634.7 91.3,636.0 92.3,637.3 93.3,638.6 94.3,639.9 95.3,641.2 96.3,642.4 97.3,643.7 98.3,645.0 99.3,646.2 100.3,647.2 101.3,648.2 102.3,649.2 103.3,650.0 104.3,650.8 105.3,651.5 106.3,652.2 107.3,652.8 108.3,653.4 109.3,653.9 110.3,654.4 111.3,654.9 112.3,655.4 113.3,656.0 114.3,656.5 115.3,657.1 116.3,657.7 117.3,658.2 118.3,658.8 119.3,659.4 120.3,659.9 121.3,660.4 122.3,661.0 123.3,661.5 124.3,661.9 125.3,662.4 126.3,662.8 127.3,663.2 128.3,663.6 129.3,664.0 130.3,664.3 131.3,664.6 132.3,664.9 133.3,665.1 134.3,665.4 135.3,665.8 136.3,666.2 137.3,666.6 138.3,667.1 139.3,667.6 140.3,668.1 141.3,668.7 142.3,669.2 143.3,669.7 144.3,670.2 145.3,670.6 146.3,671.1 147.3,671.5 148.3,671.9 149.3,672.4 150.3,672.8 151.3,673.3 152.3,673.7 153.3,674.1 154.3,674.5 155.3,674.8 156.3,675.2 157.3,675.5 158.3,675.8 159.3,676.1 160.3,676.3 161.3,676.6 162.3,676.8 163.3,677.0 164.3,677.2 165.3,677.6 166.3,678.2 167.3,679.0 168.3,679.9 169.3,680.7 170.3,681.6 171.3,682.4 172.3,683.2 173.3,684.0 174.3,684.7 175.3,685.3 176.3,686.0 177.3,686.5 178.3,687.0 179.3,687.5 180.3,687.8 181.3,688.0 182.3,688.1 183.3,688.0 184.3,687.7 185.3,687.2 186.3,686.6 187.3,685.9 188.3,685.1 189.3,684.3 190.3,683.4 191.3,682.5 192.3,681.5 193.3,680.5 194.3,679.5 195.3,678.6 196.3,677.8 197.3,677.0 198.3,676.1 199.3,675.1 200.3,674.1 201.3,673.1 202.3,672.0 203.3,670.9 204.3,669.9 205.3,668.9 206.3,667.9 207.3,667.0 208.3,666.2 209.3,665.4 210.3,664.6 211.3,663.9 212.3,663.2 213.3,662.5 214.3,661.8 215.3,661.1 216.3,660.4 217.3,659.6 218.3,658.9 219.3,658.2 220.3,657.5 221.3,656.8 222.3,656.2 223.3,655.7 224.3,655.1 225.3,654.7 226.3,654.2 227.3,653.8 228.3,653.4 229.3,652.9 230.3,652.3 231.3,651.7 232.3,651.1 233.3,650.5 234.3,649.9 235.3,649.3 236.3,648.7 237.3,648.2 238.3,647.7 239.3,647.2 240.3,646.8 241.3,646.4 242.3,646.1 243.3,645.8 244.3,645.5 245.3,645.2 246.3,645.0 247.3,644.7 248.3,644.5 249.3,644.4 250.3,644.2 251.3,644.2 252.3,644.2 253.3,644.2 254.3,644.3 255.3,644.4 256.3,644.6 257.3,644.9 258.3,645.2 259.3,645.5 260.3,645.9 261.3,646.4 262.3,646.8 263.3,647.3 264.3,647.7 265.3,648.2 266.3,648.6 267.3,649.1 268.3,649.5 269.3,649.9 270.3,650.4 271.3,650.8 272.3,651.3 273.3,651.8 274.3,652.2 275.3,652.6 276.3,653.0 277.3,653.4 278.3,653.7 279.3,654.0 280.3,654.2 281.3,654.4 282.3,654.6 283.3,654.8 284.3,654.9 285.3,655.0 286.3,655.0 287.3,655.0 288.3,654.9 289.3,654.8 290.3,654.7 291.3,654.6 292.3,654.4 293.3,654.3 294.3,654.1 295.3,653.9 296.3,653.8 297.3,653.6 298.3,653.4 299.3,653.2 300.3,652.9 301.3,652.7 302.3,652.5 303.3,652.3 304.3,652.2 305.3,652.1 306.3,652.1 307.3,652.0 308.3,652.0 309.3,651.9 310.3,651.8 311.3,651.7 312.3,651.6 313.3,651.6 314.3,651.5 315.3,651.4 316.3,651.4 317.3,651.3 318.3,651.1 319.3,650.8 320.3,650.4 321.3,650.0 322.3,649.5 323.3,649.0 324.3,648.5 325.3,647.9 326.3,647.4 327.3,646.8 328.3,646.3 329.3,645.8 330.3,645.3 331.3,645.0 332.3,644.7 333.3,644.4 334.3,644.3 335.3,644.2 336.3,644.3 337.3,644.4 338.3,644.6 339.3,644.9 340.3,645.3 341.3,645.7 342.3,646.2 343.3,646.7 344.3,647.3 345.3,648.0 346.3,648.7 347.3,649.5 348.3,650.4 349.3,651.4 350.3,652.6 351.3,653.8 352.3,655.1 353.3,656.4 354.3,657.8 355.3,659.0 356.3,660.2 357.3,661.3 358.3,662.3 359.3,663.3 360.3,664.1 361.3,664.9 362.3,665.6 363.3,666.2 364.3,666.7 365.3,667.2 366.3,667.6 367.3,668.1 368.3,668.5 369.3,669.0 370.3,669.4 371.3,669.7 372.3,669.8 373.3,669.8 374.3,669.7 375.3,669.5 376.3,669.3 377.3,669.0 378.3,668.7 379.3,668.4 380.3,668.2 381.3,668.1 382.3,668.2 383.3,668.4 384.3,668.8 385.3,669.3 386.3,669.9 387.3,670.6 388.3,671.4 389.3,672.0 390.3,672.6 391.3,673.2 392.3,673.7 393.3,674.1 394.3,674.6 395.3,674.8 396.3,674.7 397.3,674.3 398.3,673.7 399.3,673.0 400.3,672.0 401.3,671.0 402.3,669.9 403.3,668.7 404.3,667.5 405.3,666.2 406.3,664.9 407.3,663.5 408.3,662.2 409.3,660.9 410.3,659.5 411.3,658.3 412.3,657.2 413.3,656.1 414.3,655.2 415.3,654.3 416.3,653.6 417.3,653.0 418.3,652.6 419.3,652.3 420.3,652.0 421.3,651.9 422.3,651.7 423.3,651.7 424.3,651.7 425.3,651.7 426.3,651.7 427.3,651.8 428.3,651.9 429.3,652.0 430.3,652.1 431.3,652.2 432.3,652.2 433.3,652.3 434.3,652.3 435.3,652.4 436.3,652.4 437.3,652.5 438.3,652.6 439.3,652.7 440.3,652.8 441.3,652.9 442.3,653.0 443.3,653.2 444.3,653.3 445.3,653.4 446.3,653.5 447.3,653.5 448.3,653.5 449.3,653.4 450.3,653.3 451.3,653.2 452.3,653.0 453.3,652.7 454.3,652.3 455.3,651.9 456.3,651.5 457.3,651.1 458.3,650.6 459.3,650.2 460.3,649.8 461.3,649.5 462.3,649.3 463.3,649.1 464.3,649.0 465.3,648.9 466.3,648.8 467.3,648.7 468.3,648.6 469.3,648.4 470.3,648.2 471.3,647.8 472.3,647.5 473.3,647.0 474.3,646.5 475.3,645.9 476.3,645.3 477.3,644.7 478.3,644.0 479.3,643.3 480.3,642.6 481.3,642.0 482.3,641.4 483.3,640.9 484.3,640.4 485.3,640.0 486.3,639.7 487.3,639.5 488.3,639.3 489.3,639.3 490.3,639.4 491.3,639.5 492.3,639.7 493.3,640.0 494.3,640.4 495.3,640.8 496.3,641.3 497.3,641.8 498.3,642.3 499.3,642.8 500.3,643.2 501.3,643.7 502.3,644.2 503.3,644.6 504.3,645.2 505.3,645.7 506.3,646.3 507.3,646.9 508.3,647.6 509.3,648.3 510.3,649.0 511.3,649.8 512.3,650.6 513.3,651.4 514.3,652.3 515.3,653.1 516.3,654.0 517.3,654.8 518.3,655.6 519.3,656.4 520.3,657.1 521.3,657.9 522.3,658.5 523.3,659.1 524.3,659.7 525.3,660.2 526.3,660.6 527.3,661.0 528.3,661.4 529.3,661.7 530.3,662.0 531.3,662.4 532.3,662.7 533.3,662.9 534.3,663.2 535.3,663.5 536.3,663.8 537.3,664.1 538.3,664.3 539.3,664.5 540.3,664.6 541.3,664.8 542.3,664.8 543.3,664.9 544.3,664.9 545.3,665.0 546.3,665.0 547.3,665.0 548.3,665.0 549.3,665.1 550.3,665.2 551.3,665.5 552.3,665.8 553.3,666.2 554.3,666.7 555.3,667.2 556.3,667.9 557.3,668.5 558.3,669.3 559.3,670.0 560.3,670.8 561.3,671.6 562.3,672.4 563.3,673.2 564.3,674.0 565.3,674.8 566.3,675.6 567.3,676.4 568.3,677.2 569.3,677.9 570.3,678.7 571.3,679.3 572.3,679.9 573.3,680.4 574.3,680.9 575.3,681.3 576.3,681.7 577.3,682.1 578.3,682.4 579.3,682.6 580.3,682.8 581.3,682.9 582.3,683.0 583.3,683.0 584.3,683.0 585.3,682.9 586.3,682.8 587.3,682.6 588.3,682.4 589.3,682.1 590.3,681.9 591.3,681.6 592.3,681.3 593.3,681.0 594.3,680.8 595.3,680.5 596.3,680.3 597.3,680.1 598.3,679.9 599.3,679.7 600.3,679.6 601.3,679.6 602.3,679.6 603.3,679.7 604.3,679.7 605.3,679.8 606.3,680.0 607.3,680.1 608.3,680.2 609.3,680.4 610.3,680.6 611.3,680.9 612.3,681.2 613.3,681.6 614.3,682.0 615.3,682.4 616.3,682.7 617.3,683.1 618.3,683.5 619.3,683.8 620.3,684.2 621.3,684.5 622.3,684.7 623.3,684.9 624.3,685.1 625.3,685.4 626.3,685.7 627.3,685.9 628.3,686.1 629.3,686.2 630.3,686.3 631.3,686.4 632.3,686.4 633.3,686.5 634.3,686.5 635.3,686.5 636.3,686.6 637.3,686.8 638.3,687.1 639.3,687.5 640.3,687.9 641.3,688.3 642.3,688.8 643.3,689.3 644.3,689.9 645.3,690.4 646.3,690.9 647.3,691.4 648.3,691.8 649.3,692.3 650.3,692.7 651.3,693.0 652.3,693.2 653.3,693.3 654.3,693.2 655.3,693.1 656.3,692.8 657.3,692.5 658.3,692.1 659.3,691.6 660.3,691.1 661.3,690.6 662.3,690.1 663.3,689.6 664.3,689.2 665.3,688.9 666.3,688.6 667.3,688.4 668.3,688.1 669.3,687.9 670.3,687.7 671.3,687.5 672.3,687.3 673.3,687.0 674.3,686.7 675.3,686.3 676.3,686.0 677.3,685.5 678.3,685.0 679.3,684.4 680.3,683.7 681.3,683.0 682.3,682.3 683.3,681.7 684.3,681.2 685.3,680.8 686.3,680.6 687.3,680.5 688.3,680.7 689.3,681.1 690.3,681.7 691.3,682.5 692.3,683.3 693.3,684.1 694.3,684.7 695.3,685.4 696.3,686.0 697.3,686.4 698.3,686.8 699.3,687.0 700.3,687.1 701.3,686.9 702.3,686.5 703.3,685.9 704.3,685.2 705.3,684.4 706.3,683.5 707.3,682.6 708.3,681.7 709.3,680.8 710.3,680.1 711.3,679.4 712.3,678.8 713.3,678.2 714.3,677.6 715.3,677.1 716.3,676.5 717.3,675.8 718.3,675.0 719.3,674.1 720.3,673.1 721.3,672.2 722.3,671.2 723.3,670.3 724.3,669.3 725.3,668.3 726.3,667.4 727.3,666.5 728.3,665.7 729.3,664.9 730.3,664.1 731.3,663.4 732.3,662.7 733.3,662.1 734.3,661.6 735.3,661.1 736.3,660.6 737.3,660.3 738.3,660.0 739.3,659.8 740.3,659.6 741.3,659.5 742.3,659.4 743.3,659.3 744.3,659.3 745.3,659.3 746.3,659.4 747.3,659.6 748.3,660.0 749.3,660.4 750.3,660.8 751.3,661.3 752.3,661.9 753.3,662.4 754.3,663.0 755.3,663.5 756.3,664.0 757.3,664.4 758.3,664.8 759.3,665.1 760.3,665.4 761.3,665.6 762.3,665.6 763.3,665.5 764.3,665.3 765.3,665.0 766.3,664.4 767.3,663.7 768.3,662.8 769.3,661.7 770.3,660.6 771.3,659.4 772.3,658.1 773.3,656.9 774.3,655.8 775.3,654.7 776.3,653.7 777.3,652.7 778.3,651.6 779.3,650.4 780.3,649.4 781.3,648.6 782.3,647.9 783.3,647.3 784.3,646.8 785.3,646.4 786.3,645.9 787.3,645.4 788.3,645.0 789.3,644.4 790.3,643.9 791.3,643.2 792.3,642.6 793.3,641.9 794.3,641.2 795.3,640.5 796.3,639.9 797.3,639.2 798.3,638.5 799.3,637.7 800.3,637.0 801.3,636.3 802.3,635.7 803.3,635.2 804.3,634.7 805.3,634.3 806.3,634.0 807.3,633.8 808.3,633.8 809.3,633.8 810.3,633.8 811.3,633.9 812.3,634.0 813.3,634.0 814.3,634.1 815.3,634.2 816.3,634.4 817.3,634.5 818.3,634.7 819.3,634.9 820.3,635.2 821.3,635.5 822.3,635.9 823.3,636.3 824.3,636.8 825.3,637.3 826.3,637.9 827.3,638.4 828.3,639.0 829.3,639.5 830.3,640.1 831.3,640.7 832.3,641.2 833.3,641.6 834.3,642.1 835.3,642.5 836.3,642.8 837.3,643.2 838.3,643.6 839.3,643.9 840.3,644.3 841.3,644.6 842.3,645.0 843.3,645.4 844.3,645.8 845.3,646.2 846.3,646.6 847.3,647.0 848.3,647.5 849.3,648.1 850.3,648.7 851.3,649.3 852.3,650.0 853.3,650.8 854.3,651.6 855.3,652.5 856.3,653.3 857.3,654.3 858.3,655.2 859.3,656.2 860.3,657.2 861.3,658.2 862.3,659.3 863.3,660.4 864.3,661.6 865.3,662.8 866.3,664.1 867.3,665.5 868.3,666.9 869.3,668.5 870.3,670.2 871.3,671.9 872.3,673.7 873.3,675.4 874.3,677.1 875.3,678.9 876.3,680.6 877.3,682.3 878.3,683.9 879.3,685.4 880.3,686.9 881.3,688.3 882.3,689.6 883.3,690.7 884.3,691.8 885.3,692.7 886.3,693.6 887.3,694.3 888.3,694.9 889.3,695.4 890.3,695.9 891.3,696.3 892.3,696.7 893.3,697.0 894.3,697.4 895.3,697.7 896.3,698.0 897.3,698.2 898.3,698.4 899.3,698.6 900.3,698.8 901.3,699.0 902.3,699.1 903.3,699.1 904.3,699.0 905.3,698.9 906.3,698.6 907.3,698.3 908.3,697.8 909.3,697.4 910.3,696.9 911.3,696.4 912.3,695.9 913.3,695.5 914.3,695.0 915.3,694.5 916.3,694.1 917.3,693.8 918.3,693.5 919.3,693.3 920.3,693.1 921.3,692.9 922.3,692.9 923.3,692.8 924.3,692.8 925.3,692.9 926.3,693.0 927.3,693.2 928.3,693.5 929.3,693.8 930.3,694.1 931.3,694.4 932.3,694.7 933.3,695.0 934.3,695.3 935.3,695.8 936.3,696.3 937.3,696.7 938.3,697.0 939.3,697.0 940.3,696.8 941.3,696.5 942.3,696.0 943.3,695.5 944.3,695.0 945.3,694.5 946.3,694.1 947.3,693.8 948.3,693.4 949.3,693.1 950.3,692.7 951.3,692.4 952.3,692.0 953.3,691.6 954.3,691.2 955.3,690.7 956.3,690.2 957.3,689.7 958.3,689.2 959.3,688.8 960.3,688.4 961.3,688.1 962.3,687.9 963.3,687.7 964.3,687.5 965.3,687.4 966.3,687.4 967.3,687.4 968.3,687.6 969.3,687.9 970.3,688.2 971.3,688.8 972.3,689.5 973.3,690.4 974.3,691.4 975.3,692.5 976.3,693.6 977.3,694.6 978.3,695.6 979.3,696.6 980.3,697.6 981.3,698.5 982.3,699.4 983.3,700.2 984.3,700.9 985.3,701.7 986.3,702.3 987.3,702.8 988.3,703.2 989.3,703.5 990.3,703.6 991.3,703.4 992.3,703.0 993.3,702.5 994.3,701.9 995.3,701.2 996.3,700.4 997.3,699.6 998.3,698.8 999.3,698.1 1000.3,697.5 1001.3,696.9 1002.3,696.5 1003.3,696.0 1004.3,695.5 1005.3,695.0 1006.3,694.4 1007.3,693.7 1008.3,693.0 1009.3,692.3 1010.3,691.4 1011.3,690.2 1012.3,688.8 1013.3,687.2 1014.3,685.4 1015.3,683.4 1016.3,681.2 1017.3,678.9 1018.3,676.5 1019.3,674.0 1020.3,671.6 1021.3,669.1 1022.3,666.7 1023.3,664.4 1024.3,662.1 1025.3,659.9 1026.3,657.9 1027.3,655.9 1028.3,653.9 1029.3,651.8 1030.3,649.8 1031.3,647.8 1032.3,645.9 1033.3,644.1 1034.3,642.4 1035.3,640.8 1036.3,639.4 1037.3,638.0 1038.3,636.8 1039.3,635.7 1040.3,634.6 1041.3,633.7 1042.3,632.9 1043.3,632.2 1044.3,631.6 1045.3,631.1 1046.3,630.7 1047.3,630.5 1048.3,630.4 1049.3,630.5 1050.3,630.6 1051.3,630.7 1052.3,630.8 1053.3,631.0 1054.3,631.2 1055.3,631.5 1056.3,632.0 1057.3,632.5 1058.3,633.1 1059.3,633.7 1060.3,634.5 1061.3,635.3 1062.3,636.1 1063.3,637.1 1064.3,638.1 1065.3,639.3 1066.3,640.6 1067.3,641.8 1068.3,642.9 1069.3,643.9 1070.3,644.9 1071.3,645.7 1072.3,646.4 1073.3,646.9 1074.3,647.3 1075.3,647.5 1076.3,647.6 1077.3,647.8 1078.3,647.9 1079.3,648.1 1080.3,648.2 1081.3,648.4 1082.3,648.7 1083.3,649.0 1084.3,649.8 1085.3,650.9 1086.3,652.4 1087.3,654.2 1088.3,656.3 1089.3,658.6 1090.3,661.1 1091.3,663.8 1092.3,666.7 1093.3,669.8 1094.3,673.0 1095.3,676.1 1096.3,679.2 1097.3,682.1 1098.3,684.9 1099.3,687.5 1100.3,690.0 1101.3,692.3 1102.3,694.4 1103.3,696.3 1104.3,698.1 1105.3,699.6 1106.3,701.0 1107.3,702.1 1108.3,703.1 1109.3,703.8 1110.3,704.3 1111.3,704.7 1112.3,705.0 1113.3,705.2 1114.3,705.4 1115.3,705.5 1116.3,705.5 1117.3,705.5 1118.3,705.5 1119.3,705.4 1120.3,705.4 1121.3,705.3 1122.3,705.3 1123.3,705.2 1124.3,705.0 1125.3,704.6 1126.3,704.2 1127.3,703.8 1128.3,703.2 1129.3,702.6 1130.3,702.0 1131.3,701.3 1132.3,700.5 1133.3,699.7 1134.3,698.9 1135.3,698.0 1136.3,697.1 1137.3,696.3 1138.3,695.5 1139.3,694.7 1140.3,694.0 1141.3,693.2 1142.3,692.4 1143.3,691.6 1144.3,690.8 1145.3,689.9 1146.3,689.0 1147.3,688.0 1148.3,687.1 1149.3,686.2 1150.3,685.4 1151.3,684.7 1152.3,684.1 1153.3,683.6 1154.3,683.2 1155.3,682.9 1156.3,682.7 1157.3,682.5 1158.3,682.5 1159.3,682.5" fill="none" stroke="#000" stroke-width="1" stroke-linejoin="round" stroke-dasharray="1.2 1.5"/>
<polyline points="6.3,647.8 10.1,645.8 12.1,641.6 14.6,630.2 18.9,624.0 23.9,614.7 30.2,609.6 36.5,607.1 41.5,608.9 46.5,610.6 50.3,613.9 55.3,615.7 61.6,618.9 66.6,623.2 71.6,626.5 76.7,627.2 83.0,634.0 88.0,642.8 93.0,650.9 98.5,657.4 104.3,658.4 110.6,659.2 115.6,662.9 121.9,665.9 128.2,667.5 133.2,667.5 138.3,671.7 142.0,674.2 147.1,675.5 150.8,677.5 157.1,678.5 164.7,679.3 167.2,686.8 170.9,690.6 176.0,691.8 179.7,691.8 183.0,688.1 185.5,681.8 189.8,675.5 193.6,670.5 197.3,669.2 201.1,662.9 204.9,659.2 208.6,657.9 212.4,656.6 217.4,652.4 221.2,650.4 227.5,649.9 232.5,644.8 237.6,642.8 242.6,642.8 247.6,642.3 252.6,644.1 256.4,646.6 262.7,651.6 267.7,653.4 274.0,656.6 280.3,656.6 285.3,655.9 290.3,653.4 295.4,652.4 301.7,650.4 306.7,651.6 311.7,650.9 316.7,650.9 321.8,645.3 325.5,642.3 329.3,640.8 333.8,642.3 338.1,646.6 343.1,651.6 348.2,658.4 350.0,662.9 353.8,670.5 358.8,672.5 365.1,671.7 370.1,673.5 375.1,668.0 378.9,664.9 382.7,669.2 387.7,678.5 394.7,678.5 397.8,669.2 401.5,660.4 406.6,651.6 410.3,646.6 414.9,645.8 420.4,649.9 427.9,652.9 436.7,652.9 444.3,654.9 450.6,652.4 455.6,647.8 459.4,645.8 464.4,647.8 468.1,647.8 473.2,642.8 479.5,636.0 485.7,636.0 490.8,640.3 497.1,646.6 503.3,649.1 509.6,655.4 514.7,660.9 520.9,664.9 529.7,664.9 537.3,666.7 543.6,665.4 548.6,664.9 553.6,670.5 558.6,676.8 564.9,682.5 570.0,685.6 577.5,685.6 583.8,683.0 588.8,680.0 593.8,678.0 598.9,678.0 603.9,680.5 608.9,681.8 614.0,685.6 620.2,687.6 624.0,686.8 626.5,688.6 631.5,686.8 635.3,686.8 639.1,690.6 644.1,695.1 650.4,696.9 654.2,693.1 659.2,686.8 663.0,685.1 666.7,686.1 671.8,685.6 676.8,681.8 681.3,676.0 684.8,676.0 688.1,681.8 691.4,690.6 695.7,691.8 699.4,689.3 700.0,688.1 703.8,679.3 707.5,673.0 715.1,672.5 720.1,664.2 725.1,659.2 730.2,656.6 735.2,656.1 740.2,657.9 745.2,659.2 749.0,664.2 754.0,668.5 760.3,668.5 765.4,661.7 769.1,651.6 772.9,645.3 776.7,644.1 779.2,639.0 784.2,642.3 788.0,640.8 793.0,635.3 796.8,633.3 799.3,630.2 804.3,629.7 809.4,634.0 815.6,635.3 820.7,637.8 825.7,642.8 830.7,645.8 837.0,646.6 842.0,648.3 847.1,650.9 852.1,656.6 857.1,662.9 862.1,669.2 867.2,678.0 870.9,688.1 876.0,696.9 881.0,701.9 886.0,701.9 889.8,700.1 894.8,700.6 901.1,700.6 904.9,698.1 908.6,693.1 914.9,690.1 920.0,691.1 925.0,693.1 930.0,697.6 932.5,696.9 936.8,701.9 940.1,695.6 942.6,690.6 947.6,690.1 951.4,689.3 957.7,684.3 962.7,685.6 966.5,686.8 970.2,691.8 975.3,703.1 980.3,706.9 985.3,708.7 989.1,706.9 992.9,698.1 997.9,690.6 1000.0,691.8 1003.5,691.8 1009.6,684.8 1013.1,672.5 1016.6,658.5 1020.1,648.0 1023.6,641.0 1028.0,635.8 1029.8,630.5 1033.3,626.5 1037.6,624.9 1042.0,624.9 1045.5,626.1 1049.0,630.9 1054.3,633.1 1058.6,639.3 1063.0,645.4 1066.5,653.6 1071.8,653.6 1076.1,648.9 1079.6,649.4 1083.2,651.5 1084.9,660.3 1087.5,672.5 1090.2,684.8 1092.8,697.0 1094.5,704.9 1097.2,710.2 1100.7,714.5 1105.0,714.9 1107.7,712.8 1111.2,708.4 1114.7,706.7 1119.0,704.9 1122.5,704.9 1126.9,699.7 1131.3,694.4 1135.7,689.2 1140.0,686.9 1143.5,683.9 1147.0,678.7 1149.7,677.4 1153.2,678.7 1156.7,680.9 1159.6,682.7" fill="none" stroke="#ff0000" stroke-width="2" stroke-linejoin="round"/>
<g shape-rendering="auto" stroke="#0066cc" stroke-width="2.4" stroke-linecap="butt">
<line x1="647.9" y1="699.4" x2="723.9" y2="688.6"/>
<line x1="795.5" y1="623.5" x2="883.5" y2="666"/>
<line x1="1020.7" y1="611.6" x2="1108.5" y2="652.9"/>
</g>
<rect x="6" y="797" width="1" height="40" fill="#0000ff"/>
<rect x="8" y="769" width="1" height="68" fill="#0000ff"/>
<rect x="11" y="742" width="1" height="95" fill="#0000ff"/>
<rect x="13" y="742" width="1" height="95" fill="#0000ff"/>
<rect x="15" y="804" width="1" height="33" fill="#0000ff"/>
<rect x="17" y="804" width="1" height="33" fill="#0000ff"/>
<rect x="20" y="809" width="1" height="28" fill="#0000ff"/>
<rect x="22" y="784" width="1" height="53" fill="#0000ff"/>
<rect x="24" y="805" width="1" height="32" fill="#0000ff"/>
<rect x="26" y="816" width="1" height="21" fill="#0000ff"/>
<rect x="29" y="808" width="1" height="29" fill="#0000ff"/>
<rect x="31" y="807" width="1" height="30" fill="#0000ff"/>
<rect x="33" y="804" width="1" height="33" fill="#0000ff"/>
<rect x="35" y="811" width="1" height="26" fill="#0000ff"/>
<rect x="38" y="793" width="1" height="44" fill="#0000ff"/>
<rect x="40" y="813" width="1" height="24" fill="#0000ff"/>
<rect x="42" y="819" width="1" height="18" fill="#0000ff"/>
<rect x="44" y="821" width="1" height="16" fill="#0000ff"/>
<rect x="47" y="820" width="1" height="17" fill="#0000ff"/>
<rect x="49" y="818" width="1" height="19" fill="#0000ff"/>
<rect x="51" y="819" width="1" height="18" fill="#0000ff"/>
<rect x="53" y="822" width="1" height="15" fill="#0000ff"/>
<rect x="56" y="819" width="1" height="18" fill="#0000ff"/>
<rect x="58" y="826" width="1" height="11" fill="#0000ff"/>
<rect x="60" y="821" width="1" height="16" fill="#0000ff"/>
<rect x="62" y="815" width="1" height="22" fill="#0000ff"/>
<rect x="65" y="820" width="1" height="17" fill="#0000ff"/>
<rect x="67" y="821" width="1" height="16" fill="#0000ff"/>
<rect x="69" y="820" width="1" height="17" fill="#0000ff"/>
<rect x="71" y="805" width="1" height="32" fill="#0000ff"/>
<rect x="74" y="804" width="1" height="33" fill="#0000ff"/>
<rect x="76" y="804" width="1" height="33" fill="#0000ff"/>
<rect x="78" y="812" width="1" height="25" fill="#0000ff"/>
<rect x="80" y="804" width="1" height="33" fill="#0000ff"/>
<rect x="83" y="797" width="1" height="40" fill="#0000ff"/>
<rect x="85" y="785" width="1" height="52" fill="#0000ff"/>
<rect x="87" y="742" width="1" height="95" fill="#0000ff"/>
<rect x="89" y="775" width="1" height="62" fill="#0000ff"/>
<rect x="92" y="812" width="1" height="25" fill="#0000ff"/>
<rect x="94" y="814" width="1" height="23" fill="#0000ff"/>
<rect x="96" y="818" width="1" height="19" fill="#0000ff"/>
<rect x="98" y="816" width="1" height="21" fill="#0000ff"/>
<rect x="101" y="822" width="1" height="15" fill="#0000ff"/>
<rect x="103" y="820" width="1" height="17" fill="#0000ff"/>
<rect x="105" y="824" width="1" height="13" fill="#0000ff"/>
<rect x="107" y="822" width="1" height="15" fill="#0000ff"/>
<rect x="110" y="826" width="1" height="11" fill="#0000ff"/>
<rect x="112" y="817" width="1" height="20" fill="#0000ff"/>
<rect x="114" y="827" width="1" height="10" fill="#0000ff"/>
<rect x="116" y="825" width="1" height="12" fill="#0000ff"/>
<rect x="119" y="829" width="1" height="8" fill="#0000ff"/>
<rect x="121" y="827" width="1" height="10" fill="#0000ff"/>
<rect x="123" y="826" width="1" height="11" fill="#0000ff"/>
<rect x="125" y="830" width="1" height="7" fill="#0000ff"/>
<rect x="128" y="831" width="1" height="6" fill="#0000ff"/>
<rect x="130" y="831" width="1" height="6" fill="#0000ff"/>
<rect x="132" y="831" width="1" height="6" fill="#0000ff"/>
<rect x="134" y="830" width="1" height="7" fill="#0000ff"/>
<rect x="137" y="826" width="1" height="11" fill="#0000ff"/>
<rect x="139" y="821" width="1" height="16" fill="#0000ff"/>
<rect x="141" y="823" width="1" height="14" fill="#0000ff"/>
<rect x="143" y="826" width="1" height="11" fill="#0000ff"/>
<rect x="146" y="829" width="1" height="8" fill="#0000ff"/>
<rect x="148" y="810" width="1" height="27" fill="#0000ff"/>
<rect x="150" y="816" width="1" height="21" fill="#0000ff"/>
<rect x="152" y="810" width="1" height="27" fill="#0000ff"/>
<rect x="155" y="813" width="1" height="24" fill="#0000ff"/>
<rect x="157" y="811" width="1" height="26" fill="#0000ff"/>
<rect x="159" y="815" width="1" height="22" fill="#0000ff"/>
<rect x="161" y="798" width="1" height="39" fill="#0000ff"/>
<rect x="164" y="742" width="1" height="95" fill="#0000ff"/>
<rect x="166" y="771" width="1" height="66" fill="#0000ff"/>
<rect x="168" y="810" width="1" height="27" fill="#0000ff"/>
<rect x="170" y="813" width="1" height="24" fill="#0000ff"/>
<rect x="173" y="816" width="1" height="21" fill="#0000ff"/>
<rect x="175" y="813" width="1" height="24" fill="#0000ff"/>
<rect x="177" y="813" width="1" height="24" fill="#0000ff"/>
<rect x="179" y="826" width="1" height="11" fill="#0000ff"/>
<rect x="182" y="824" width="1" height="13" fill="#0000ff"/>
<rect x="184" y="816" width="1" height="21" fill="#0000ff"/>
<rect x="186" y="814" width="1" height="23" fill="#0000ff"/>
<rect x="188" y="816" width="1" height="21" fill="#0000ff"/>
<rect x="191" y="822" width="1" height="15" fill="#0000ff"/>
<rect x="193" y="821" width="1" height="16" fill="#0000ff"/>
<rect x="195" y="823" width="1" height="14" fill="#0000ff"/>
<rect x="197" y="821" width="1" height="16" fill="#0000ff"/>
<rect x="200" y="825" width="1" height="12" fill="#0000ff"/>
<rect x="202" y="826" width="1" height="11" fill="#0000ff"/>
<rect x="204" y="828" width="1" height="9" fill="#0000ff"/>
<rect x="206" y="827" width="1" height="10" fill="#0000ff"/>
<rect x="209" y="824" width="1" height="13" fill="#0000ff"/>
<rect x="211" y="829" width="1" height="8" fill="#0000ff"/>
<rect x="213" y="824" width="1" height="13" fill="#0000ff"/>
<rect x="215" y="824" width="1" height="13" fill="#0000ff"/>
<rect x="218" y="828" width="1" height="9" fill="#0000ff"/>
<rect x="220" y="829" width="1" height="8" fill="#0000ff"/>
<rect x="222" y="826" width="1" height="11" fill="#0000ff"/>
<rect x="224" y="809" width="1" height="28" fill="#0000ff"/>
<rect x="227" y="821" width="1" height="16" fill="#0000ff"/>
<rect x="229" y="809" width="1" height="28" fill="#0000ff"/>
<rect x="231" y="814" width="1" height="23" fill="#0000ff"/>
<rect x="233" y="811" width="1" height="26" fill="#0000ff"/>
<rect x="236" y="811" width="1" height="26" fill="#0000ff"/>
<rect x="238" y="809" width="1" height="28" fill="#0000ff"/>
<rect x="240" y="742" width="1" height="95" fill="#0000ff"/>
<rect x="242" y="781" width="1" height="56" fill="#0000ff"/>
<rect x="245" y="806" width="1" height="31" fill="#0000ff"/>
<rect x="247" y="803" width="1" height="34" fill="#0000ff"/>
<rect x="249" y="814" width="1" height="23" fill="#0000ff"/>
<rect x="251" y="821" width="1" height="16" fill="#0000ff"/>
<rect x="254" y="824" width="1" height="13" fill="#0000ff"/>
<rect x="256" y="822" width="1" height="15" fill="#0000ff"/>
<rect x="258" y="820" width="1" height="17" fill="#0000ff"/>
<rect x="260" y="822" width="1" height="15" fill="#0000ff"/>
<rect x="263" y="827" width="1" height="10" fill="#0000ff"/>
<rect x="265" y="832" width="1" height="5" fill="#0000ff"/>
<rect x="267" y="825" width="1" height="12" fill="#0000ff"/>
<rect x="269" y="829" width="1" height="8" fill="#0000ff"/>
<rect x="272" y="828" width="1" height="9" fill="#0000ff"/>
<rect x="274" y="831" width="1" height="6" fill="#0000ff"/>
<rect x="276" y="832" width="1" height="5" fill="#0000ff"/>
<rect x="278" y="829" width="1" height="8" fill="#0000ff"/>
<rect x="281" y="831" width="1" height="6" fill="#0000ff"/>
<rect x="283" y="829" width="1" height="8" fill="#0000ff"/>
<rect x="285" y="830" width="1" height="7" fill="#0000ff"/>
<rect x="287" y="826" width="1" height="11" fill="#0000ff"/>
<rect x="290" y="828" width="1" height="9" fill="#0000ff"/>
<rect x="292" y="827" width="1" height="10" fill="#0000ff"/>
<rect x="294" y="828" width="1" height="9" fill="#0000ff"/>
<rect x="296" y="826" width="1" height="11" fill="#0000ff"/>
<rect x="299" y="825" width="1" height="12" fill="#0000ff"/>
<rect x="301" y="815" width="1" height="22" fill="#0000ff"/>
<rect x="303" y="824" width="1" height="13" fill="#0000ff"/>
<rect x="305" y="815" width="1" height="22" fill="#0000ff"/>
<rect x="308" y="824" width="1" height="13" fill="#0000ff"/>
<rect x="310" y="802" width="1" height="35" fill="#0000ff"/>
<rect x="312" y="815" width="1" height="22" fill="#0000ff"/>
<rect x="314" y="810" width="1" height="27" fill="#0000ff"/>
<rect x="317" y="742" width="1" height="95" fill="#0000ff"/>
<rect x="319" y="742" width="1" height="95" fill="#0000ff"/>
<rect x="321" y="805" width="1" height="32" fill="#0000ff"/>
<rect x="323" y="800" width="1" height="37" fill="#0000ff"/>
<rect x="326" y="799" width="1" height="38" fill="#0000ff"/>
<rect x="328" y="801" width="1" height="36" fill="#0000ff"/>
<rect x="330" y="817" width="1" height="20" fill="#0000ff"/>
<rect x="332" y="818" width="1" height="19" fill="#0000ff"/>
<rect x="335" y="809" width="1" height="28" fill="#0000ff"/>
<rect x="337" y="808" width="1" height="29" fill="#0000ff"/>
<rect x="339" y="811" width="1" height="26" fill="#0000ff"/>
<rect x="341" y="807" width="1" height="30" fill="#0000ff"/>
<rect x="344" y="821" width="1" height="16" fill="#0000ff"/>
<rect x="346" y="797" width="1" height="40" fill="#0000ff"/>
<rect x="348" y="811" width="1" height="26" fill="#0000ff"/>
<rect x="350" y="798" width="1" height="39" fill="#0000ff"/>
<rect x="353" y="799" width="1" height="38" fill="#0000ff"/>
<rect x="355" y="821" width="1" height="16" fill="#0000ff"/>
<rect x="357" y="817" width="1" height="20" fill="#0000ff"/>
<rect x="359" y="816" width="1" height="21" fill="#0000ff"/>
<rect x="362" y="825" width="1" height="12" fill="#0000ff"/>
<rect x="364" y="826" width="1" height="11" fill="#0000ff"/>
<rect x="366" y="832" width="1" height="5" fill="#0000ff"/>
<rect x="368" y="817" width="1" height="20" fill="#0000ff"/>
<rect x="371" y="825" width="1" height="12" fill="#0000ff"/>
<rect x="373" y="805" width="1" height="32" fill="#0000ff"/>
<rect x="375" y="794" width="1" height="43" fill="#0000ff"/>
<rect x="377" y="799" width="1" height="38" fill="#0000ff"/>
<rect x="380" y="813" width="1" height="24" fill="#0000ff"/>
<rect x="382" y="811" width="1" height="26" fill="#0000ff"/>
<rect x="384" y="784" width="1" height="53" fill="#0000ff"/>
<rect x="386" y="782" width="1" height="55" fill="#0000ff"/>
<rect x="389" y="796" width="1" height="41" fill="#0000ff"/>
<rect x="391" y="795" width="1" height="42" fill="#0000ff"/>
<rect x="393" y="742" width="1" height="95" fill="#0000ff"/>
<rect x="395" y="759" width="1" height="78" fill="#0000ff"/>
<rect x="398" y="781" width="1" height="56" fill="#0000ff"/>
<rect x="400" y="790" width="1" height="47" fill="#0000ff"/>
<rect x="402" y="796" width="1" height="41" fill="#0000ff"/>
<rect x="404" y="810" width="1" height="27" fill="#0000ff"/>
<rect x="407" y="795" width="1" height="42" fill="#0000ff"/>
<rect x="409" y="791" width="1" height="46" fill="#0000ff"/>
<rect x="411" y="797" width="1" height="40" fill="#0000ff"/>
<rect x="413" y="807" width="1" height="30" fill="#0000ff"/>
<rect x="416" y="805" width="1" height="32" fill="#0000ff"/>
<rect x="418" y="810" width="1" height="27" fill="#0000ff"/>
<rect x="420" y="809" width="1" height="28" fill="#0000ff"/>
<rect x="422" y="814" width="1" height="23" fill="#0000ff"/>
<rect x="425" y="812" width="1" height="25" fill="#0000ff"/>
<rect x="427" y="821" width="1" height="16" fill="#0000ff"/>
<rect x="429" y="813" width="1" height="24" fill="#0000ff"/>
<rect x="431" y="821" width="1" height="16" fill="#0000ff"/>
<rect x="434" y="821" width="1" height="16" fill="#0000ff"/>
<rect x="436" y="822" width="1" height="15" fill="#0000ff"/>
<rect x="438" y="827" width="1" height="10" fill="#0000ff"/>
<rect x="440" y="823" width="1" height="14" fill="#0000ff"/>
<rect x="443" y="823" width="1" height="14" fill="#0000ff"/>
<rect x="445" y="826" width="1" height="11" fill="#0000ff"/>
<rect x="447" y="812" width="1" height="25" fill="#0000ff"/>
<rect x="449" y="818" width="1" height="19" fill="#0000ff"/>
<rect x="452" y="815" width="1" height="22" fill="#0000ff"/>
<rect x="454" y="795" width="1" height="42" fill="#0000ff"/>
<rect x="456" y="799" width="1" height="38" fill="#0000ff"/>
<rect x="458" y="799" width="1" height="38" fill="#0000ff"/>
<rect x="461" y="805" width="1" height="32" fill="#0000ff"/>
<rect x="463" y="804" width="1" height="33" fill="#0000ff"/>
<rect x="465" y="810" width="1" height="27" fill="#0000ff"/>
<rect x="467" y="799" width="1" height="38" fill="#0000ff"/>
<rect x="470" y="742" width="1" height="95" fill="#0000ff"/>
<rect x="472" y="742" width="1" height="95" fill="#0000ff"/>
<rect x="474" y="779" width="1" height="58" fill="#0000ff"/>
<rect x="476" y="789" width="1" height="48" fill="#0000ff"/>
<rect x="479" y="799" width="1" height="38" fill="#0000ff"/>
<rect x="481" y="797" width="1" height="40" fill="#0000ff"/>
<rect x="483" y="810" width="1" height="27" fill="#0000ff"/>
<rect x="485" y="809" width="1" height="28" fill="#0000ff"/>
<rect x="488" y="803" width="1" height="34" fill="#0000ff"/>
<rect x="490" y="819" width="1" height="18" fill="#0000ff"/>
<rect x="492" y="812" width="1" height="25" fill="#0000ff"/>
<rect x="494" y="817" width="1" height="20" fill="#0000ff"/>
<rect x="497" y="827" width="1" height="10" fill="#0000ff"/>
<rect x="499" y="823" width="1" height="14" fill="#0000ff"/>
<rect x="501" y="828" width="1" height="9" fill="#0000ff"/>
<rect x="503" y="826" width="1" height="11" fill="#0000ff"/>
<rect x="506" y="813" width="1" height="24" fill="#0000ff"/>
<rect x="508" y="816" width="1" height="21" fill="#0000ff"/>
<rect x="510" y="828" width="1" height="9" fill="#0000ff"/>
<rect x="512" y="828" width="1" height="9" fill="#0000ff"/>
<rect x="515" y="825" width="1" height="12" fill="#0000ff"/>
<rect x="517" y="829" width="1" height="8" fill="#0000ff"/>
<rect x="519" y="820" width="1" height="17" fill="#0000ff"/>
<rect x="521" y="825" width="1" height="12" fill="#0000ff"/>
<rect x="524" y="824" width="1" height="13" fill="#0000ff"/>
<rect x="526" y="824" width="1" height="13" fill="#0000ff"/>
<rect x="528" y="825" width="1" height="12" fill="#0000ff"/>
<rect x="530" y="819" width="1" height="18" fill="#0000ff"/>
<rect x="533" y="804" width="1" height="33" fill="#0000ff"/>
<rect x="535" y="810" width="1" height="27" fill="#0000ff"/>
<rect x="537" y="817" width="1" height="20" fill="#0000ff"/>
<rect x="539" y="809" width="1" height="28" fill="#0000ff"/>
<rect x="542" y="807" width="1" height="30" fill="#0000ff"/>
<rect x="544" y="803" width="1" height="34" fill="#0000ff"/>
<rect x="546" y="742" width="1" height="95" fill="#0000ff"/>
<rect x="548" y="799" width="1" height="38" fill="#0000ff"/>
<rect x="551" y="793" width="1" height="44" fill="#0000ff"/>
<rect x="553" y="805" width="1" height="32" fill="#0000ff"/>
<rect x="555" y="811" width="1" height="26" fill="#0000ff"/>
<rect x="557" y="815" width="1" height="22" fill="#0000ff"/>
<rect x="560" y="813" width="1" height="24" fill="#0000ff"/>
<rect x="562" y="806" width="1" height="31" fill="#0000ff"/>
<rect x="564" y="797" width="1" height="40" fill="#0000ff"/>
<rect x="566" y="809" width="1" height="28" fill="#0000ff"/>
<rect x="569" y="813" width="1" height="24" fill="#0000ff"/>
<rect x="571" y="818" width="1" height="19" fill="#0000ff"/>
<rect x="573" y="819" width="1" height="18" fill="#0000ff"/>
<rect x="575" y="821" width="1" height="16" fill="#0000ff"/>
<rect x="578" y="820" width="1" height="17" fill="#0000ff"/>
<rect x="580" y="822" width="1" height="15" fill="#0000ff"/>
<rect x="582" y="814" width="1" height="23" fill="#0000ff"/>
<rect x="584" y="819" width="1" height="18" fill="#0000ff"/>
<rect x="587" y="823" width="1" height="14" fill="#0000ff"/>
<rect x="589" y="824" width="1" height="13" fill="#0000ff"/>
<rect x="591" y="825" width="1" height="12" fill="#0000ff"/>
<rect x="593" y="822" width="1" height="15" fill="#0000ff"/>
<rect x="596" y="814" width="1" height="23" fill="#0000ff"/>
<rect x="598" y="817" width="1" height="20" fill="#0000ff"/>
<rect x="600" y="814" width="1" height="23" fill="#0000ff"/>
<rect x="602" y="816" width="1" height="21" fill="#0000ff"/>
<rect x="605" y="817" width="1" height="20" fill="#0000ff"/>
<rect x="607" y="799" width="1" height="38" fill="#0000ff"/>
<rect x="609" y="796" width="1" height="41" fill="#0000ff"/>
<rect x="611" y="804" width="1" height="33" fill="#0000ff"/>
<rect x="614" y="789" width="1" height="48" fill="#0000ff"/>
<rect x="616" y="795" width="1" height="42" fill="#0000ff"/>
<rect x="618" y="799" width="1" height="38" fill="#0000ff"/>
<rect x="620" y="787" width="1" height="50" fill="#0000ff"/>
<rect x="623" y="742" width="1" height="95" fill="#0000ff"/>
<rect x="625" y="761" width="1" height="76" fill="#0000ff"/>
<rect x="627" y="802" width="1" height="35" fill="#0000ff"/>
<rect x="629" y="807" width="1" height="30" fill="#0000ff"/>
<rect x="632" y="821" width="1" height="16" fill="#0000ff"/>
<rect x="634" y="818" width="1" height="19" fill="#0000ff"/>
<rect x="636" y="800" width="1" height="37" fill="#0000ff"/>
<rect x="638" y="805" width="1" height="32" fill="#0000ff"/>
<rect x="641" y="816" width="1" height="21" fill="#0000ff"/>
<rect x="643" y="801" width="1" height="36" fill="#0000ff"/>
<rect x="645" y="798" width="1" height="39" fill="#0000ff"/>
<rect x="647" y="812" width="1" height="25" fill="#0000ff"/>
<rect x="650" y="815" width="1" height="22" fill="#0000ff"/>
<rect x="652" y="810" width="1" height="27" fill="#0000ff"/>
<rect x="654" y="815" width="1" height="22" fill="#0000ff"/>
<rect x="656" y="821" width="1" height="16" fill="#0000ff"/>
<rect x="659" y="822" width="1" height="15" fill="#0000ff"/>
<rect x="661" y="816" width="1" height="21" fill="#0000ff"/>
<rect x="663" y="815" width="1" height="22" fill="#0000ff"/>
<rect x="665" y="815" width="1" height="22" fill="#0000ff"/>
<rect x="668" y="830" width="1" height="7" fill="#0000ff"/>
<rect x="670" y="826" width="1" height="11" fill="#0000ff"/>
<rect x="672" y="819" width="1" height="18" fill="#0000ff"/>
<rect x="674" y="825" width="1" height="12" fill="#0000ff"/>
<rect x="677" y="819" width="1" height="18" fill="#0000ff"/>
<rect x="679" y="821" width="1" height="16" fill="#0000ff"/>
<rect x="681" y="814" width="1" height="23" fill="#0000ff"/>
<rect x="683" y="807" width="1" height="30" fill="#0000ff"/>
<rect x="686" y="797" width="1" height="40" fill="#0000ff"/>
<rect x="688" y="757" width="1" height="80" fill="#0000ff"/>
<rect x="690" y="771" width="1" height="66" fill="#0000ff"/>
<rect x="692" y="760" width="1" height="77" fill="#0000ff"/>
<rect x="695" y="780" width="1" height="57" fill="#0000ff"/>
<rect x="697" y="772" width="1" height="65" fill="#0000ff"/>
<rect x="699" y="742" width="1" height="95" fill="#0000ff"/>
<rect x="701" y="742" width="1" height="95" fill="#0000ff"/>
<rect x="704" y="785" width="1" height="52" fill="#0000ff"/>
<rect x="706" y="803" width="1" height="34" fill="#0000ff"/>
<rect x="708" y="807" width="1" height="30" fill="#0000ff"/>
<rect x="710" y="797" width="1" height="40" fill="#0000ff"/>
<rect x="713" y="804" width="1" height="33" fill="#0000ff"/>
<rect x="715" y="810" width="1" height="27" fill="#0000ff"/>
<rect x="717" y="810" width="1" height="27" fill="#0000ff"/>
<rect x="719" y="810" width="1" height="27" fill="#0000ff"/>
<rect x="722" y="810" width="1" height="27" fill="#0000ff"/>
<rect x="724" y="820" width="1" height="17" fill="#0000ff"/>
<rect x="726" y="819" width="1" height="18" fill="#0000ff"/>
<rect x="728" y="818" width="1" height="19" fill="#0000ff"/>
<rect x="731" y="821" width="1" height="16" fill="#0000ff"/>
<rect x="733" y="819" width="1" height="18" fill="#0000ff"/>
<rect x="735" y="821" width="1" height="16" fill="#0000ff"/>
<rect x="737" y="818" width="1" height="19" fill="#0000ff"/>
<rect x="740" y="823" width="1" height="14" fill="#0000ff"/>
<rect x="742" y="823" width="1" height="14" fill="#0000ff"/>
<rect x="744" y="830" width="1" height="7" fill="#0000ff"/>
<rect x="746" y="819" width="1" height="18" fill="#0000ff"/>
<rect x="749" y="818" width="1" height="19" fill="#0000ff"/>
<rect x="751" y="822" width="1" height="15" fill="#0000ff"/>
<rect x="753" y="817" width="1" height="20" fill="#0000ff"/>
<rect x="755" y="818" width="1" height="19" fill="#0000ff"/>
<rect x="758" y="815" width="1" height="22" fill="#0000ff"/>
<rect x="760" y="803" width="1" height="34" fill="#0000ff"/>
<rect x="762" y="803" width="1" height="34" fill="#0000ff"/>
<rect x="764" y="777" width="1" height="60" fill="#0000ff"/>
<rect x="767" y="777" width="1" height="60" fill="#0000ff"/>
<rect x="769" y="775" width="1" height="62" fill="#0000ff"/>
<rect x="771" y="782" width="1" height="55" fill="#0000ff"/>
<rect x="773" y="783" width="1" height="54" fill="#0000ff"/>
<rect x="776" y="779" width="1" height="58" fill="#0000ff"/>
<rect x="778" y="742" width="1" height="95" fill="#0000ff"/>
<rect x="780" y="767" width="1" height="70" fill="#0000ff"/>
<rect x="782" y="765" width="1" height="72" fill="#0000ff"/>
<rect x="785" y="785" width="1" height="52" fill="#0000ff"/>
<rect x="787" y="806" width="1" height="31" fill="#0000ff"/>
<rect x="789" y="804" width="1" height="33" fill="#0000ff"/>
<rect x="791" y="799" width="1" height="38" fill="#0000ff"/>
<rect x="794" y="806" width="1" height="31" fill="#0000ff"/>
<rect x="796" y="809" width="1" height="28" fill="#0000ff"/>
<rect x="798" y="797" width="1" height="40" fill="#0000ff"/>
<rect x="800" y="805" width="1" height="32" fill="#0000ff"/>
<rect x="803" y="806" width="1" height="31" fill="#0000ff"/>
<rect x="805" y="803" width="1" height="34" fill="#0000ff"/>
<rect x="807" y="805" width="1" height="32" fill="#0000ff"/>
<rect x="809" y="810" width="1" height="27" fill="#0000ff"/>
<rect x="812" y="815" width="1" height="22" fill="#0000ff"/>
<rect x="814" y="811" width="1" height="26" fill="#0000ff"/>
<rect x="816" y="814" width="1" height="23" fill="#0000ff"/>
<rect x="818" y="812" width="1" height="25" fill="#0000ff"/>
<rect x="821" y="812" width="1" height="25" fill="#0000ff"/>
<rect x="823" y="806" width="1" height="31" fill="#0000ff"/>
<rect x="825" y="809" width="1" height="28" fill="#0000ff"/>
<rect x="827" y="815" width="1" height="22" fill="#0000ff"/>
<rect x="830" y="781" width="1" height="56" fill="#0000ff"/>
<rect x="832" y="817" width="1" height="20" fill="#0000ff"/>
<rect x="834" y="812" width="1" height="25" fill="#0000ff"/>
<rect x="836" y="812" width="1" height="25" fill="#0000ff"/>
<rect x="839" y="808" width="1" height="29" fill="#0000ff"/>
<rect x="841" y="808" width="1" height="29" fill="#0000ff"/>
<rect x="843" y="802" width="1" height="35" fill="#0000ff"/>
<rect x="845" y="802" width="1" height="35" fill="#0000ff"/>
<rect x="848" y="797" width="1" height="40" fill="#0000ff"/>
<rect x="850" y="786" width="1" height="51" fill="#0000ff"/>
<rect x="852" y="742" width="1" height="95" fill="#0000ff"/>
<rect x="854" y="780" width="1" height="57" fill="#0000ff"/>
<rect x="857" y="812" width="1" height="25" fill="#0000ff"/>
<rect x="859" y="810" width="1" height="27" fill="#0000ff"/>
<rect x="861" y="817" width="1" height="20" fill="#0000ff"/>
<rect x="863" y="802" width="1" height="35" fill="#0000ff"/>
<rect x="866" y="805" width="1" height="32" fill="#0000ff"/>
<rect x="868" y="793" width="1" height="44" fill="#0000ff"/>
<rect x="870" y="799" width="1" height="38" fill="#0000ff"/>
<rect x="872" y="806" width="1" height="31" fill="#0000ff"/>
<rect x="875" y="806" width="1" height="31" fill="#0000ff"/>
<rect x="877" y="805" width="1" height="32" fill="#0000ff"/>
<rect x="879" y="815" width="1" height="22" fill="#0000ff"/>
<rect x="881" y="818" width="1" height="19" fill="#0000ff"/>
<rect x="884" y="816" width="1" height="21" fill="#0000ff"/>
<rect x="886" y="819" width="1" height="18" fill="#0000ff"/>
<rect x="888" y="823" width="1" height="14" fill="#0000ff"/>
<rect x="890" y="820" width="1" height="17" fill="#0000ff"/>
<rect x="893" y="817" width="1" height="20" fill="#0000ff"/>
<rect x="895" y="811" width="1" height="26" fill="#0000ff"/>
<rect x="897" y="815" width="1" height="22" fill="#0000ff"/>
<rect x="899" y="815" width="1" height="22" fill="#0000ff"/>
<rect x="902" y="808" width="1" height="29" fill="#0000ff"/>
<rect x="904" y="821" width="1" height="16" fill="#0000ff"/>
<rect x="906" y="818" width="1" height="19" fill="#0000ff"/>
<rect x="908" y="817" width="1" height="20" fill="#0000ff"/>
<rect x="911" y="808" width="1" height="29" fill="#0000ff"/>
<rect x="913" y="808" width="1" height="29" fill="#0000ff"/>
<rect x="915" y="809" width="1" height="28" fill="#0000ff"/>
<rect x="917" y="801" width="1" height="36" fill="#0000ff"/>
<rect x="920" y="798" width="1" height="39" fill="#0000ff"/>
<rect x="922" y="798" width="1" height="39" fill="#0000ff"/>
<rect x="924" y="790" width="1" height="47" fill="#0000ff"/>
<rect x="926" y="776" width="1" height="61" fill="#0000ff"/>
<rect x="929" y="758" width="1" height="79" fill="#0000ff"/>
<rect x="931" y="742" width="1" height="95" fill="#0000ff"/>
<rect x="933" y="771" width="1" height="66" fill="#0000ff"/>
<rect x="935" y="781" width="1" height="56" fill="#0000ff"/>
<rect x="938" y="787" width="1" height="50" fill="#0000ff"/>
<rect x="940" y="788" width="1" height="49" fill="#0000ff"/>
<rect x="942" y="781" width="1" height="56" fill="#0000ff"/>
<rect x="944" y="791" width="1" height="46" fill="#0000ff"/>
<rect x="947" y="815" width="1" height="22" fill="#0000ff"/>
<rect x="949" y="810" width="1" height="27" fill="#0000ff"/>
<rect x="951" y="810" width="1" height="27" fill="#0000ff"/>
<rect x="953" y="810" width="1" height="27" fill="#0000ff"/>
<rect x="956" y="813" width="1" height="24" fill="#0000ff"/>
<rect x="958" y="812" width="1" height="25" fill="#0000ff"/>
<rect x="960" y="814" width="1" height="23" fill="#0000ff"/>
<rect x="962" y="792" width="1" height="45" fill="#0000ff"/>
<rect x="965" y="802" width="1" height="35" fill="#0000ff"/>
<rect x="967" y="797" width="1" height="40" fill="#0000ff"/>
<rect x="969" y="783" width="1" height="54" fill="#0000ff"/>
<rect x="971" y="794" width="1" height="43" fill="#0000ff"/>
<rect x="974" y="804" width="1" height="33" fill="#0000ff"/>
<rect x="976" y="816" width="1" height="21" fill="#0000ff"/>
<rect x="978" y="801" width="1" height="36" fill="#0000ff"/>
<rect x="980" y="794" width="1" height="43" fill="#0000ff"/>
<rect x="983" y="800" width="1" height="37" fill="#0000ff"/>
<rect x="985" y="807" width="1" height="30" fill="#0000ff"/>
<rect x="987" y="798" width="1" height="39" fill="#0000ff"/>
<rect x="989" y="797" width="1" height="40" fill="#0000ff"/>
<rect x="992" y="798" width="1" height="39" fill="#0000ff"/>
<rect x="994" y="795" width="1" height="42" fill="#0000ff"/>
<rect x="996" y="790" width="1" height="47" fill="#0000ff"/>
<rect x="998" y="777" width="1" height="60" fill="#0000ff"/>
<rect x="1001" y="771" width="1" height="66" fill="#0000ff"/>
<rect x="1003" y="765" width="1" height="72" fill="#0000ff"/>
<rect x="1005" y="742" width="1" height="95" fill="#0000ff"/>
<rect x="1007" y="742" width="1" height="95" fill="#0000ff"/>
<rect x="1010" y="780" width="1" height="57" fill="#0000ff"/>
<rect x="1012" y="780" width="1" height="57" fill="#0000ff"/>
<rect x="1014" y="783" width="1" height="54" fill="#0000ff"/>
<rect x="1016" y="791" width="1" height="46" fill="#0000ff"/>
<rect x="1019" y="795" width="1" height="42" fill="#0000ff"/>
<rect x="1021" y="797" width="1" height="40" fill="#0000ff"/>
<rect x="1023" y="775" width="1" height="62" fill="#0000ff"/>
<rect x="1025" y="794" width="1" height="43" fill="#0000ff"/>
<rect x="1028" y="804" width="1" height="33" fill="#0000ff"/>
<rect x="1030" y="804" width="1" height="33" fill="#0000ff"/>
<rect x="1032" y="798" width="1" height="39" fill="#0000ff"/>
<rect x="1034" y="807" width="1" height="30" fill="#0000ff"/>
<rect x="1037" y="811" width="1" height="26" fill="#0000ff"/>
<rect x="1039" y="807" width="1" height="30" fill="#0000ff"/>
<rect x="1041" y="809" width="1" height="28" fill="#0000ff"/>
<rect x="1043" y="812" width="1" height="25" fill="#0000ff"/>
<rect x="1046" y="816" width="1" height="21" fill="#0000ff"/>
<rect x="1048" y="823" width="1" height="14" fill="#0000ff"/>
<rect x="1050" y="822" width="1" height="15" fill="#0000ff"/>
<rect x="1052" y="825" width="1" height="12" fill="#0000ff"/>
<rect x="1055" y="827" width="1" height="10" fill="#0000ff"/>
<rect x="1057" y="786" width="1" height="51" fill="#0000ff"/>
<rect x="1059" y="811" width="1" height="26" fill="#0000ff"/>
<rect x="1061" y="812" width="1" height="25" fill="#0000ff"/>
<rect x="1064" y="817" width="1" height="20" fill="#0000ff"/>
<rect x="1066" y="817" width="1" height="20" fill="#0000ff"/>
<rect x="1068" y="801" width="1" height="36" fill="#0000ff"/>
<rect x="1070" y="806" width="1" height="31" fill="#0000ff"/>
<rect x="1073" y="805" width="1" height="32" fill="#0000ff"/>
<rect x="1075" y="801" width="1" height="36" fill="#0000ff"/>
<rect x="1077" y="781" width="1" height="56" fill="#0000ff"/>
<rect x="1079" y="793" width="1" height="44" fill="#0000ff"/>
<rect x="1082" y="798" width="1" height="39" fill="#0000ff"/>
<rect x="1084" y="742" width="1" height="95" fill="#0000ff"/>
<rect x="1086" y="758" width="1" height="79" fill="#0000ff"/>
<rect x="1088" y="745" width="1" height="92" fill="#0000ff"/>
<rect x="1091" y="765" width="1" height="72" fill="#0000ff"/>
<rect x="1093" y="780" width="1" height="57" fill="#0000ff"/>
<rect x="1095" y="788" width="1" height="49" fill="#0000ff"/>
<rect x="1097" y="775" width="1" height="62" fill="#0000ff"/>
<rect x="1100" y="789" width="1" height="48" fill="#0000ff"/>
<rect x="1102" y="805" width="1" height="32" fill="#0000ff"/>
<rect x="1104" y="797" width="1" height="40" fill="#0000ff"/>
<rect x="1106" y="807" width="1" height="30" fill="#0000ff"/>
<rect x="1109" y="805" width="1" height="32" fill="#0000ff"/>
<rect x="1111" y="802" width="1" height="35" fill="#0000ff"/>
<rect x="1113" y="799" width="1" height="38" fill="#0000ff"/>
<rect x="1115" y="805" width="1" height="32" fill="#0000ff"/>
<rect x="1118" y="813" width="1" height="24" fill="#0000ff"/>
<rect x="1120" y="796" width="1" height="41" fill="#0000ff"/>
<rect x="1122" y="801" width="1" height="36" fill="#0000ff"/>
<rect x="1124" y="809" width="1" height="28" fill="#0000ff"/>
<rect x="1127" y="813" width="1" height="24" fill="#0000ff"/>
<rect x="1129" y="814" width="1" height="23" fill="#0000ff"/>
<rect x="1131" y="820" width="1" height="17" fill="#0000ff"/>
<rect x="1133" y="818" width="1" height="19" fill="#0000ff"/>
<rect x="1136" y="815" width="1" height="22" fill="#0000ff"/>
<rect x="1138" y="815" width="1" height="22" fill="#0000ff"/>
<rect x="1140" y="813" width="1" height="24" fill="#0000ff"/>
<rect x="1142" y="809" width="1" height="28" fill="#0000ff"/>
<rect x="1145" y="789" width="1" height="48" fill="#0000ff"/>
<rect x="1147" y="788" width="1" height="49" fill="#0000ff"/>
<rect x="1149" y="788" width="1" height="49" fill="#0000ff"/>
<rect x="1151" y="791" width="1" height="46" fill="#0000ff"/>
<rect x="1154" y="804" width="1" height="33" fill="#0000ff"/>
<rect x="1156" y="776" width="1" height="61" fill="#0000ff"/>
<rect x="1158" y="778" width="1" height="59" fill="#0000ff"/>
<rect x="1160" y="742" width="1" height="95" fill="#0000ff"/>
<rect x="472" y="837" width="1" height="10" fill="#0000ff"/>
<rect x="1009" y="837" width="1" height="10" fill="#0000ff"/>
<text x="475.5" y="834" font-family="Liberation Sans, Arial, sans-serif" font-weight="bold" font-size="12" fill="#0000ff" textLength="43.5" lengthAdjust="spacingAndGlyphs">Feb-16</text>
<text x="474.7" y="855" font-family="Liberation Sans, Arial, sans-serif" font-weight="bold" font-size="12" fill="#0000ff" textLength="64.6" lengthAdjust="spacingAndGlyphs">01-Feb-16</text>
<text x="1011.4" y="855" font-family="Liberation Sans, Arial, sans-serif" font-weight="bold" font-size="12" fill="#0000ff" textLength="64.6" lengthAdjust="spacingAndGlyphs">10-Feb-16</text>
<text x="3.8" y="12" font-family="Liberation Sans, Arial, sans-serif" font-size="12.5" fill="#0000ff" textLength="26.4" lengthAdjust="spacingAndGlyphs">.IBEX</text>
<text x="34.2" y="12" font-family="Liberation Sans, Arial, sans-serif" font-size="12.5" fill="#0000ff" textLength="2.9" lengthAdjust="spacingAndGlyphs">-</text>
<text x="39.6" y="12" font-family="Liberation Sans, Arial, sans-serif" font-size="12.5" fill="#0000ff" textLength="23.3" lengthAdjust="spacingAndGlyphs">IBEX</text>
<text x="66.6" y="12" font-family="Liberation Sans, Arial, sans-serif" font-size="12.5" fill="#0000ff" textLength="12.0" lengthAdjust="spacingAndGlyphs">35</text>
<text x="81.7" y="12" font-family="Liberation Sans, Arial, sans-serif" font-size="12.5" fill="#0000ff" textLength="32.1" lengthAdjust="spacingAndGlyphs">INDEX</text>
<text x="117.5" y="12" font-family="Liberation Sans, Arial, sans-serif" font-size="12.5" fill="#0000ff" textLength="2.9" lengthAdjust="spacingAndGlyphs">-</text>
<text x="127" y="12" font-family="Liberation Sans, Arial, sans-serif" font-size="12.5" fill="#0000ff" textLength="10.0" lengthAdjust="spacingAndGlyphs">15</text>
<text x="141.4" y="12" font-family="Liberation Sans, Arial, sans-serif" font-size="12.5" fill="#0000ff" textLength="7.6" lengthAdjust="spacingAndGlyphs">m</text>
<text x="154.9" y="12" font-family="Liberation Sans, Arial, sans-serif" font-size="12.5" fill="#0000ff" textLength="13.5" lengthAdjust="spacingAndGlyphs">Dif.</text>
<text x="173.8" y="12" font-family="Liberation Sans, Arial, sans-serif" font-size="12.5" fill="#0000ff" textLength="8.8" lengthAdjust="spacingAndGlyphs">%:</text>
<text x="187.6" y="12" font-family="Liberation Sans, Arial, sans-serif" font-size="12.5" fill="#0000ff" textLength="23.6" lengthAdjust="spacingAndGlyphs">-4,88</text>
<text x="216.8" y="12" font-family="Liberation Sans, Arial, sans-serif" font-size="12.5" fill="#0000ff" textLength="17.6" lengthAdjust="spacingAndGlyphs">Dif.:</text>
<text x="238.9" y="12" font-family="Liberation Sans, Arial, sans-serif" font-size="12.5" fill="#0000ff" textLength="28.5" lengthAdjust="spacingAndGlyphs">-397,4</text>
<text x="273.7" y="12" font-family="Liberation Sans, Arial, sans-serif" font-size="12.5" fill="#0000ff" textLength="10.1" lengthAdjust="spacingAndGlyphs">M:</text>
<text x="288.8" y="12" font-family="Liberation Sans, Arial, sans-serif" font-size="12.5" fill="#0000ff" textLength="35.2" lengthAdjust="spacingAndGlyphs">8.047,3</text>
<text x="329.6" y="12" font-family="Liberation Sans, Arial, sans-serif" font-size="12.5" fill="#0000ff" textLength="8.2" lengthAdjust="spacingAndGlyphs">m:</text>
<text x="343.5" y="12" font-family="Liberation Sans, Arial, sans-serif" font-size="12.5" fill="#0000ff" textLength="35.7" lengthAdjust="spacingAndGlyphs">7.746,3</text>
<text x="384.7" y="12" font-family="Liberation Sans, Arial, sans-serif" font-size="12.5" fill="#0000ff" textLength="7.5" lengthAdjust="spacingAndGlyphs">F:</text>
<text x="397.2" y="12" font-family="Liberation Sans, Arial, sans-serif" font-size="12.5" fill="#0000ff" textLength="52.8" lengthAdjust="spacingAndGlyphs">11-02-2016</text>
<text x="455.7" y="12" font-family="Liberation Sans, Arial, sans-serif" font-size="12.5" fill="#ff0000" textLength="7.5" lengthAdjust="spacingAndGlyphs">P</text>
<text x="465.7" y="12" font-family="Liberation Sans, Arial, sans-serif" font-size="12.5" fill="#ff0000" textLength="1.5" lengthAdjust="spacingAndGlyphs">:</text>
<text x="471.4" y="12" font-family="Liberation Sans, Arial, sans-serif" font-size="12.5" fill="#ff0000" textLength="35.6" lengthAdjust="spacingAndGlyphs">8.547,4</text>
<text x="3.8" y="480" font-family="Liberation Sans, Arial, sans-serif" font-size="12.5" fill="#ff0000" textLength="82.9" lengthAdjust="spacingAndGlyphs">Stochastic_.IBEX</text>
<text x="91.8" y="480" font-family="Liberation Sans, Arial, sans-serif" font-size="12.5" fill="#ff0000" textLength="15.7" lengthAdjust="spacingAndGlyphs">SK:</text>
<text x="111.9" y="480" font-family="Liberation Sans, Arial, sans-serif" font-size="12.5" fill="#0000ff" textLength="32.0" lengthAdjust="spacingAndGlyphs">6,1817</text>
<text x="149.6" y="480" font-family="Liberation Sans, Arial, sans-serif" font-size="12.5" fill="#000000" textLength="17.0" lengthAdjust="spacingAndGlyphs">SD:</text>
<text x="171" y="480" font-family="Liberation Sans, Arial, sans-serif" font-size="12.5" fill="#0000ff" textLength="38.0" lengthAdjust="spacingAndGlyphs">14,4835</text>
<text x="214.7" y="480" font-family="Liberation Sans, Arial, sans-serif" font-size="12.5" fill="#0000ff" textLength="55.3" lengthAdjust="spacingAndGlyphs">UpperBand:</text>
<text x="275" y="480" font-family="Liberation Sans, Arial, sans-serif" font-size="12.5" fill="#0000ff" textLength="37.7" lengthAdjust="spacingAndGlyphs">80,0000</text>
<text x="318.8" y="480" font-family="Liberation Sans, Arial, sans-serif" font-size="12.5" fill="#0000ff" textLength="55.3" lengthAdjust="spacingAndGlyphs">LowerBand:</text>
<text x="378.9" y="480" font-family="Liberation Sans, Arial, sans-serif" font-size="12.5" fill="#0000ff" textLength="38.0" lengthAdjust="spacingAndGlyphs">20,0000</text>
<text x="422.5" y="480" font-family="Liberation Sans, Arial, sans-serif" font-size="12.5" fill="#ff0000" textLength="8.2" lengthAdjust="spacingAndGlyphs">P:</text>
<text x="435.7" y="480" font-family="Liberation Sans, Arial, sans-serif" font-size="12.5" fill="#ff0000" textLength="44.0" lengthAdjust="spacingAndGlyphs">465,1464</text>
<text x="3.8" y="597" font-family="Liberation Sans, Arial, sans-serif" font-size="12.5" fill="#ff0000" textLength="63.5" lengthAdjust="spacingAndGlyphs">MACD_.IBEX</text>
<text x="72.9" y="597" font-family="Liberation Sans, Arial, sans-serif" font-size="12.5" fill="#ff0000" textLength="32.7" lengthAdjust="spacingAndGlyphs">MACD:</text>
<text x="110" y="597" font-family="Liberation Sans, Arial, sans-serif" font-size="12.5" fill="#0000ff" textLength="40.2" lengthAdjust="spacingAndGlyphs">-37,0477</text>
<text x="156.9" y="597" font-family="Liberation Sans, Arial, sans-serif" font-size="12.5" fill="#000000" textLength="48.4" lengthAdjust="spacingAndGlyphs">MediaSIG:</text>
<text x="210.1" y="597" font-family="Liberation Sans, Arial, sans-serif" font-size="12.5" fill="#0000ff" textLength="40.5" lengthAdjust="spacingAndGlyphs">-36,0730</text>
<text x="256.9" y="597" font-family="Liberation Sans, Arial, sans-serif" font-size="12.5" fill="#0000ff" textLength="63.4" lengthAdjust="spacingAndGlyphs">Band_MACD:</text>
<text x="324.9" y="597" font-family="Liberation Sans, Arial, sans-serif" font-size="12.5" fill="#0000ff" textLength="31.7" lengthAdjust="spacingAndGlyphs">0,0000</text>
<text x="362.9" y="597" font-family="Liberation Sans, Arial, sans-serif" font-size="12.5" fill="#ff0000" textLength="8.1" lengthAdjust="spacingAndGlyphs">P:</text>
<text x="376" y="597" font-family="Liberation Sans, Arial, sans-serif" font-size="12.5" fill="#ff0000" textLength="44.0" lengthAdjust="spacingAndGlyphs">814,2500</text>
<text x="3.1" y="739" font-family="Liberation Sans, Arial, sans-serif" font-size="12.5" fill="#0000ff" textLength="48.2" lengthAdjust="spacingAndGlyphs">Vol_.IBEX</text>
<text x="55.9" y="739" font-family="Liberation Sans, Arial, sans-serif" font-size="12.5" fill="#0000ff" textLength="17.6" lengthAdjust="spacingAndGlyphs">Vol:</text>
<text x="77.9" y="739" font-family="Liberation Sans, Arial, sans-serif" font-size="12.5" fill="#0000ff" textLength="36.5" lengthAdjust="spacingAndGlyphs">140.441</text>
<text x="121.7" y="739" font-family="Liberation Sans, Arial, sans-serif" font-size="12.5" fill="#ff0000" textLength="7.8" lengthAdjust="spacingAndGlyphs">P:</text>
<text x="135.1" y="739" font-family="Liberation Sans, Arial, sans-serif" font-size="12.5" fill="#ff0000" textLength="36.5" lengthAdjust="spacingAndGlyphs">139.911</text>
</svg>
</body></html>
